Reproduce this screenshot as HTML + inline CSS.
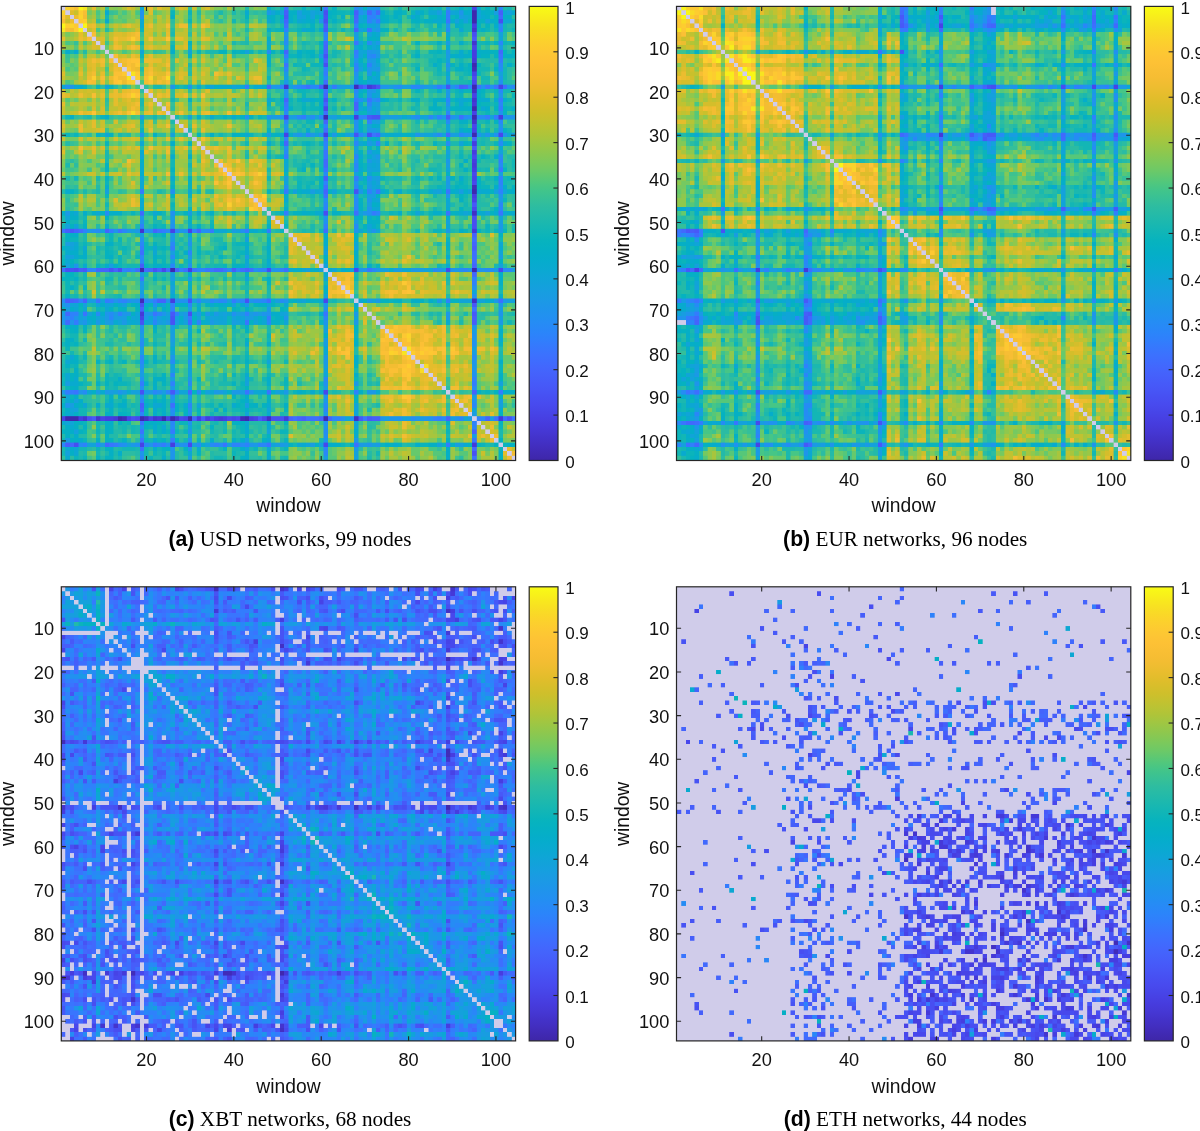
<!DOCTYPE html>
<html><head><meta charset="utf-8"><style>
html,body{margin:0;padding:0;background:#fff;}
body{width:1200px;height:1131px;overflow:hidden;}
svg{display:block;}
body{position:relative;}
.tk{font-family:"Liberation Sans",sans-serif;font-size:18.2px;fill:#111;}
.tkc{font-family:"Liberation Sans",sans-serif;font-size:17px;fill:#111;}
.lb{font-family:"Liberation Sans",sans-serif;font-size:19.3px;fill:#111;}
.cap{font-family:"Liberation Serif",serif;font-size:21.2px;fill:#000;}
.cb{font-family:"Liberation Sans",sans-serif;font-weight:bold;}
</style></head><body>
<svg width="1200" height="1131" viewBox="0 0 1200 1131" style="position:absolute;left:0;top:0;z-index:0" shape-rendering="crispEdges"><g transform="translate(61.30 6.40) scale(17.4731 17.4654)"><path d="M0 0h1.02v1.02h-1.02z" fill="#e4c55d"/><path d="M1 0h1.02v1.02h-1.02z" fill="#d1cb36"/><path d="M2 0h1.02v1.02h-1.02z" fill="#53c181"/><path d="M3 0h1.02v1.02h-1.02z" fill="#75c763"/><path d="M4 0h1.02v1.02h-1.02z" fill="#76bb70"/><path d="M5 0h1.02v1.02h-1.02z" fill="#a7c443"/><path d="M6 0h1.02v1.02h-1.02z" fill="#87c15b"/><path d="M7 0h1.02v1.02h-1.02z" fill="#5ac17a"/><path d="M8 0h1.02v1.02h-1.02z" fill="#7cc560"/><path d="M9 0h1.02v1.02h-1.02z" fill="#51c380"/><path d="M10 0h1.02v1.02h-1.02z" fill="#38bf96"/><path d="M11 0h1.02v1.02h-1.02z" fill="#43bd92"/><path d="M12 0h1.02v1.02h-1.02z" fill="#1d9dd0"/><path d="M13 0h1.02v1.02h-1.02z" fill="#10aec4"/><path d="M14 0h1.02v1.02h-1.02z" fill="#0eabca"/><path d="M15 0h1.02v1.02h-1.02z" fill="#1f9ec6"/><path d="M16 0h1.02v1.02h-1.02z" fill="#29a7bd"/><path d="M17 0h1.02v1.02h-1.02z" fill="#1d96e5"/><path d="M18 0h1.02v1.02h-1.02z" fill="#1da9c3"/><path d="M19 0h1.02v1.02h-1.02z" fill="#1fb9ac"/><path d="M20 0h1.02v1.02h-1.02z" fill="#12b3ba"/><path d="M21 0h1.02v1.02h-1.02z" fill="#0dafc4"/><path d="M22 0h1.02v1.02h-1.02z" fill="#17a0d7"/><path d="M23 0h1.02v1.02h-1.02z" fill="#198cc9"/><path d="M24 0h1.02v1.02h-1.02z" fill="#0cafc4"/><path d="M25 0h1.02v1.02h-1.02z" fill="#1e9dcf"/><path d="M0 1h1.02v1.02h-1.02z" fill="#d1cb36"/><path d="M1 1h1.02v1.02h-1.02z" fill="#e0c95b"/><path d="M2 1h1.02v1.02h-1.02z" fill="#94c450"/><path d="M3 1h1.02v1.02h-1.02z" fill="#cbc035"/><path d="M4 1h1.02v1.02h-1.02z" fill="#aabe4e"/><path d="M5 1h1.02v1.02h-1.02z" fill="#bbc238"/><path d="M6 1h1.02v1.02h-1.02z" fill="#adbf4c"/><path d="M7 1h1.02v1.02h-1.02z" fill="#8ec356"/><path d="M8 1h1.02v1.02h-1.02z" fill="#a4c447"/><path d="M9 1h1.02v1.02h-1.02z" fill="#85c657"/><path d="M10 1h1.02v1.02h-1.02z" fill="#6bc56b"/><path d="M11 1h1.02v1.02h-1.02z" fill="#73c267"/><path d="M12 1h1.02v1.02h-1.02z" fill="#40b2a3"/><path d="M13 1h1.02v1.02h-1.02z" fill="#3dbe92"/><path d="M14 1h1.02v1.02h-1.02z" fill="#28bba5"/><path d="M15 1h1.02v1.02h-1.02z" fill="#4cad9f"/><path d="M16 1h1.02v1.02h-1.02z" fill="#54b392"/><path d="M17 1h1.02v1.02h-1.02z" fill="#18aac6"/><path d="M18 1h1.02v1.02h-1.02z" fill="#39b99d"/><path d="M19 1h1.02v1.02h-1.02z" fill="#60c474"/><path d="M20 1h1.02v1.02h-1.02z" fill="#53c37e"/><path d="M21 1h1.02v1.02h-1.02z" fill="#41c08d"/><path d="M22 1h1.02v1.02h-1.02z" fill="#21b2b6"/><path d="M23 1h1.02v1.02h-1.02z" fill="#359faf"/><path d="M24 1h1.02v1.02h-1.02z" fill="#31bc9c"/><path d="M25 1h1.02v1.02h-1.02z" fill="#2cb3af"/><path d="M0 2h1.02v1.02h-1.02z" fill="#53c181"/><path d="M1 2h1.02v1.02h-1.02z" fill="#94c450"/><path d="M2 2h1.02v1.02h-1.02z" fill="#99c77d"/><path d="M3 2h1.02v1.02h-1.02z" fill="#b9c23f"/><path d="M4 2h1.02v1.02h-1.02z" fill="#90be5e"/><path d="M5 2h1.02v1.02h-1.02z" fill="#99c24f"/><path d="M6 2h1.02v1.02h-1.02z" fill="#7dc062"/><path d="M7 2h1.02v1.02h-1.02z" fill="#5cbe7d"/><path d="M8 2h1.02v1.02h-1.02z" fill="#74c366"/><path d="M9 2h1.02v1.02h-1.02z" fill="#55c17e"/><path d="M10 2h1.02v1.02h-1.02z" fill="#3cbf94"/><path d="M11 2h1.02v1.02h-1.02z" fill="#4cbd8b"/><path d="M12 2h1.02v1.02h-1.02z" fill="#3cb0a8"/><path d="M13 2h1.02v1.02h-1.02z" fill="#28baa4"/><path d="M14 2h1.02v1.02h-1.02z" fill="#1ab6b3"/><path d="M15 2h1.02v1.02h-1.02z" fill="#3aa7b0"/><path d="M16 2h1.02v1.02h-1.02z" fill="#40b2a4"/><path d="M17 2h1.02v1.02h-1.02z" fill="#13a2d8"/><path d="M18 2h1.02v1.02h-1.02z" fill="#35b8a3"/><path d="M19 2h1.02v1.02h-1.02z" fill="#44c28a"/><path d="M20 2h1.02v1.02h-1.02z" fill="#33bd9a"/><path d="M21 2h1.02v1.02h-1.02z" fill="#24baa7"/><path d="M22 2h1.02v1.02h-1.02z" fill="#1bb1bc"/><path d="M23 2h1.02v1.02h-1.02z" fill="#2498bd"/><path d="M24 2h1.02v1.02h-1.02z" fill="#1bb7af"/><path d="M25 2h1.02v1.02h-1.02z" fill="#19a8c7"/><path d="M0 3h1.02v1.02h-1.02z" fill="#75c763"/><path d="M1 3h1.02v1.02h-1.02z" fill="#cbc035"/><path d="M2 3h1.02v1.02h-1.02z" fill="#b9c23f"/><path d="M3 3h1.02v1.02h-1.02z" fill="#ecc360"/><path d="M4 3h1.02v1.02h-1.02z" fill="#bfc24b"/><path d="M5 3h1.02v1.02h-1.02z" fill="#d8bf2f"/><path d="M6 3h1.02v1.02h-1.02z" fill="#a3c24e"/><path d="M7 3h1.02v1.02h-1.02z" fill="#84c25c"/><path d="M8 3h1.02v1.02h-1.02z" fill="#a4c545"/><path d="M9 3h1.02v1.02h-1.02z" fill="#99c44c"/><path d="M10 3h1.02v1.02h-1.02z" fill="#78c661"/><path d="M11 3h1.02v1.02h-1.02z" fill="#89c05a"/><path d="M12 3h1.02v1.02h-1.02z" fill="#4bb798"/><path d="M13 3h1.02v1.02h-1.02z" fill="#2bbda1"/><path d="M14 3h1.02v1.02h-1.02z" fill="#24baa6"/><path d="M15 3h1.02v1.02h-1.02z" fill="#3dacaa"/><path d="M16 3h1.02v1.02h-1.02z" fill="#3eb4a3"/><path d="M17 3h1.02v1.02h-1.02z" fill="#16a6d1"/><path d="M18 3h1.02v1.02h-1.02z" fill="#34b9a1"/><path d="M19 3h1.02v1.02h-1.02z" fill="#4fc382"/><path d="M20 3h1.02v1.02h-1.02z" fill="#39c094"/><path d="M21 3h1.02v1.02h-1.02z" fill="#1db9ad"/><path d="M22 3h1.02v1.02h-1.02z" fill="#1cb2b9"/><path d="M23 3h1.02v1.02h-1.02z" fill="#2196b9"/><path d="M24 3h1.02v1.02h-1.02z" fill="#28bba4"/><path d="M25 3h1.02v1.02h-1.02z" fill="#21aebc"/><path d="M0 4h1.02v1.02h-1.02z" fill="#76bb70"/><path d="M1 4h1.02v1.02h-1.02z" fill="#aabe4e"/><path d="M2 4h1.02v1.02h-1.02z" fill="#90be5e"/><path d="M3 4h1.02v1.02h-1.02z" fill="#bfc24b"/><path d="M4 4h1.02v1.02h-1.02z" fill="#afc57d"/><path d="M5 4h1.02v1.02h-1.02z" fill="#b1c04c"/><path d="M6 4h1.02v1.02h-1.02z" fill="#8abf63"/><path d="M7 4h1.02v1.02h-1.02z" fill="#6cbe73"/><path d="M8 4h1.02v1.02h-1.02z" fill="#8abe5d"/><path d="M9 4h1.02v1.02h-1.02z" fill="#75be6b"/><path d="M10 4h1.02v1.02h-1.02z" fill="#78bb6f"/><path d="M11 4h1.02v1.02h-1.02z" fill="#73b678"/><path d="M12 4h1.02v1.02h-1.02z" fill="#3da9ad"/><path d="M13 4h1.02v1.02h-1.02z" fill="#31b2ad"/><path d="M14 4h1.02v1.02h-1.02z" fill="#2caab8"/><path d="M15 4h1.02v1.02h-1.02z" fill="#36a0b8"/><path d="M16 4h1.02v1.02h-1.02z" fill="#3baaab"/><path d="M17 4h1.02v1.02h-1.02z" fill="#1d93d4"/><path d="M18 4h1.02v1.02h-1.02z" fill="#36b0ac"/><path d="M19 4h1.02v1.02h-1.02z" fill="#46b898"/><path d="M20 4h1.02v1.02h-1.02z" fill="#38b4a8"/><path d="M21 4h1.02v1.02h-1.02z" fill="#2bb1b4"/><path d="M22 4h1.02v1.02h-1.02z" fill="#26a3c6"/><path d="M23 4h1.02v1.02h-1.02z" fill="#318dc2"/><path d="M24 4h1.02v1.02h-1.02z" fill="#25adbb"/><path d="M25 4h1.02v1.02h-1.02z" fill="#28a1c7"/><path d="M0 5h1.02v1.02h-1.02z" fill="#a7c443"/><path d="M1 5h1.02v1.02h-1.02z" fill="#bbc238"/><path d="M2 5h1.02v1.02h-1.02z" fill="#99c24f"/><path d="M3 5h1.02v1.02h-1.02z" fill="#d8bf2f"/><path d="M4 5h1.02v1.02h-1.02z" fill="#b1c04c"/><path d="M5 5h1.02v1.02h-1.02z" fill="#c2c564"/><path d="M6 5h1.02v1.02h-1.02z" fill="#94c058"/><path d="M7 5h1.02v1.02h-1.02z" fill="#77c366"/><path d="M8 5h1.02v1.02h-1.02z" fill="#99c54c"/><path d="M9 5h1.02v1.02h-1.02z" fill="#88c655"/><path d="M10 5h1.02v1.02h-1.02z" fill="#73c565"/><path d="M11 5h1.02v1.02h-1.02z" fill="#71c16a"/><path d="M12 5h1.02v1.02h-1.02z" fill="#2cabb8"/><path d="M13 5h1.02v1.02h-1.02z" fill="#1ab7b1"/><path d="M14 5h1.02v1.02h-1.02z" fill="#14b5b7"/><path d="M15 5h1.02v1.02h-1.02z" fill="#34a4b4"/><path d="M16 5h1.02v1.02h-1.02z" fill="#3eaea8"/><path d="M17 5h1.02v1.02h-1.02z" fill="#18a0d9"/><path d="M18 5h1.02v1.02h-1.02z" fill="#29b4b0"/><path d="M19 5h1.02v1.02h-1.02z" fill="#40c08e"/><path d="M20 5h1.02v1.02h-1.02z" fill="#2bbca2"/><path d="M21 5h1.02v1.02h-1.02z" fill="#19b6b2"/><path d="M22 5h1.02v1.02h-1.02z" fill="#14aac9"/><path d="M23 5h1.02v1.02h-1.02z" fill="#1e94bf"/><path d="M24 5h1.02v1.02h-1.02z" fill="#17b4b7"/><path d="M25 5h1.02v1.02h-1.02z" fill="#1baac5"/><path d="M0 6h1.02v1.02h-1.02z" fill="#87c15b"/><path d="M1 6h1.02v1.02h-1.02z" fill="#adbf4c"/><path d="M2 6h1.02v1.02h-1.02z" fill="#7dc062"/><path d="M3 6h1.02v1.02h-1.02z" fill="#a3c24e"/><path d="M4 6h1.02v1.02h-1.02z" fill="#8abf63"/><path d="M5 6h1.02v1.02h-1.02z" fill="#94c058"/><path d="M6 6h1.02v1.02h-1.02z" fill="#9cc381"/><path d="M7 6h1.02v1.02h-1.02z" fill="#78bf6a"/><path d="M8 6h1.02v1.02h-1.02z" fill="#91bf58"/><path d="M9 6h1.02v1.02h-1.02z" fill="#80c063"/><path d="M10 6h1.02v1.02h-1.02z" fill="#6abe74"/><path d="M11 6h1.02v1.02h-1.02z" fill="#6fbd70"/><path d="M12 6h1.02v1.02h-1.02z" fill="#4caba3"/><path d="M13 6h1.02v1.02h-1.02z" fill="#2bb2b2"/><path d="M14 6h1.02v1.02h-1.02z" fill="#26b1b5"/><path d="M15 6h1.02v1.02h-1.02z" fill="#36a3b4"/><path d="M16 6h1.02v1.02h-1.02z" fill="#41aea5"/><path d="M17 6h1.02v1.02h-1.02z" fill="#1f9ad5"/><path d="M18 6h1.02v1.02h-1.02z" fill="#38afac"/><path d="M19 6h1.02v1.02h-1.02z" fill="#45bd92"/><path d="M20 6h1.02v1.02h-1.02z" fill="#36b7a4"/><path d="M21 6h1.02v1.02h-1.02z" fill="#2db3b1"/><path d="M22 6h1.02v1.02h-1.02z" fill="#23a3c9"/><path d="M23 6h1.02v1.02h-1.02z" fill="#2890c4"/><path d="M24 6h1.02v1.02h-1.02z" fill="#23aebb"/><path d="M25 6h1.02v1.02h-1.02z" fill="#28a5c2"/><path d="M0 7h1.02v1.02h-1.02z" fill="#5ac17a"/><path d="M1 7h1.02v1.02h-1.02z" fill="#8ec356"/><path d="M2 7h1.02v1.02h-1.02z" fill="#5cbe7d"/><path d="M3 7h1.02v1.02h-1.02z" fill="#84c25c"/><path d="M4 7h1.02v1.02h-1.02z" fill="#6cbe73"/><path d="M5 7h1.02v1.02h-1.02z" fill="#77c366"/><path d="M6 7h1.02v1.02h-1.02z" fill="#78bf6a"/><path d="M7 7h1.02v1.02h-1.02z" fill="#7cc493"/><path d="M8 7h1.02v1.02h-1.02z" fill="#86c25d"/><path d="M9 7h1.02v1.02h-1.02z" fill="#72c268"/><path d="M10 7h1.02v1.02h-1.02z" fill="#58bf7d"/><path d="M11 7h1.02v1.02h-1.02z" fill="#5fbd7c"/><path d="M12 7h1.02v1.02h-1.02z" fill="#2fa8b5"/><path d="M13 7h1.02v1.02h-1.02z" fill="#27b6ae"/><path d="M14 7h1.02v1.02h-1.02z" fill="#22b1b8"/><path d="M15 7h1.02v1.02h-1.02z" fill="#37a6b3"/><path d="M16 7h1.02v1.02h-1.02z" fill="#3daeab"/><path d="M17 7h1.02v1.02h-1.02z" fill="#1b9ed5"/><path d="M18 7h1.02v1.02h-1.02z" fill="#32b1ae"/><path d="M19 7h1.02v1.02h-1.02z" fill="#40be91"/><path d="M20 7h1.02v1.02h-1.02z" fill="#36b9a0"/><path d="M21 7h1.02v1.02h-1.02z" fill="#2db6ab"/><path d="M22 7h1.02v1.02h-1.02z" fill="#22a9c4"/><path d="M23 7h1.02v1.02h-1.02z" fill="#2493c7"/><path d="M24 7h1.02v1.02h-1.02z" fill="#24b4b3"/><path d="M25 7h1.02v1.02h-1.02z" fill="#23a6c4"/><path d="M0 8h1.02v1.02h-1.02z" fill="#7cc560"/><path d="M1 8h1.02v1.02h-1.02z" fill="#a4c447"/><path d="M2 8h1.02v1.02h-1.02z" fill="#74c366"/><path d="M3 8h1.02v1.02h-1.02z" fill="#a4c545"/><path d="M4 8h1.02v1.02h-1.02z" fill="#8abe5d"/><path d="M5 8h1.02v1.02h-1.02z" fill="#99c54c"/><path d="M6 8h1.02v1.02h-1.02z" fill="#91bf58"/><path d="M7 8h1.02v1.02h-1.02z" fill="#86c25d"/><path d="M8 8h1.02v1.02h-1.02z" fill="#c7c463"/><path d="M9 8h1.02v1.02h-1.02z" fill="#b7c23e"/><path d="M10 8h1.02v1.02h-1.02z" fill="#98c350"/><path d="M11 8h1.02v1.02h-1.02z" fill="#8bc15a"/><path d="M12 8h1.02v1.02h-1.02z" fill="#4ab697"/><path d="M13 8h1.02v1.02h-1.02z" fill="#49c386"/><path d="M14 8h1.02v1.02h-1.02z" fill="#2bbca1"/><path d="M15 8h1.02v1.02h-1.02z" fill="#4cb19d"/><path d="M16 8h1.02v1.02h-1.02z" fill="#63b982"/><path d="M17 8h1.02v1.02h-1.02z" fill="#19afbf"/><path d="M18 8h1.02v1.02h-1.02z" fill="#4dbd8b"/><path d="M19 8h1.02v1.02h-1.02z" fill="#6dc56a"/><path d="M20 8h1.02v1.02h-1.02z" fill="#50c282"/><path d="M21 8h1.02v1.02h-1.02z" fill="#48c288"/><path d="M22 8h1.02v1.02h-1.02z" fill="#2bb8a8"/><path d="M23 8h1.02v1.02h-1.02z" fill="#39a0ad"/><path d="M24 8h1.02v1.02h-1.02z" fill="#37be97"/><path d="M25 8h1.02v1.02h-1.02z" fill="#31b5aa"/><path d="M0 9h1.02v1.02h-1.02z" fill="#51c380"/><path d="M1 9h1.02v1.02h-1.02z" fill="#85c657"/><path d="M2 9h1.02v1.02h-1.02z" fill="#55c17e"/><path d="M3 9h1.02v1.02h-1.02z" fill="#99c44c"/><path d="M4 9h1.02v1.02h-1.02z" fill="#75be6b"/><path d="M5 9h1.02v1.02h-1.02z" fill="#88c655"/><path d="M6 9h1.02v1.02h-1.02z" fill="#80c063"/><path d="M7 9h1.02v1.02h-1.02z" fill="#72c268"/><path d="M8 9h1.02v1.02h-1.02z" fill="#b7c23e"/><path d="M9 9h1.02v1.02h-1.02z" fill="#dfc361"/><path d="M10 9h1.02v1.02h-1.02z" fill="#c7c136"/><path d="M11 9h1.02v1.02h-1.02z" fill="#afbf4b"/><path d="M12 9h1.02v1.02h-1.02z" fill="#7abd6a"/><path d="M13 9h1.02v1.02h-1.02z" fill="#35be98"/><path d="M14 9h1.02v1.02h-1.02z" fill="#2fbc9d"/><path d="M15 9h1.02v1.02h-1.02z" fill="#45ada4"/><path d="M16 9h1.02v1.02h-1.02z" fill="#4ab699"/><path d="M17 9h1.02v1.02h-1.02z" fill="#12abca"/><path d="M18 9h1.02v1.02h-1.02z" fill="#3bbb99"/><path d="M19 9h1.02v1.02h-1.02z" fill="#54c27e"/><path d="M20 9h1.02v1.02h-1.02z" fill="#3fc090"/><path d="M21 9h1.02v1.02h-1.02z" fill="#2cbca0"/><path d="M22 9h1.02v1.02h-1.02z" fill="#28b5ad"/><path d="M23 9h1.02v1.02h-1.02z" fill="#319cb2"/><path d="M24 9h1.02v1.02h-1.02z" fill="#35be98"/><path d="M25 9h1.02v1.02h-1.02z" fill="#27aeb8"/><path d="M0 10h1.02v1.02h-1.02z" fill="#38bf96"/><path d="M1 10h1.02v1.02h-1.02z" fill="#6bc56b"/><path d="M2 10h1.02v1.02h-1.02z" fill="#3cbf94"/><path d="M3 10h1.02v1.02h-1.02z" fill="#78c661"/><path d="M4 10h1.02v1.02h-1.02z" fill="#78bb6f"/><path d="M5 10h1.02v1.02h-1.02z" fill="#73c565"/><path d="M6 10h1.02v1.02h-1.02z" fill="#6abe74"/><path d="M7 10h1.02v1.02h-1.02z" fill="#58bf7d"/><path d="M8 10h1.02v1.02h-1.02z" fill="#98c350"/><path d="M9 10h1.02v1.02h-1.02z" fill="#c7c136"/><path d="M10 10h1.02v1.02h-1.02z" fill="#b9c567"/><path d="M11 10h1.02v1.02h-1.02z" fill="#b0c14b"/><path d="M12 10h1.02v1.02h-1.02z" fill="#5fb983"/><path d="M13 10h1.02v1.02h-1.02z" fill="#27b9a7"/><path d="M14 10h1.02v1.02h-1.02z" fill="#17b3ba"/><path d="M15 10h1.02v1.02h-1.02z" fill="#36aab4"/><path d="M16 10h1.02v1.02h-1.02z" fill="#3db1a5"/><path d="M17 10h1.02v1.02h-1.02z" fill="#15a6d1"/><path d="M18 10h1.02v1.02h-1.02z" fill="#2eb5aa"/><path d="M19 10h1.02v1.02h-1.02z" fill="#48c089"/><path d="M20 10h1.02v1.02h-1.02z" fill="#36bd98"/><path d="M21 10h1.02v1.02h-1.02z" fill="#1eb6b1"/><path d="M22 10h1.02v1.02h-1.02z" fill="#17aac7"/><path d="M23 10h1.02v1.02h-1.02z" fill="#2094bf"/><path d="M24 10h1.02v1.02h-1.02z" fill="#19b5b5"/><path d="M25 10h1.02v1.02h-1.02z" fill="#1baac6"/><path d="M0 11h1.02v1.02h-1.02z" fill="#43bd92"/><path d="M1 11h1.02v1.02h-1.02z" fill="#73c267"/><path d="M2 11h1.02v1.02h-1.02z" fill="#4cbd8b"/><path d="M3 11h1.02v1.02h-1.02z" fill="#89c05a"/><path d="M4 11h1.02v1.02h-1.02z" fill="#73b678"/><path d="M5 11h1.02v1.02h-1.02z" fill="#71c16a"/><path d="M6 11h1.02v1.02h-1.02z" fill="#6fbd70"/><path d="M7 11h1.02v1.02h-1.02z" fill="#5fbd7c"/><path d="M8 11h1.02v1.02h-1.02z" fill="#8bc15a"/><path d="M9 11h1.02v1.02h-1.02z" fill="#afbf4b"/><path d="M10 11h1.02v1.02h-1.02z" fill="#b0c14b"/><path d="M11 11h1.02v1.02h-1.02z" fill="#b6c478"/><path d="M12 11h1.02v1.02h-1.02z" fill="#6bb878"/><path d="M13 11h1.02v1.02h-1.02z" fill="#35bf97"/><path d="M14 11h1.02v1.02h-1.02z" fill="#26baa7"/><path d="M15 11h1.02v1.02h-1.02z" fill="#47b09e"/><path d="M16 11h1.02v1.02h-1.02z" fill="#49b39c"/><path d="M17 11h1.02v1.02h-1.02z" fill="#17a5d1"/><path d="M18 11h1.02v1.02h-1.02z" fill="#41bb96"/><path d="M19 11h1.02v1.02h-1.02z" fill="#58c37b"/><path d="M20 11h1.02v1.02h-1.02z" fill="#3dbe93"/><path d="M21 11h1.02v1.02h-1.02z" fill="#2cbca1"/><path d="M22 11h1.02v1.02h-1.02z" fill="#1eb1b8"/><path d="M23 11h1.02v1.02h-1.02z" fill="#2699c0"/><path d="M24 11h1.02v1.02h-1.02z" fill="#24b8ab"/><path d="M25 11h1.02v1.02h-1.02z" fill="#2badb9"/><path d="M0 12h1.02v1.02h-1.02z" fill="#1d9dd0"/><path d="M1 12h1.02v1.02h-1.02z" fill="#40b2a3"/><path d="M2 12h1.02v1.02h-1.02z" fill="#3cb0a8"/><path d="M3 12h1.02v1.02h-1.02z" fill="#4bb798"/><path d="M4 12h1.02v1.02h-1.02z" fill="#3da9ad"/><path d="M5 12h1.02v1.02h-1.02z" fill="#2cabb8"/><path d="M6 12h1.02v1.02h-1.02z" fill="#4caba3"/><path d="M7 12h1.02v1.02h-1.02z" fill="#2fa8b5"/><path d="M8 12h1.02v1.02h-1.02z" fill="#4ab697"/><path d="M9 12h1.02v1.02h-1.02z" fill="#7abd6a"/><path d="M10 12h1.02v1.02h-1.02z" fill="#5fb983"/><path d="M11 12h1.02v1.02h-1.02z" fill="#6bb878"/><path d="M12 12h1.02v1.02h-1.02z" fill="#8fbf8c"/><path d="M13 12h1.02v1.02h-1.02z" fill="#60c474"/><path d="M14 12h1.02v1.02h-1.02z" fill="#3dc190"/><path d="M15 12h1.02v1.02h-1.02z" fill="#60b68a"/><path d="M16 12h1.02v1.02h-1.02z" fill="#64bc7e"/><path d="M17 12h1.02v1.02h-1.02z" fill="#14b0c0"/><path d="M18 12h1.02v1.02h-1.02z" fill="#54c081"/><path d="M19 12h1.02v1.02h-1.02z" fill="#77c661"/><path d="M20 12h1.02v1.02h-1.02z" fill="#67c66d"/><path d="M21 12h1.02v1.02h-1.02z" fill="#43c18b"/><path d="M22 12h1.02v1.02h-1.02z" fill="#30b8a5"/><path d="M23 12h1.02v1.02h-1.02z" fill="#40a2a7"/><path d="M24 12h1.02v1.02h-1.02z" fill="#39bf94"/><path d="M25 12h1.02v1.02h-1.02z" fill="#32b8a5"/><path d="M0 13h1.02v1.02h-1.02z" fill="#10aec4"/><path d="M1 13h1.02v1.02h-1.02z" fill="#3dbe92"/><path d="M2 13h1.02v1.02h-1.02z" fill="#28baa4"/><path d="M3 13h1.02v1.02h-1.02z" fill="#2bbda1"/><path d="M4 13h1.02v1.02h-1.02z" fill="#31b2ad"/><path d="M5 13h1.02v1.02h-1.02z" fill="#1ab7b1"/><path d="M6 13h1.02v1.02h-1.02z" fill="#2bb2b2"/><path d="M7 13h1.02v1.02h-1.02z" fill="#27b6ae"/><path d="M8 13h1.02v1.02h-1.02z" fill="#49c386"/><path d="M9 13h1.02v1.02h-1.02z" fill="#35be98"/><path d="M10 13h1.02v1.02h-1.02z" fill="#27b9a7"/><path d="M11 13h1.02v1.02h-1.02z" fill="#35bf97"/><path d="M12 13h1.02v1.02h-1.02z" fill="#60c474"/><path d="M13 13h1.02v1.02h-1.02z" fill="#d7c25d"/><path d="M14 13h1.02v1.02h-1.02z" fill="#bfc234"/><path d="M15 13h1.02v1.02h-1.02z" fill="#90bc5c"/><path d="M16 13h1.02v1.02h-1.02z" fill="#a1ba56"/><path d="M17 13h1.02v1.02h-1.02z" fill="#58c37b"/><path d="M18 13h1.02v1.02h-1.02z" fill="#8bc554"/><path d="M19 13h1.02v1.02h-1.02z" fill="#a9c53e"/><path d="M20 13h1.02v1.02h-1.02z" fill="#95c64b"/><path d="M21 13h1.02v1.02h-1.02z" fill="#77c661"/><path d="M22 13h1.02v1.02h-1.02z" fill="#5ec177"/><path d="M23 13h1.02v1.02h-1.02z" fill="#71af82"/><path d="M24 13h1.02v1.02h-1.02z" fill="#7ec75c"/><path d="M25 13h1.02v1.02h-1.02z" fill="#5fc277"/><path d="M0 14h1.02v1.02h-1.02z" fill="#0eabca"/><path d="M1 14h1.02v1.02h-1.02z" fill="#28bba5"/><path d="M2 14h1.02v1.02h-1.02z" fill="#1ab6b3"/><path d="M3 14h1.02v1.02h-1.02z" fill="#24baa6"/><path d="M4 14h1.02v1.02h-1.02z" fill="#2caab8"/><path d="M5 14h1.02v1.02h-1.02z" fill="#14b5b7"/><path d="M6 14h1.02v1.02h-1.02z" fill="#26b1b5"/><path d="M7 14h1.02v1.02h-1.02z" fill="#22b1b8"/><path d="M8 14h1.02v1.02h-1.02z" fill="#2bbca1"/><path d="M9 14h1.02v1.02h-1.02z" fill="#2fbc9d"/><path d="M10 14h1.02v1.02h-1.02z" fill="#17b3ba"/><path d="M11 14h1.02v1.02h-1.02z" fill="#26baa7"/><path d="M12 14h1.02v1.02h-1.02z" fill="#3dc190"/><path d="M13 14h1.02v1.02h-1.02z" fill="#bfc234"/><path d="M14 14h1.02v1.02h-1.02z" fill="#bdc465"/><path d="M15 14h1.02v1.02h-1.02z" fill="#87bc61"/><path d="M16 14h1.02v1.02h-1.02z" fill="#91bd59"/><path d="M17 14h1.02v1.02h-1.02z" fill="#4ac186"/><path d="M18 14h1.02v1.02h-1.02z" fill="#83c558"/><path d="M19 14h1.02v1.02h-1.02z" fill="#9ec549"/><path d="M20 14h1.02v1.02h-1.02z" fill="#88c654"/><path d="M21 14h1.02v1.02h-1.02z" fill="#68c56d"/><path d="M22 14h1.02v1.02h-1.02z" fill="#58c07e"/><path d="M23 14h1.02v1.02h-1.02z" fill="#5ab093"/><path d="M24 14h1.02v1.02h-1.02z" fill="#66c76d"/><path d="M25 14h1.02v1.02h-1.02z" fill="#47bd90"/><path d="M0 15h1.02v1.02h-1.02z" fill="#1f9ec6"/><path d="M1 15h1.02v1.02h-1.02z" fill="#4cad9f"/><path d="M2 15h1.02v1.02h-1.02z" fill="#3aa7b0"/><path d="M3 15h1.02v1.02h-1.02z" fill="#3dacaa"/><path d="M4 15h1.02v1.02h-1.02z" fill="#36a0b8"/><path d="M5 15h1.02v1.02h-1.02z" fill="#34a4b4"/><path d="M6 15h1.02v1.02h-1.02z" fill="#36a3b4"/><path d="M7 15h1.02v1.02h-1.02z" fill="#37a6b3"/><path d="M8 15h1.02v1.02h-1.02z" fill="#4cb19d"/><path d="M9 15h1.02v1.02h-1.02z" fill="#45ada4"/><path d="M10 15h1.02v1.02h-1.02z" fill="#36aab4"/><path d="M11 15h1.02v1.02h-1.02z" fill="#47b09e"/><path d="M12 15h1.02v1.02h-1.02z" fill="#60b68a"/><path d="M13 15h1.02v1.02h-1.02z" fill="#90bc5c"/><path d="M14 15h1.02v1.02h-1.02z" fill="#87bc61"/><path d="M15 15h1.02v1.02h-1.02z" fill="#8ebb97"/><path d="M16 15h1.02v1.02h-1.02z" fill="#92b271"/><path d="M17 15h1.02v1.02h-1.02z" fill="#6ab781"/><path d="M18 15h1.02v1.02h-1.02z" fill="#88ba67"/><path d="M19 15h1.02v1.02h-1.02z" fill="#a6b85b"/><path d="M20 15h1.02v1.02h-1.02z" fill="#95b85f"/><path d="M21 15h1.02v1.02h-1.02z" fill="#87b968"/><path d="M22 15h1.02v1.02h-1.02z" fill="#73b17e"/><path d="M23 15h1.02v1.02h-1.02z" fill="#66a393"/><path d="M24 15h1.02v1.02h-1.02z" fill="#82b86e"/><path d="M25 15h1.02v1.02h-1.02z" fill="#49b09c"/><path d="M0 16h1.02v1.02h-1.02z" fill="#29a7bd"/><path d="M1 16h1.02v1.02h-1.02z" fill="#54b392"/><path d="M2 16h1.02v1.02h-1.02z" fill="#40b2a4"/><path d="M3 16h1.02v1.02h-1.02z" fill="#3eb4a3"/><path d="M4 16h1.02v1.02h-1.02z" fill="#3baaab"/><path d="M5 16h1.02v1.02h-1.02z" fill="#3eaea8"/><path d="M6 16h1.02v1.02h-1.02z" fill="#41aea5"/><path d="M7 16h1.02v1.02h-1.02z" fill="#3daeab"/><path d="M8 16h1.02v1.02h-1.02z" fill="#63b982"/><path d="M9 16h1.02v1.02h-1.02z" fill="#4ab699"/><path d="M10 16h1.02v1.02h-1.02z" fill="#3db1a5"/><path d="M11 16h1.02v1.02h-1.02z" fill="#49b39c"/><path d="M12 16h1.02v1.02h-1.02z" fill="#64bc7e"/><path d="M13 16h1.02v1.02h-1.02z" fill="#a1ba56"/><path d="M14 16h1.02v1.02h-1.02z" fill="#91bd59"/><path d="M15 16h1.02v1.02h-1.02z" fill="#92b271"/><path d="M16 16h1.02v1.02h-1.02z" fill="#a1c488"/><path d="M17 16h1.02v1.02h-1.02z" fill="#70be71"/><path d="M18 16h1.02v1.02h-1.02z" fill="#95bc5f"/><path d="M19 16h1.02v1.02h-1.02z" fill="#afbc51"/><path d="M20 16h1.02v1.02h-1.02z" fill="#9abd55"/><path d="M21 16h1.02v1.02h-1.02z" fill="#97bc57"/><path d="M22 16h1.02v1.02h-1.02z" fill="#78ba70"/><path d="M23 16h1.02v1.02h-1.02z" fill="#6eac82"/><path d="M24 16h1.02v1.02h-1.02z" fill="#80bd66"/><path d="M25 16h1.02v1.02h-1.02z" fill="#63b684"/><path d="M0 17h1.02v1.02h-1.02z" fill="#1d96e5"/><path d="M1 17h1.02v1.02h-1.02z" fill="#18aac6"/><path d="M2 17h1.02v1.02h-1.02z" fill="#13a2d8"/><path d="M3 17h1.02v1.02h-1.02z" fill="#16a6d1"/><path d="M4 17h1.02v1.02h-1.02z" fill="#1d93d4"/><path d="M5 17h1.02v1.02h-1.02z" fill="#18a0d9"/><path d="M6 17h1.02v1.02h-1.02z" fill="#1f9ad5"/><path d="M7 17h1.02v1.02h-1.02z" fill="#1b9ed5"/><path d="M8 17h1.02v1.02h-1.02z" fill="#19afbf"/><path d="M9 17h1.02v1.02h-1.02z" fill="#12abca"/><path d="M10 17h1.02v1.02h-1.02z" fill="#15a6d1"/><path d="M11 17h1.02v1.02h-1.02z" fill="#17a5d1"/><path d="M12 17h1.02v1.02h-1.02z" fill="#14b0c0"/><path d="M13 17h1.02v1.02h-1.02z" fill="#58c37b"/><path d="M14 17h1.02v1.02h-1.02z" fill="#4ac186"/><path d="M15 17h1.02v1.02h-1.02z" fill="#6ab781"/><path d="M16 17h1.02v1.02h-1.02z" fill="#70be71"/><path d="M17 17h1.02v1.02h-1.02z" fill="#abc76e"/><path d="M18 17h1.02v1.02h-1.02z" fill="#84c758"/><path d="M19 17h1.02v1.02h-1.02z" fill="#88c556"/><path d="M20 17h1.02v1.02h-1.02z" fill="#62c472"/><path d="M21 17h1.02v1.02h-1.02z" fill="#45c28a"/><path d="M22 17h1.02v1.02h-1.02z" fill="#57be83"/><path d="M23 17h1.02v1.02h-1.02z" fill="#53ab9a"/><path d="M24 17h1.02v1.02h-1.02z" fill="#56c47c"/><path d="M25 17h1.02v1.02h-1.02z" fill="#3bb9a0"/><path d="M0 18h1.02v1.02h-1.02z" fill="#1da9c3"/><path d="M1 18h1.02v1.02h-1.02z" fill="#39b99d"/><path d="M2 18h1.02v1.02h-1.02z" fill="#35b8a3"/><path d="M3 18h1.02v1.02h-1.02z" fill="#34b9a1"/><path d="M4 18h1.02v1.02h-1.02z" fill="#36b0ac"/><path d="M5 18h1.02v1.02h-1.02z" fill="#29b4b0"/><path d="M6 18h1.02v1.02h-1.02z" fill="#38afac"/><path d="M7 18h1.02v1.02h-1.02z" fill="#32b1ae"/><path d="M8 18h1.02v1.02h-1.02z" fill="#4dbd8b"/><path d="M9 18h1.02v1.02h-1.02z" fill="#3bbb99"/><path d="M10 18h1.02v1.02h-1.02z" fill="#2eb5aa"/><path d="M11 18h1.02v1.02h-1.02z" fill="#41bb96"/><path d="M12 18h1.02v1.02h-1.02z" fill="#54c081"/><path d="M13 18h1.02v1.02h-1.02z" fill="#8bc554"/><path d="M14 18h1.02v1.02h-1.02z" fill="#83c558"/><path d="M15 18h1.02v1.02h-1.02z" fill="#88ba67"/><path d="M16 18h1.02v1.02h-1.02z" fill="#95bc5f"/><path d="M17 18h1.02v1.02h-1.02z" fill="#84c758"/><path d="M18 18h1.02v1.02h-1.02z" fill="#bec66f"/><path d="M19 18h1.02v1.02h-1.02z" fill="#ddc339"/><path d="M20 18h1.02v1.02h-1.02z" fill="#cdc03c"/><path d="M21 18h1.02v1.02h-1.02z" fill="#bbbf43"/><path d="M22 18h1.02v1.02h-1.02z" fill="#98c057"/><path d="M23 18h1.02v1.02h-1.02z" fill="#8ab46e"/><path d="M24 18h1.02v1.02h-1.02z" fill="#95c44e"/><path d="M25 18h1.02v1.02h-1.02z" fill="#5abe7f"/><path d="M0 19h1.02v1.02h-1.02z" fill="#1fb9ac"/><path d="M1 19h1.02v1.02h-1.02z" fill="#60c474"/><path d="M2 19h1.02v1.02h-1.02z" fill="#44c28a"/><path d="M3 19h1.02v1.02h-1.02z" fill="#4fc382"/><path d="M4 19h1.02v1.02h-1.02z" fill="#46b898"/><path d="M5 19h1.02v1.02h-1.02z" fill="#40c08e"/><path d="M6 19h1.02v1.02h-1.02z" fill="#45bd92"/><path d="M7 19h1.02v1.02h-1.02z" fill="#40be91"/><path d="M8 19h1.02v1.02h-1.02z" fill="#6dc56a"/><path d="M9 19h1.02v1.02h-1.02z" fill="#54c27e"/><path d="M10 19h1.02v1.02h-1.02z" fill="#48c089"/><path d="M11 19h1.02v1.02h-1.02z" fill="#58c37b"/><path d="M12 19h1.02v1.02h-1.02z" fill="#77c661"/><path d="M13 19h1.02v1.02h-1.02z" fill="#a9c53e"/><path d="M14 19h1.02v1.02h-1.02z" fill="#9ec549"/><path d="M15 19h1.02v1.02h-1.02z" fill="#a6b85b"/><path d="M16 19h1.02v1.02h-1.02z" fill="#afbc51"/><path d="M17 19h1.02v1.02h-1.02z" fill="#88c556"/><path d="M18 19h1.02v1.02h-1.02z" fill="#ddc339"/><path d="M19 19h1.02v1.02h-1.02z" fill="#eec95e"/><path d="M20 19h1.02v1.02h-1.02z" fill="#f2c131"/><path d="M21 19h1.02v1.02h-1.02z" fill="#e6c031"/><path d="M22 19h1.02v1.02h-1.02z" fill="#b9c342"/><path d="M23 19h1.02v1.02h-1.02z" fill="#a7b55e"/><path d="M24 19h1.02v1.02h-1.02z" fill="#b6c33c"/><path d="M25 19h1.02v1.02h-1.02z" fill="#7bc162"/><path d="M0 20h1.02v1.02h-1.02z" fill="#12b3ba"/><path d="M1 20h1.02v1.02h-1.02z" fill="#53c37e"/><path d="M2 20h1.02v1.02h-1.02z" fill="#33bd9a"/><path d="M3 20h1.02v1.02h-1.02z" fill="#39c094"/><path d="M4 20h1.02v1.02h-1.02z" fill="#38b4a8"/><path d="M5 20h1.02v1.02h-1.02z" fill="#2bbca2"/><path d="M6 20h1.02v1.02h-1.02z" fill="#36b7a4"/><path d="M7 20h1.02v1.02h-1.02z" fill="#36b9a0"/><path d="M8 20h1.02v1.02h-1.02z" fill="#50c282"/><path d="M9 20h1.02v1.02h-1.02z" fill="#3fc090"/><path d="M10 20h1.02v1.02h-1.02z" fill="#36bd98"/><path d="M11 20h1.02v1.02h-1.02z" fill="#3dbe93"/><path d="M12 20h1.02v1.02h-1.02z" fill="#67c66d"/><path d="M13 20h1.02v1.02h-1.02z" fill="#95c64b"/><path d="M14 20h1.02v1.02h-1.02z" fill="#88c654"/><path d="M15 20h1.02v1.02h-1.02z" fill="#95b85f"/><path d="M16 20h1.02v1.02h-1.02z" fill="#9abd55"/><path d="M17 20h1.02v1.02h-1.02z" fill="#62c472"/><path d="M18 20h1.02v1.02h-1.02z" fill="#cdc03c"/><path d="M19 20h1.02v1.02h-1.02z" fill="#f2c131"/><path d="M20 20h1.02v1.02h-1.02z" fill="#e4c65e"/><path d="M21 20h1.02v1.02h-1.02z" fill="#ddbe2f"/><path d="M22 20h1.02v1.02h-1.02z" fill="#adc146"/><path d="M23 20h1.02v1.02h-1.02z" fill="#90b766"/><path d="M24 20h1.02v1.02h-1.02z" fill="#aac43d"/><path d="M25 20h1.02v1.02h-1.02z" fill="#62c373"/><path d="M0 21h1.02v1.02h-1.02z" fill="#0dafc4"/><path d="M1 21h1.02v1.02h-1.02z" fill="#41c08d"/><path d="M2 21h1.02v1.02h-1.02z" fill="#24baa7"/><path d="M3 21h1.02v1.02h-1.02z" fill="#1db9ad"/><path d="M4 21h1.02v1.02h-1.02z" fill="#2bb1b4"/><path d="M5 21h1.02v1.02h-1.02z" fill="#19b6b2"/><path d="M6 21h1.02v1.02h-1.02z" fill="#2db3b1"/><path d="M7 21h1.02v1.02h-1.02z" fill="#2db6ab"/><path d="M8 21h1.02v1.02h-1.02z" fill="#48c288"/><path d="M9 21h1.02v1.02h-1.02z" fill="#2cbca0"/><path d="M10 21h1.02v1.02h-1.02z" fill="#1eb6b1"/><path d="M11 21h1.02v1.02h-1.02z" fill="#2cbca1"/><path d="M12 21h1.02v1.02h-1.02z" fill="#43c18b"/><path d="M13 21h1.02v1.02h-1.02z" fill="#77c661"/><path d="M14 21h1.02v1.02h-1.02z" fill="#68c56d"/><path d="M15 21h1.02v1.02h-1.02z" fill="#87b968"/><path d="M16 21h1.02v1.02h-1.02z" fill="#97bc57"/><path d="M17 21h1.02v1.02h-1.02z" fill="#45c28a"/><path d="M18 21h1.02v1.02h-1.02z" fill="#bbbf43"/><path d="M19 21h1.02v1.02h-1.02z" fill="#e6c031"/><path d="M20 21h1.02v1.02h-1.02z" fill="#ddbe2f"/><path d="M21 21h1.02v1.02h-1.02z" fill="#d4c25c"/><path d="M22 21h1.02v1.02h-1.02z" fill="#a4c14a"/><path d="M23 21h1.02v1.02h-1.02z" fill="#82b474"/><path d="M24 21h1.02v1.02h-1.02z" fill="#8ac752"/><path d="M25 21h1.02v1.02h-1.02z" fill="#49c089"/><path d="M0 22h1.02v1.02h-1.02z" fill="#17a0d7"/><path d="M1 22h1.02v1.02h-1.02z" fill="#21b2b6"/><path d="M2 22h1.02v1.02h-1.02z" fill="#1bb1bc"/><path d="M3 22h1.02v1.02h-1.02z" fill="#1cb2b9"/><path d="M4 22h1.02v1.02h-1.02z" fill="#26a3c6"/><path d="M5 22h1.02v1.02h-1.02z" fill="#14aac9"/><path d="M6 22h1.02v1.02h-1.02z" fill="#23a3c9"/><path d="M7 22h1.02v1.02h-1.02z" fill="#22a9c4"/><path d="M8 22h1.02v1.02h-1.02z" fill="#2bb8a8"/><path d="M9 22h1.02v1.02h-1.02z" fill="#28b5ad"/><path d="M10 22h1.02v1.02h-1.02z" fill="#17aac7"/><path d="M11 22h1.02v1.02h-1.02z" fill="#1eb1b8"/><path d="M12 22h1.02v1.02h-1.02z" fill="#30b8a5"/><path d="M13 22h1.02v1.02h-1.02z" fill="#5ec177"/><path d="M14 22h1.02v1.02h-1.02z" fill="#58c07e"/><path d="M15 22h1.02v1.02h-1.02z" fill="#73b17e"/><path d="M16 22h1.02v1.02h-1.02z" fill="#78ba70"/><path d="M17 22h1.02v1.02h-1.02z" fill="#57be83"/><path d="M18 22h1.02v1.02h-1.02z" fill="#98c057"/><path d="M19 22h1.02v1.02h-1.02z" fill="#b9c342"/><path d="M20 22h1.02v1.02h-1.02z" fill="#adc146"/><path d="M21 22h1.02v1.02h-1.02z" fill="#a4c14a"/><path d="M22 22h1.02v1.02h-1.02z" fill="#9ec282"/><path d="M23 22h1.02v1.02h-1.02z" fill="#82b17b"/><path d="M24 22h1.02v1.02h-1.02z" fill="#72c268"/><path d="M25 22h1.02v1.02h-1.02z" fill="#40b69c"/><path d="M0 23h1.02v1.02h-1.02z" fill="#198cc9"/><path d="M1 23h1.02v1.02h-1.02z" fill="#359faf"/><path d="M2 23h1.02v1.02h-1.02z" fill="#2498bd"/><path d="M3 23h1.02v1.02h-1.02z" fill="#2196b9"/><path d="M4 23h1.02v1.02h-1.02z" fill="#318dc2"/><path d="M5 23h1.02v1.02h-1.02z" fill="#1e94bf"/><path d="M6 23h1.02v1.02h-1.02z" fill="#2890c4"/><path d="M7 23h1.02v1.02h-1.02z" fill="#2493c7"/><path d="M8 23h1.02v1.02h-1.02z" fill="#39a0ad"/><path d="M9 23h1.02v1.02h-1.02z" fill="#319cb2"/><path d="M10 23h1.02v1.02h-1.02z" fill="#2094bf"/><path d="M11 23h1.02v1.02h-1.02z" fill="#2699c0"/><path d="M12 23h1.02v1.02h-1.02z" fill="#40a2a7"/><path d="M13 23h1.02v1.02h-1.02z" fill="#71af82"/><path d="M14 23h1.02v1.02h-1.02z" fill="#5ab093"/><path d="M15 23h1.02v1.02h-1.02z" fill="#66a393"/><path d="M16 23h1.02v1.02h-1.02z" fill="#6eac82"/><path d="M17 23h1.02v1.02h-1.02z" fill="#53ab9a"/><path d="M18 23h1.02v1.02h-1.02z" fill="#8ab46e"/><path d="M19 23h1.02v1.02h-1.02z" fill="#a7b55e"/><path d="M20 23h1.02v1.02h-1.02z" fill="#90b766"/><path d="M21 23h1.02v1.02h-1.02z" fill="#82b474"/><path d="M22 23h1.02v1.02h-1.02z" fill="#82b17b"/><path d="M23 23h1.02v1.02h-1.02z" fill="#81b5a9"/><path d="M24 23h1.02v1.02h-1.02z" fill="#92b269"/><path d="M25 23h1.02v1.02h-1.02z" fill="#54a897"/><path d="M0 24h1.02v1.02h-1.02z" fill="#0cafc4"/><path d="M1 24h1.02v1.02h-1.02z" fill="#31bc9c"/><path d="M2 24h1.02v1.02h-1.02z" fill="#1bb7af"/><path d="M3 24h1.02v1.02h-1.02z" fill="#28bba4"/><path d="M4 24h1.02v1.02h-1.02z" fill="#25adbb"/><path d="M5 24h1.02v1.02h-1.02z" fill="#17b4b7"/><path d="M6 24h1.02v1.02h-1.02z" fill="#23aebb"/><path d="M7 24h1.02v1.02h-1.02z" fill="#24b4b3"/><path d="M8 24h1.02v1.02h-1.02z" fill="#37be97"/><path d="M9 24h1.02v1.02h-1.02z" fill="#35be98"/><path d="M10 24h1.02v1.02h-1.02z" fill="#19b5b5"/><path d="M11 24h1.02v1.02h-1.02z" fill="#24b8ab"/><path d="M12 24h1.02v1.02h-1.02z" fill="#39bf94"/><path d="M13 24h1.02v1.02h-1.02z" fill="#7ec75c"/><path d="M14 24h1.02v1.02h-1.02z" fill="#66c76d"/><path d="M15 24h1.02v1.02h-1.02z" fill="#82b86e"/><path d="M16 24h1.02v1.02h-1.02z" fill="#80bd66"/><path d="M17 24h1.02v1.02h-1.02z" fill="#56c47c"/><path d="M18 24h1.02v1.02h-1.02z" fill="#95c44e"/><path d="M19 24h1.02v1.02h-1.02z" fill="#b6c33c"/><path d="M20 24h1.02v1.02h-1.02z" fill="#aac43d"/><path d="M21 24h1.02v1.02h-1.02z" fill="#8ac752"/><path d="M22 24h1.02v1.02h-1.02z" fill="#72c268"/><path d="M23 24h1.02v1.02h-1.02z" fill="#92b269"/><path d="M24 24h1.02v1.02h-1.02z" fill="#cac363"/><path d="M25 24h1.02v1.02h-1.02z" fill="#70c269"/><path d="M0 25h1.02v1.02h-1.02z" fill="#1e9dcf"/><path d="M1 25h1.02v1.02h-1.02z" fill="#2cb3af"/><path d="M2 25h1.02v1.02h-1.02z" fill="#19a8c7"/><path d="M3 25h1.02v1.02h-1.02z" fill="#21aebc"/><path d="M4 25h1.02v1.02h-1.02z" fill="#28a1c7"/><path d="M5 25h1.02v1.02h-1.02z" fill="#1baac5"/><path d="M6 25h1.02v1.02h-1.02z" fill="#28a5c2"/><path d="M7 25h1.02v1.02h-1.02z" fill="#23a6c4"/><path d="M8 25h1.02v1.02h-1.02z" fill="#31b5aa"/><path d="M9 25h1.02v1.02h-1.02z" fill="#27aeb8"/><path d="M10 25h1.02v1.02h-1.02z" fill="#1baac6"/><path d="M11 25h1.02v1.02h-1.02z" fill="#2badb9"/><path d="M12 25h1.02v1.02h-1.02z" fill="#32b8a5"/><path d="M13 25h1.02v1.02h-1.02z" fill="#5fc277"/><path d="M14 25h1.02v1.02h-1.02z" fill="#47bd90"/><path d="M15 25h1.02v1.02h-1.02z" fill="#49b09c"/><path d="M16 25h1.02v1.02h-1.02z" fill="#63b684"/><path d="M17 25h1.02v1.02h-1.02z" fill="#3bb9a0"/><path d="M18 25h1.02v1.02h-1.02z" fill="#5abe7f"/><path d="M19 25h1.02v1.02h-1.02z" fill="#7bc162"/><path d="M20 25h1.02v1.02h-1.02z" fill="#62c373"/><path d="M21 25h1.02v1.02h-1.02z" fill="#49c089"/><path d="M22 25h1.02v1.02h-1.02z" fill="#40b69c"/><path d="M23 25h1.02v1.02h-1.02z" fill="#54a897"/><path d="M24 25h1.02v1.02h-1.02z" fill="#70c269"/><path d="M25 25h1.02v1.02h-1.02z" fill="#8abd94"/></g><g transform="translate(676.50 6.40) scale(17.4731 17.4654)"><path d="M0 0h1.02v1.02h-1.02z" fill="#f0d956"/><path d="M1 0h1.02v1.02h-1.02z" fill="#eac62e"/><path d="M2 0h1.02v1.02h-1.02z" fill="#acbf4a"/><path d="M3 0h1.02v1.02h-1.02z" fill="#c5c135"/><path d="M4 0h1.02v1.02h-1.02z" fill="#a6bd4f"/><path d="M5 0h1.02v1.02h-1.02z" fill="#b8c337"/><path d="M6 0h1.02v1.02h-1.02z" fill="#adc43d"/><path d="M7 0h1.02v1.02h-1.02z" fill="#59c17b"/><path d="M8 0h1.02v1.02h-1.02z" fill="#81c25d"/><path d="M9 0h1.02v1.02h-1.02z" fill="#8dc651"/><path d="M10 0h1.02v1.02h-1.02z" fill="#6ec767"/><path d="M11 0h1.02v1.02h-1.02z" fill="#49be8b"/><path d="M12 0h1.02v1.02h-1.02z" fill="#29a4bf"/><path d="M13 0h1.02v1.02h-1.02z" fill="#19a7cb"/><path d="M14 0h1.02v1.02h-1.02z" fill="#0bacca"/><path d="M15 0h1.02v1.02h-1.02z" fill="#1ca4c8"/><path d="M16 0h1.02v1.02h-1.02z" fill="#1babc3"/><path d="M17 0h1.02v1.02h-1.02z" fill="#189be1"/><path d="M18 0h1.02v1.02h-1.02z" fill="#2bb1c8"/><path d="M19 0h1.02v1.02h-1.02z" fill="#19b6b4"/><path d="M20 0h1.02v1.02h-1.02z" fill="#0fb2bd"/><path d="M21 0h1.02v1.02h-1.02z" fill="#0fafc4"/><path d="M22 0h1.02v1.02h-1.02z" fill="#14a6cf"/><path d="M23 0h1.02v1.02h-1.02z" fill="#179fd5"/><path d="M24 0h1.02v1.02h-1.02z" fill="#0aafc4"/><path d="M25 0h1.02v1.02h-1.02z" fill="#17a9c7"/><path d="M0 1h1.02v1.02h-1.02z" fill="#eac62e"/><path d="M1 1h1.02v1.02h-1.02z" fill="#d3c363"/><path d="M2 1h1.02v1.02h-1.02z" fill="#b8c34b"/><path d="M3 1h1.02v1.02h-1.02z" fill="#d9c534"/><path d="M4 1h1.02v1.02h-1.02z" fill="#b5c24a"/><path d="M5 1h1.02v1.02h-1.02z" fill="#b6c23d"/><path d="M6 1h1.02v1.02h-1.02z" fill="#a6c444"/><path d="M7 1h1.02v1.02h-1.02z" fill="#58c17d"/><path d="M8 1h1.02v1.02h-1.02z" fill="#7ec263"/><path d="M9 1h1.02v1.02h-1.02z" fill="#8ac554"/><path d="M10 1h1.02v1.02h-1.02z" fill="#69c46e"/><path d="M11 1h1.02v1.02h-1.02z" fill="#54bc85"/><path d="M12 1h1.02v1.02h-1.02z" fill="#58b090"/><path d="M13 1h1.02v1.02h-1.02z" fill="#33afad"/><path d="M14 1h1.02v1.02h-1.02z" fill="#2ab6ab"/><path d="M15 1h1.02v1.02h-1.02z" fill="#41ada1"/><path d="M16 1h1.02v1.02h-1.02z" fill="#3ab4a3"/><path d="M17 1h1.02v1.02h-1.02z" fill="#1ea2cf"/><path d="M18 1h1.02v1.02h-1.02z" fill="#39afa9"/><path d="M19 1h1.02v1.02h-1.02z" fill="#47bb8f"/><path d="M20 1h1.02v1.02h-1.02z" fill="#35b9a0"/><path d="M21 1h1.02v1.02h-1.02z" fill="#37b7a2"/><path d="M22 1h1.02v1.02h-1.02z" fill="#2bb0b3"/><path d="M23 1h1.02v1.02h-1.02z" fill="#2da8c0"/><path d="M24 1h1.02v1.02h-1.02z" fill="#37b7a2"/><path d="M25 1h1.02v1.02h-1.02z" fill="#37b2a6"/><path d="M0 2h1.02v1.02h-1.02z" fill="#acbf4a"/><path d="M1 2h1.02v1.02h-1.02z" fill="#b8c34b"/><path d="M2 2h1.02v1.02h-1.02z" fill="#cecc64"/><path d="M3 2h1.02v1.02h-1.02z" fill="#ded033"/><path d="M4 2h1.02v1.02h-1.02z" fill="#b7c34f"/><path d="M5 2h1.02v1.02h-1.02z" fill="#b0be4d"/><path d="M6 2h1.02v1.02h-1.02z" fill="#aebd50"/><path d="M7 2h1.02v1.02h-1.02z" fill="#79bc6d"/><path d="M8 2h1.02v1.02h-1.02z" fill="#7ebf66"/><path d="M9 2h1.02v1.02h-1.02z" fill="#9cbd51"/><path d="M10 2h1.02v1.02h-1.02z" fill="#7ebf64"/><path d="M11 2h1.02v1.02h-1.02z" fill="#64b780"/><path d="M12 2h1.02v1.02h-1.02z" fill="#79b575"/><path d="M13 2h1.02v1.02h-1.02z" fill="#42bf8f"/><path d="M14 2h1.02v1.02h-1.02z" fill="#4bc087"/><path d="M15 2h1.02v1.02h-1.02z" fill="#56be85"/><path d="M16 2h1.02v1.02h-1.02z" fill="#5abf7d"/><path d="M17 2h1.02v1.02h-1.02z" fill="#12b3bb"/><path d="M18 2h1.02v1.02h-1.02z" fill="#4ebf86"/><path d="M19 2h1.02v1.02h-1.02z" fill="#72c466"/><path d="M20 2h1.02v1.02h-1.02z" fill="#53c37f"/><path d="M21 2h1.02v1.02h-1.02z" fill="#50c480"/><path d="M22 2h1.02v1.02h-1.02z" fill="#3dbe94"/><path d="M23 2h1.02v1.02h-1.02z" fill="#2cb7a9"/><path d="M24 2h1.02v1.02h-1.02z" fill="#4ec383"/><path d="M25 2h1.02v1.02h-1.02z" fill="#49bb90"/><path d="M0 3h1.02v1.02h-1.02z" fill="#c5c135"/><path d="M1 3h1.02v1.02h-1.02z" fill="#d9c534"/><path d="M2 3h1.02v1.02h-1.02z" fill="#ded033"/><path d="M3 3h1.02v1.02h-1.02z" fill="#f0d05b"/><path d="M4 3h1.02v1.02h-1.02z" fill="#dbd235"/><path d="M5 3h1.02v1.02h-1.02z" fill="#eec132"/><path d="M6 3h1.02v1.02h-1.02z" fill="#ddc130"/><path d="M7 3h1.02v1.02h-1.02z" fill="#9ec34b"/><path d="M8 3h1.02v1.02h-1.02z" fill="#99c150"/><path d="M9 3h1.02v1.02h-1.02z" fill="#c4c138"/><path d="M10 3h1.02v1.02h-1.02z" fill="#9ec448"/><path d="M11 3h1.02v1.02h-1.02z" fill="#75c267"/><path d="M12 3h1.02v1.02h-1.02z" fill="#94bc5a"/><path d="M13 3h1.02v1.02h-1.02z" fill="#28b9a6"/><path d="M14 3h1.02v1.02h-1.02z" fill="#2cbba0"/><path d="M15 3h1.02v1.02h-1.02z" fill="#41b89b"/><path d="M16 3h1.02v1.02h-1.02z" fill="#3dbd95"/><path d="M17 3h1.02v1.02h-1.02z" fill="#16aec2"/><path d="M18 3h1.02v1.02h-1.02z" fill="#40bb97"/><path d="M19 3h1.02v1.02h-1.02z" fill="#4cc383"/><path d="M20 3h1.02v1.02h-1.02z" fill="#49c088"/><path d="M21 3h1.02v1.02h-1.02z" fill="#32be9b"/><path d="M22 3h1.02v1.02h-1.02z" fill="#2fb9a3"/><path d="M23 3h1.02v1.02h-1.02z" fill="#27b2b2"/><path d="M24 3h1.02v1.02h-1.02z" fill="#3ec18f"/><path d="M25 3h1.02v1.02h-1.02z" fill="#35b8a2"/><path d="M0 4h1.02v1.02h-1.02z" fill="#a6bd4f"/><path d="M1 4h1.02v1.02h-1.02z" fill="#b5c24a"/><path d="M2 4h1.02v1.02h-1.02z" fill="#b7c34f"/><path d="M3 4h1.02v1.02h-1.02z" fill="#dbd235"/><path d="M4 4h1.02v1.02h-1.02z" fill="#ced061"/><path d="M5 4h1.02v1.02h-1.02z" fill="#d5c93e"/><path d="M6 4h1.02v1.02h-1.02z" fill="#cbc146"/><path d="M7 4h1.02v1.02h-1.02z" fill="#98bc5b"/><path d="M8 4h1.02v1.02h-1.02z" fill="#8ebe60"/><path d="M9 4h1.02v1.02h-1.02z" fill="#b0bd4c"/><path d="M10 4h1.02v1.02h-1.02z" fill="#96bc57"/><path d="M11 4h1.02v1.02h-1.02z" fill="#6ebc75"/><path d="M12 4h1.02v1.02h-1.02z" fill="#82b671"/><path d="M13 4h1.02v1.02h-1.02z" fill="#39b6a3"/><path d="M14 4h1.02v1.02h-1.02z" fill="#3fb5a1"/><path d="M15 4h1.02v1.02h-1.02z" fill="#4aada1"/><path d="M16 4h1.02v1.02h-1.02z" fill="#44b39e"/><path d="M17 4h1.02v1.02h-1.02z" fill="#21a2c7"/><path d="M18 4h1.02v1.02h-1.02z" fill="#41aea6"/><path d="M19 4h1.02v1.02h-1.02z" fill="#5cbd81"/><path d="M20 4h1.02v1.02h-1.02z" fill="#48b996"/><path d="M21 4h1.02v1.02h-1.02z" fill="#42b99a"/><path d="M22 4h1.02v1.02h-1.02z" fill="#3faea8"/><path d="M23 4h1.02v1.02h-1.02z" fill="#2daab9"/><path d="M24 4h1.02v1.02h-1.02z" fill="#41b69f"/><path d="M25 4h1.02v1.02h-1.02z" fill="#43b19f"/><path d="M0 5h1.02v1.02h-1.02z" fill="#b8c337"/><path d="M1 5h1.02v1.02h-1.02z" fill="#b6c23d"/><path d="M2 5h1.02v1.02h-1.02z" fill="#b0be4d"/><path d="M3 5h1.02v1.02h-1.02z" fill="#eec132"/><path d="M4 5h1.02v1.02h-1.02z" fill="#d5c93e"/><path d="M5 5h1.02v1.02h-1.02z" fill="#ebc160"/><path d="M6 5h1.02v1.02h-1.02z" fill="#e3c02f"/><path d="M7 5h1.02v1.02h-1.02z" fill="#a2c447"/><path d="M8 5h1.02v1.02h-1.02z" fill="#a2c347"/><path d="M9 5h1.02v1.02h-1.02z" fill="#cac030"/><path d="M10 5h1.02v1.02h-1.02z" fill="#a6c442"/><path d="M11 5h1.02v1.02h-1.02z" fill="#7bc164"/><path d="M12 5h1.02v1.02h-1.02z" fill="#8dbd5c"/><path d="M13 5h1.02v1.02h-1.02z" fill="#2fbb9f"/><path d="M14 5h1.02v1.02h-1.02z" fill="#3cc191"/><path d="M15 5h1.02v1.02h-1.02z" fill="#42b99a"/><path d="M16 5h1.02v1.02h-1.02z" fill="#3fbc98"/><path d="M17 5h1.02v1.02h-1.02z" fill="#10b0c1"/><path d="M18 5h1.02v1.02h-1.02z" fill="#35b9a1"/><path d="M19 5h1.02v1.02h-1.02z" fill="#56c47b"/><path d="M20 5h1.02v1.02h-1.02z" fill="#36bf97"/><path d="M21 5h1.02v1.02h-1.02z" fill="#40c18e"/><path d="M22 5h1.02v1.02h-1.02z" fill="#31b9a4"/><path d="M23 5h1.02v1.02h-1.02z" fill="#1fb1b9"/><path d="M24 5h1.02v1.02h-1.02z" fill="#3cc191"/><path d="M25 5h1.02v1.02h-1.02z" fill="#42bb98"/><path d="M0 6h1.02v1.02h-1.02z" fill="#adc43d"/><path d="M1 6h1.02v1.02h-1.02z" fill="#a6c444"/><path d="M2 6h1.02v1.02h-1.02z" fill="#aebd50"/><path d="M3 6h1.02v1.02h-1.02z" fill="#ddc130"/><path d="M4 6h1.02v1.02h-1.02z" fill="#cbc146"/><path d="M5 6h1.02v1.02h-1.02z" fill="#e3c02f"/><path d="M6 6h1.02v1.02h-1.02z" fill="#dfc15d"/><path d="M7 6h1.02v1.02h-1.02z" fill="#97c254"/><path d="M8 6h1.02v1.02h-1.02z" fill="#9ec24d"/><path d="M9 6h1.02v1.02h-1.02z" fill="#bcc237"/><path d="M10 6h1.02v1.02h-1.02z" fill="#98c64a"/><path d="M11 6h1.02v1.02h-1.02z" fill="#69c071"/><path d="M12 6h1.02v1.02h-1.02z" fill="#84bc62"/><path d="M13 6h1.02v1.02h-1.02z" fill="#23b8ab"/><path d="M14 6h1.02v1.02h-1.02z" fill="#2abba2"/><path d="M15 6h1.02v1.02h-1.02z" fill="#3bb3a7"/><path d="M16 6h1.02v1.02h-1.02z" fill="#3cbb99"/><path d="M17 6h1.02v1.02h-1.02z" fill="#11abca"/><path d="M18 6h1.02v1.02h-1.02z" fill="#32baa1"/><path d="M19 6h1.02v1.02h-1.02z" fill="#43c28b"/><path d="M20 6h1.02v1.02h-1.02z" fill="#32be9a"/><path d="M21 6h1.02v1.02h-1.02z" fill="#2cbca0"/><path d="M22 6h1.02v1.02h-1.02z" fill="#22b7ae"/><path d="M23 6h1.02v1.02h-1.02z" fill="#1cb0bb"/><path d="M24 6h1.02v1.02h-1.02z" fill="#32be9b"/><path d="M25 6h1.02v1.02h-1.02z" fill="#34b6a7"/><path d="M0 7h1.02v1.02h-1.02z" fill="#59c17b"/><path d="M1 7h1.02v1.02h-1.02z" fill="#58c17d"/><path d="M2 7h1.02v1.02h-1.02z" fill="#79bc6d"/><path d="M3 7h1.02v1.02h-1.02z" fill="#9ec34b"/><path d="M4 7h1.02v1.02h-1.02z" fill="#98bc5b"/><path d="M5 7h1.02v1.02h-1.02z" fill="#a2c447"/><path d="M6 7h1.02v1.02h-1.02z" fill="#97c254"/><path d="M7 7h1.02v1.02h-1.02z" fill="#78c496"/><path d="M8 7h1.02v1.02h-1.02z" fill="#7fc162"/><path d="M9 7h1.02v1.02h-1.02z" fill="#85c35a"/><path d="M10 7h1.02v1.02h-1.02z" fill="#67c46f"/><path d="M11 7h1.02v1.02h-1.02z" fill="#47bb91"/><path d="M12 7h1.02v1.02h-1.02z" fill="#58b789"/><path d="M13 7h1.02v1.02h-1.02z" fill="#1ea3d0"/><path d="M14 7h1.02v1.02h-1.02z" fill="#23a8c7"/><path d="M15 7h1.02v1.02h-1.02z" fill="#30a2bf"/><path d="M16 7h1.02v1.02h-1.02z" fill="#25a6c4"/><path d="M17 7h1.02v1.02h-1.02z" fill="#248ce4"/><path d="M18 7h1.02v1.02h-1.02z" fill="#27a4c5"/><path d="M19 7h1.02v1.02h-1.02z" fill="#21b2b8"/><path d="M20 7h1.02v1.02h-1.02z" fill="#21a9c6"/><path d="M21 7h1.02v1.02h-1.02z" fill="#24abc3"/><path d="M22 7h1.02v1.02h-1.02z" fill="#209fd3"/><path d="M23 7h1.02v1.02h-1.02z" fill="#209ad9"/><path d="M24 7h1.02v1.02h-1.02z" fill="#22aac5"/><path d="M25 7h1.02v1.02h-1.02z" fill="#27a3c8"/><path d="M0 8h1.02v1.02h-1.02z" fill="#81c25d"/><path d="M1 8h1.02v1.02h-1.02z" fill="#7ec263"/><path d="M2 8h1.02v1.02h-1.02z" fill="#7ebf66"/><path d="M3 8h1.02v1.02h-1.02z" fill="#99c150"/><path d="M4 8h1.02v1.02h-1.02z" fill="#8ebe60"/><path d="M5 8h1.02v1.02h-1.02z" fill="#a2c347"/><path d="M6 8h1.02v1.02h-1.02z" fill="#9ec24d"/><path d="M7 8h1.02v1.02h-1.02z" fill="#7fc162"/><path d="M8 8h1.02v1.02h-1.02z" fill="#b3c574"/><path d="M9 8h1.02v1.02h-1.02z" fill="#a3c34a"/><path d="M10 8h1.02v1.02h-1.02z" fill="#77c363"/><path d="M11 8h1.02v1.02h-1.02z" fill="#58bc82"/><path d="M12 8h1.02v1.02h-1.02z" fill="#6dbb77"/><path d="M13 8h1.02v1.02h-1.02z" fill="#38b89f"/><path d="M14 8h1.02v1.02h-1.02z" fill="#34bd99"/><path d="M15 8h1.02v1.02h-1.02z" fill="#53b98f"/><path d="M16 8h1.02v1.02h-1.02z" fill="#3fbd94"/><path d="M17 8h1.02v1.02h-1.02z" fill="#12afc2"/><path d="M18 8h1.02v1.02h-1.02z" fill="#35b8a1"/><path d="M19 8h1.02v1.02h-1.02z" fill="#63c572"/><path d="M20 8h1.02v1.02h-1.02z" fill="#46c189"/><path d="M21 8h1.02v1.02h-1.02z" fill="#3bc093"/><path d="M22 8h1.02v1.02h-1.02z" fill="#2ab8a8"/><path d="M23 8h1.02v1.02h-1.02z" fill="#28b2b3"/><path d="M24 8h1.02v1.02h-1.02z" fill="#36bf97"/><path d="M25 8h1.02v1.02h-1.02z" fill="#3bb99d"/><path d="M0 9h1.02v1.02h-1.02z" fill="#8dc651"/><path d="M1 9h1.02v1.02h-1.02z" fill="#8ac554"/><path d="M2 9h1.02v1.02h-1.02z" fill="#9cbd51"/><path d="M3 9h1.02v1.02h-1.02z" fill="#c4c138"/><path d="M4 9h1.02v1.02h-1.02z" fill="#b0bd4c"/><path d="M5 9h1.02v1.02h-1.02z" fill="#cac030"/><path d="M6 9h1.02v1.02h-1.02z" fill="#bcc237"/><path d="M7 9h1.02v1.02h-1.02z" fill="#85c35a"/><path d="M8 9h1.02v1.02h-1.02z" fill="#a3c34a"/><path d="M9 9h1.02v1.02h-1.02z" fill="#f1d05c"/><path d="M10 9h1.02v1.02h-1.02z" fill="#f0c12f"/><path d="M11 9h1.02v1.02h-1.02z" fill="#bec443"/><path d="M12 9h1.02v1.02h-1.02z" fill="#92bc5c"/><path d="M13 9h1.02v1.02h-1.02z" fill="#3dc091"/><path d="M14 9h1.02v1.02h-1.02z" fill="#45c08b"/><path d="M15 9h1.02v1.02h-1.02z" fill="#55be86"/><path d="M16 9h1.02v1.02h-1.02z" fill="#51c181"/><path d="M17 9h1.02v1.02h-1.02z" fill="#14b2bc"/><path d="M18 9h1.02v1.02h-1.02z" fill="#4bbe8b"/><path d="M19 9h1.02v1.02h-1.02z" fill="#78c660"/><path d="M20 9h1.02v1.02h-1.02z" fill="#55c57c"/><path d="M21 9h1.02v1.02h-1.02z" fill="#59c678"/><path d="M22 9h1.02v1.02h-1.02z" fill="#36bd9b"/><path d="M23 9h1.02v1.02h-1.02z" fill="#35b9a1"/><path d="M24 9h1.02v1.02h-1.02z" fill="#4dc383"/><path d="M25 9h1.02v1.02h-1.02z" fill="#43be90"/><path d="M0 10h1.02v1.02h-1.02z" fill="#6ec767"/><path d="M1 10h1.02v1.02h-1.02z" fill="#69c46e"/><path d="M2 10h1.02v1.02h-1.02z" fill="#7ebf64"/><path d="M3 10h1.02v1.02h-1.02z" fill="#9ec448"/><path d="M4 10h1.02v1.02h-1.02z" fill="#96bc57"/><path d="M5 10h1.02v1.02h-1.02z" fill="#a6c442"/><path d="M6 10h1.02v1.02h-1.02z" fill="#98c64a"/><path d="M7 10h1.02v1.02h-1.02z" fill="#67c46f"/><path d="M8 10h1.02v1.02h-1.02z" fill="#77c363"/><path d="M9 10h1.02v1.02h-1.02z" fill="#f0c12f"/><path d="M10 10h1.02v1.02h-1.02z" fill="#dec35d"/><path d="M11 10h1.02v1.02h-1.02z" fill="#b3c24a"/><path d="M12 10h1.02v1.02h-1.02z" fill="#7abd69"/><path d="M13 10h1.02v1.02h-1.02z" fill="#29baa5"/><path d="M14 10h1.02v1.02h-1.02z" fill="#2dbc9f"/><path d="M15 10h1.02v1.02h-1.02z" fill="#3bb4a5"/><path d="M16 10h1.02v1.02h-1.02z" fill="#2dbba3"/><path d="M17 10h1.02v1.02h-1.02z" fill="#0fabcb"/><path d="M18 10h1.02v1.02h-1.02z" fill="#2eb6a9"/><path d="M19 10h1.02v1.02h-1.02z" fill="#44c28a"/><path d="M20 10h1.02v1.02h-1.02z" fill="#3abf94"/><path d="M21 10h1.02v1.02h-1.02z" fill="#27bba6"/><path d="M22 10h1.02v1.02h-1.02z" fill="#22b6af"/><path d="M23 10h1.02v1.02h-1.02z" fill="#1cb1bb"/><path d="M24 10h1.02v1.02h-1.02z" fill="#2ebd9e"/><path d="M25 10h1.02v1.02h-1.02z" fill="#37b8a3"/><path d="M0 11h1.02v1.02h-1.02z" fill="#49be8b"/><path d="M1 11h1.02v1.02h-1.02z" fill="#54bc85"/><path d="M2 11h1.02v1.02h-1.02z" fill="#64b780"/><path d="M3 11h1.02v1.02h-1.02z" fill="#75c267"/><path d="M4 11h1.02v1.02h-1.02z" fill="#6ebc75"/><path d="M5 11h1.02v1.02h-1.02z" fill="#7bc164"/><path d="M6 11h1.02v1.02h-1.02z" fill="#69c071"/><path d="M7 11h1.02v1.02h-1.02z" fill="#47bb91"/><path d="M8 11h1.02v1.02h-1.02z" fill="#58bc82"/><path d="M9 11h1.02v1.02h-1.02z" fill="#bec443"/><path d="M10 11h1.02v1.02h-1.02z" fill="#b3c24a"/><path d="M11 11h1.02v1.02h-1.02z" fill="#a2c57b"/><path d="M12 11h1.02v1.02h-1.02z" fill="#70b979"/><path d="M13 11h1.02v1.02h-1.02z" fill="#23b1b8"/><path d="M14 11h1.02v1.02h-1.02z" fill="#29b6ac"/><path d="M15 11h1.02v1.02h-1.02z" fill="#37a8b4"/><path d="M16 11h1.02v1.02h-1.02z" fill="#2aafb6"/><path d="M17 11h1.02v1.02h-1.02z" fill="#1d9adb"/><path d="M18 11h1.02v1.02h-1.02z" fill="#2cabb9"/><path d="M19 11h1.02v1.02h-1.02z" fill="#2db9a5"/><path d="M20 11h1.02v1.02h-1.02z" fill="#25b7ae"/><path d="M21 11h1.02v1.02h-1.02z" fill="#25b4b1"/><path d="M22 11h1.02v1.02h-1.02z" fill="#1ea8c6"/><path d="M23 11h1.02v1.02h-1.02z" fill="#1ba4cb"/><path d="M24 11h1.02v1.02h-1.02z" fill="#2bb3b1"/><path d="M25 11h1.02v1.02h-1.02z" fill="#2cabb9"/><path d="M0 12h1.02v1.02h-1.02z" fill="#29a4bf"/><path d="M1 12h1.02v1.02h-1.02z" fill="#58b090"/><path d="M2 12h1.02v1.02h-1.02z" fill="#79b575"/><path d="M3 12h1.02v1.02h-1.02z" fill="#94bc5a"/><path d="M4 12h1.02v1.02h-1.02z" fill="#82b671"/><path d="M5 12h1.02v1.02h-1.02z" fill="#8dbd5c"/><path d="M6 12h1.02v1.02h-1.02z" fill="#84bc62"/><path d="M7 12h1.02v1.02h-1.02z" fill="#58b789"/><path d="M8 12h1.02v1.02h-1.02z" fill="#6dbb77"/><path d="M9 12h1.02v1.02h-1.02z" fill="#92bc5c"/><path d="M10 12h1.02v1.02h-1.02z" fill="#7abd69"/><path d="M11 12h1.02v1.02h-1.02z" fill="#70b979"/><path d="M12 12h1.02v1.02h-1.02z" fill="#afc77f"/><path d="M13 12h1.02v1.02h-1.02z" fill="#94c157"/><path d="M14 12h1.02v1.02h-1.02z" fill="#95c351"/><path d="M15 12h1.02v1.02h-1.02z" fill="#84ba6b"/><path d="M16 12h1.02v1.02h-1.02z" fill="#8abf61"/><path d="M17 12h1.02v1.02h-1.02z" fill="#48bc8e"/><path d="M18 12h1.02v1.02h-1.02z" fill="#7cbf66"/><path d="M19 12h1.02v1.02h-1.02z" fill="#b5c340"/><path d="M20 12h1.02v1.02h-1.02z" fill="#98c251"/><path d="M21 12h1.02v1.02h-1.02z" fill="#8bc257"/><path d="M22 12h1.02v1.02h-1.02z" fill="#6ebe70"/><path d="M23 12h1.02v1.02h-1.02z" fill="#62bf77"/><path d="M24 12h1.02v1.02h-1.02z" fill="#99c350"/><path d="M25 12h1.02v1.02h-1.02z" fill="#81be64"/><path d="M0 13h1.02v1.02h-1.02z" fill="#19a7cb"/><path d="M1 13h1.02v1.02h-1.02z" fill="#33afad"/><path d="M2 13h1.02v1.02h-1.02z" fill="#42bf8f"/><path d="M3 13h1.02v1.02h-1.02z" fill="#28b9a6"/><path d="M4 13h1.02v1.02h-1.02z" fill="#39b6a3"/><path d="M5 13h1.02v1.02h-1.02z" fill="#2fbb9f"/><path d="M6 13h1.02v1.02h-1.02z" fill="#23b8ab"/><path d="M7 13h1.02v1.02h-1.02z" fill="#1ea3d0"/><path d="M8 13h1.02v1.02h-1.02z" fill="#38b89f"/><path d="M9 13h1.02v1.02h-1.02z" fill="#3dc091"/><path d="M10 13h1.02v1.02h-1.02z" fill="#29baa5"/><path d="M11 13h1.02v1.02h-1.02z" fill="#23b1b8"/><path d="M12 13h1.02v1.02h-1.02z" fill="#94c157"/><path d="M13 13h1.02v1.02h-1.02z" fill="#a2c283"/><path d="M14 13h1.02v1.02h-1.02z" fill="#a7bf50"/><path d="M15 13h1.02v1.02h-1.02z" fill="#8dbc62"/><path d="M16 13h1.02v1.02h-1.02z" fill="#81bf63"/><path d="M17 13h1.02v1.02h-1.02z" fill="#59be7f"/><path d="M18 13h1.02v1.02h-1.02z" fill="#75bf6c"/><path d="M19 13h1.02v1.02h-1.02z" fill="#9dc24c"/><path d="M20 13h1.02v1.02h-1.02z" fill="#8ac358"/><path d="M21 13h1.02v1.02h-1.02z" fill="#7ac362"/><path d="M22 13h1.02v1.02h-1.02z" fill="#6dbe73"/><path d="M23 13h1.02v1.02h-1.02z" fill="#64bb7b"/><path d="M24 13h1.02v1.02h-1.02z" fill="#81c45d"/><path d="M25 13h1.02v1.02h-1.02z" fill="#5ebe7c"/><path d="M0 14h1.02v1.02h-1.02z" fill="#0bacca"/><path d="M1 14h1.02v1.02h-1.02z" fill="#2ab6ab"/><path d="M2 14h1.02v1.02h-1.02z" fill="#4bc087"/><path d="M3 14h1.02v1.02h-1.02z" fill="#2cbba0"/><path d="M4 14h1.02v1.02h-1.02z" fill="#3fb5a1"/><path d="M5 14h1.02v1.02h-1.02z" fill="#3cc191"/><path d="M6 14h1.02v1.02h-1.02z" fill="#2abba2"/><path d="M7 14h1.02v1.02h-1.02z" fill="#23a8c7"/><path d="M8 14h1.02v1.02h-1.02z" fill="#34bd99"/><path d="M9 14h1.02v1.02h-1.02z" fill="#45c08b"/><path d="M10 14h1.02v1.02h-1.02z" fill="#2dbc9f"/><path d="M11 14h1.02v1.02h-1.02z" fill="#29b6ac"/><path d="M12 14h1.02v1.02h-1.02z" fill="#95c351"/><path d="M13 14h1.02v1.02h-1.02z" fill="#a7bf50"/><path d="M14 14h1.02v1.02h-1.02z" fill="#d8c35d"/><path d="M15 14h1.02v1.02h-1.02z" fill="#9fbf51"/><path d="M16 14h1.02v1.02h-1.02z" fill="#9fc14d"/><path d="M17 14h1.02v1.02h-1.02z" fill="#68c171"/><path d="M18 14h1.02v1.02h-1.02z" fill="#81c35c"/><path d="M19 14h1.02v1.02h-1.02z" fill="#b6c33a"/><path d="M20 14h1.02v1.02h-1.02z" fill="#a2c345"/><path d="M21 14h1.02v1.02h-1.02z" fill="#94c54e"/><path d="M22 14h1.02v1.02h-1.02z" fill="#82c25d"/><path d="M23 14h1.02v1.02h-1.02z" fill="#76c166"/><path d="M24 14h1.02v1.02h-1.02z" fill="#85c459"/><path d="M25 14h1.02v1.02h-1.02z" fill="#6ec06e"/><path d="M0 15h1.02v1.02h-1.02z" fill="#1ca4c8"/><path d="M1 15h1.02v1.02h-1.02z" fill="#41ada1"/><path d="M2 15h1.02v1.02h-1.02z" fill="#56be85"/><path d="M3 15h1.02v1.02h-1.02z" fill="#41b89b"/><path d="M4 15h1.02v1.02h-1.02z" fill="#4aada1"/><path d="M5 15h1.02v1.02h-1.02z" fill="#42b99a"/><path d="M6 15h1.02v1.02h-1.02z" fill="#3bb3a7"/><path d="M7 15h1.02v1.02h-1.02z" fill="#30a2bf"/><path d="M8 15h1.02v1.02h-1.02z" fill="#53b98f"/><path d="M9 15h1.02v1.02h-1.02z" fill="#55be86"/><path d="M10 15h1.02v1.02h-1.02z" fill="#3bb4a5"/><path d="M11 15h1.02v1.02h-1.02z" fill="#37a8b4"/><path d="M12 15h1.02v1.02h-1.02z" fill="#84ba6b"/><path d="M13 15h1.02v1.02h-1.02z" fill="#8dbc62"/><path d="M14 15h1.02v1.02h-1.02z" fill="#9fbf51"/><path d="M15 15h1.02v1.02h-1.02z" fill="#9fc18b"/><path d="M16 15h1.02v1.02h-1.02z" fill="#97bb66"/><path d="M17 15h1.02v1.02h-1.02z" fill="#5ebc7f"/><path d="M18 15h1.02v1.02h-1.02z" fill="#6dbe72"/><path d="M19 15h1.02v1.02h-1.02z" fill="#89c058"/><path d="M20 15h1.02v1.02h-1.02z" fill="#67c172"/><path d="M21 15h1.02v1.02h-1.02z" fill="#6ac070"/><path d="M22 15h1.02v1.02h-1.02z" fill="#6abd74"/><path d="M23 15h1.02v1.02h-1.02z" fill="#59bb83"/><path d="M24 15h1.02v1.02h-1.02z" fill="#70c06b"/><path d="M25 15h1.02v1.02h-1.02z" fill="#64b97f"/><path d="M0 16h1.02v1.02h-1.02z" fill="#1babc3"/><path d="M1 16h1.02v1.02h-1.02z" fill="#3ab4a3"/><path d="M2 16h1.02v1.02h-1.02z" fill="#5abf7d"/><path d="M3 16h1.02v1.02h-1.02z" fill="#3dbd95"/><path d="M4 16h1.02v1.02h-1.02z" fill="#44b39e"/><path d="M5 16h1.02v1.02h-1.02z" fill="#3fbc98"/><path d="M6 16h1.02v1.02h-1.02z" fill="#3cbb99"/><path d="M7 16h1.02v1.02h-1.02z" fill="#25a6c4"/><path d="M8 16h1.02v1.02h-1.02z" fill="#3fbd94"/><path d="M9 16h1.02v1.02h-1.02z" fill="#51c181"/><path d="M10 16h1.02v1.02h-1.02z" fill="#2dbba3"/><path d="M11 16h1.02v1.02h-1.02z" fill="#2aafb6"/><path d="M12 16h1.02v1.02h-1.02z" fill="#8abf61"/><path d="M13 16h1.02v1.02h-1.02z" fill="#81bf63"/><path d="M14 16h1.02v1.02h-1.02z" fill="#9fc14d"/><path d="M15 16h1.02v1.02h-1.02z" fill="#97bb66"/><path d="M16 16h1.02v1.02h-1.02z" fill="#b5c576"/><path d="M17 16h1.02v1.02h-1.02z" fill="#69bf73"/><path d="M18 16h1.02v1.02h-1.02z" fill="#72c169"/><path d="M19 16h1.02v1.02h-1.02z" fill="#90bf55"/><path d="M20 16h1.02v1.02h-1.02z" fill="#7ac162"/><path d="M21 16h1.02v1.02h-1.02z" fill="#6ec26b"/><path d="M22 16h1.02v1.02h-1.02z" fill="#67bc77"/><path d="M23 16h1.02v1.02h-1.02z" fill="#5cbc7f"/><path d="M24 16h1.02v1.02h-1.02z" fill="#7fc160"/><path d="M25 16h1.02v1.02h-1.02z" fill="#65bd78"/><path d="M0 17h1.02v1.02h-1.02z" fill="#189be1"/><path d="M1 17h1.02v1.02h-1.02z" fill="#1ea2cf"/><path d="M2 17h1.02v1.02h-1.02z" fill="#12b3bb"/><path d="M3 17h1.02v1.02h-1.02z" fill="#16aec2"/><path d="M4 17h1.02v1.02h-1.02z" fill="#21a2c7"/><path d="M5 17h1.02v1.02h-1.02z" fill="#10b0c1"/><path d="M6 17h1.02v1.02h-1.02z" fill="#11abca"/><path d="M7 17h1.02v1.02h-1.02z" fill="#248ce4"/><path d="M8 17h1.02v1.02h-1.02z" fill="#12afc2"/><path d="M9 17h1.02v1.02h-1.02z" fill="#14b2bc"/><path d="M10 17h1.02v1.02h-1.02z" fill="#0fabcb"/><path d="M11 17h1.02v1.02h-1.02z" fill="#1d9adb"/><path d="M12 17h1.02v1.02h-1.02z" fill="#48bc8e"/><path d="M13 17h1.02v1.02h-1.02z" fill="#59be7f"/><path d="M14 17h1.02v1.02h-1.02z" fill="#68c171"/><path d="M15 17h1.02v1.02h-1.02z" fill="#5ebc7f"/><path d="M16 17h1.02v1.02h-1.02z" fill="#69bf73"/><path d="M17 17h1.02v1.02h-1.02z" fill="#72c39c"/><path d="M18 17h1.02v1.02h-1.02z" fill="#72bf72"/><path d="M19 17h1.02v1.02h-1.02z" fill="#9ac159"/><path d="M20 17h1.02v1.02h-1.02z" fill="#7cbe6a"/><path d="M21 17h1.02v1.02h-1.02z" fill="#7bbd6a"/><path d="M22 17h1.02v1.02h-1.02z" fill="#70bd73"/><path d="M23 17h1.02v1.02h-1.02z" fill="#58bb85"/><path d="M24 17h1.02v1.02h-1.02z" fill="#5bc27a"/><path d="M25 17h1.02v1.02h-1.02z" fill="#53bc86"/><path d="M0 18h1.02v1.02h-1.02z" fill="#2bb1c8"/><path d="M1 18h1.02v1.02h-1.02z" fill="#39afa9"/><path d="M2 18h1.02v1.02h-1.02z" fill="#4ebf86"/><path d="M3 18h1.02v1.02h-1.02z" fill="#40bb97"/><path d="M4 18h1.02v1.02h-1.02z" fill="#41aea6"/><path d="M5 18h1.02v1.02h-1.02z" fill="#35b9a1"/><path d="M6 18h1.02v1.02h-1.02z" fill="#32baa1"/><path d="M7 18h1.02v1.02h-1.02z" fill="#27a4c5"/><path d="M8 18h1.02v1.02h-1.02z" fill="#35b8a1"/><path d="M9 18h1.02v1.02h-1.02z" fill="#4bbe8b"/><path d="M10 18h1.02v1.02h-1.02z" fill="#2eb6a9"/><path d="M11 18h1.02v1.02h-1.02z" fill="#2cabb9"/><path d="M12 18h1.02v1.02h-1.02z" fill="#7cbf66"/><path d="M13 18h1.02v1.02h-1.02z" fill="#75bf6c"/><path d="M14 18h1.02v1.02h-1.02z" fill="#81c35c"/><path d="M15 18h1.02v1.02h-1.02z" fill="#6dbe72"/><path d="M16 18h1.02v1.02h-1.02z" fill="#72c169"/><path d="M17 18h1.02v1.02h-1.02z" fill="#72bf72"/><path d="M18 18h1.02v1.02h-1.02z" fill="#a5c381"/><path d="M19 18h1.02v1.02h-1.02z" fill="#c2c04a"/><path d="M20 18h1.02v1.02h-1.02z" fill="#a5bf4b"/><path d="M21 18h1.02v1.02h-1.02z" fill="#a0bd55"/><path d="M22 18h1.02v1.02h-1.02z" fill="#79bf67"/><path d="M23 18h1.02v1.02h-1.02z" fill="#69c073"/><path d="M24 18h1.02v1.02h-1.02z" fill="#79c461"/><path d="M25 18h1.02v1.02h-1.02z" fill="#68bd76"/><path d="M0 19h1.02v1.02h-1.02z" fill="#19b6b4"/><path d="M1 19h1.02v1.02h-1.02z" fill="#47bb8f"/><path d="M2 19h1.02v1.02h-1.02z" fill="#72c466"/><path d="M3 19h1.02v1.02h-1.02z" fill="#4cc383"/><path d="M4 19h1.02v1.02h-1.02z" fill="#5cbd81"/><path d="M5 19h1.02v1.02h-1.02z" fill="#56c47b"/><path d="M6 19h1.02v1.02h-1.02z" fill="#43c28b"/><path d="M7 19h1.02v1.02h-1.02z" fill="#21b2b8"/><path d="M8 19h1.02v1.02h-1.02z" fill="#63c572"/><path d="M9 19h1.02v1.02h-1.02z" fill="#78c660"/><path d="M10 19h1.02v1.02h-1.02z" fill="#44c28a"/><path d="M11 19h1.02v1.02h-1.02z" fill="#2db9a5"/><path d="M12 19h1.02v1.02h-1.02z" fill="#b5c340"/><path d="M13 19h1.02v1.02h-1.02z" fill="#9dc24c"/><path d="M14 19h1.02v1.02h-1.02z" fill="#b6c33a"/><path d="M15 19h1.02v1.02h-1.02z" fill="#89c058"/><path d="M16 19h1.02v1.02h-1.02z" fill="#90bf55"/><path d="M17 19h1.02v1.02h-1.02z" fill="#9ac159"/><path d="M18 19h1.02v1.02h-1.02z" fill="#c2c04a"/><path d="M19 19h1.02v1.02h-1.02z" fill="#eec460"/><path d="M20 19h1.02v1.02h-1.02z" fill="#e1bf32"/><path d="M21 19h1.02v1.02h-1.02z" fill="#dbbf30"/><path d="M22 19h1.02v1.02h-1.02z" fill="#b1c141"/><path d="M23 19h1.02v1.02h-1.02z" fill="#97c151"/><path d="M24 19h1.02v1.02h-1.02z" fill="#a1c543"/><path d="M25 19h1.02v1.02h-1.02z" fill="#8bbf5b"/><path d="M0 20h1.02v1.02h-1.02z" fill="#0fb2bd"/><path d="M1 20h1.02v1.02h-1.02z" fill="#35b9a0"/><path d="M2 20h1.02v1.02h-1.02z" fill="#53c37f"/><path d="M3 20h1.02v1.02h-1.02z" fill="#49c088"/><path d="M4 20h1.02v1.02h-1.02z" fill="#48b996"/><path d="M5 20h1.02v1.02h-1.02z" fill="#36bf97"/><path d="M6 20h1.02v1.02h-1.02z" fill="#32be9a"/><path d="M7 20h1.02v1.02h-1.02z" fill="#21a9c6"/><path d="M8 20h1.02v1.02h-1.02z" fill="#46c189"/><path d="M9 20h1.02v1.02h-1.02z" fill="#55c57c"/><path d="M10 20h1.02v1.02h-1.02z" fill="#3abf94"/><path d="M11 20h1.02v1.02h-1.02z" fill="#25b7ae"/><path d="M12 20h1.02v1.02h-1.02z" fill="#98c251"/><path d="M13 20h1.02v1.02h-1.02z" fill="#8ac358"/><path d="M14 20h1.02v1.02h-1.02z" fill="#a2c345"/><path d="M15 20h1.02v1.02h-1.02z" fill="#67c172"/><path d="M16 20h1.02v1.02h-1.02z" fill="#7ac162"/><path d="M17 20h1.02v1.02h-1.02z" fill="#7cbe6a"/><path d="M18 20h1.02v1.02h-1.02z" fill="#a5bf4b"/><path d="M19 20h1.02v1.02h-1.02z" fill="#e1bf32"/><path d="M20 20h1.02v1.02h-1.02z" fill="#d2c360"/><path d="M21 20h1.02v1.02h-1.02z" fill="#d2bf2f"/><path d="M22 20h1.02v1.02h-1.02z" fill="#95c44d"/><path d="M23 20h1.02v1.02h-1.02z" fill="#88c159"/><path d="M24 20h1.02v1.02h-1.02z" fill="#8ac752"/><path d="M25 20h1.02v1.02h-1.02z" fill="#7ac065"/><path d="M0 21h1.02v1.02h-1.02z" fill="#0fafc4"/><path d="M1 21h1.02v1.02h-1.02z" fill="#37b7a2"/><path d="M2 21h1.02v1.02h-1.02z" fill="#50c480"/><path d="M3 21h1.02v1.02h-1.02z" fill="#32be9b"/><path d="M4 21h1.02v1.02h-1.02z" fill="#42b99a"/><path d="M5 21h1.02v1.02h-1.02z" fill="#40c18e"/><path d="M6 21h1.02v1.02h-1.02z" fill="#2cbca0"/><path d="M7 21h1.02v1.02h-1.02z" fill="#24abc3"/><path d="M8 21h1.02v1.02h-1.02z" fill="#3bc093"/><path d="M9 21h1.02v1.02h-1.02z" fill="#59c678"/><path d="M10 21h1.02v1.02h-1.02z" fill="#27bba6"/><path d="M11 21h1.02v1.02h-1.02z" fill="#25b4b1"/><path d="M12 21h1.02v1.02h-1.02z" fill="#8bc257"/><path d="M13 21h1.02v1.02h-1.02z" fill="#7ac362"/><path d="M14 21h1.02v1.02h-1.02z" fill="#94c54e"/><path d="M15 21h1.02v1.02h-1.02z" fill="#6ac070"/><path d="M16 21h1.02v1.02h-1.02z" fill="#6ec26b"/><path d="M17 21h1.02v1.02h-1.02z" fill="#7bbd6a"/><path d="M18 21h1.02v1.02h-1.02z" fill="#a0bd55"/><path d="M19 21h1.02v1.02h-1.02z" fill="#dbbf30"/><path d="M20 21h1.02v1.02h-1.02z" fill="#d2bf2f"/><path d="M21 21h1.02v1.02h-1.02z" fill="#d6c25d"/><path d="M22 21h1.02v1.02h-1.02z" fill="#a1c349"/><path d="M23 21h1.02v1.02h-1.02z" fill="#8ac05a"/><path d="M24 21h1.02v1.02h-1.02z" fill="#84c856"/><path d="M25 21h1.02v1.02h-1.02z" fill="#6dc36b"/><path d="M0 22h1.02v1.02h-1.02z" fill="#14a6cf"/><path d="M1 22h1.02v1.02h-1.02z" fill="#2bb0b3"/><path d="M2 22h1.02v1.02h-1.02z" fill="#3dbe94"/><path d="M3 22h1.02v1.02h-1.02z" fill="#2fb9a3"/><path d="M4 22h1.02v1.02h-1.02z" fill="#3faea8"/><path d="M5 22h1.02v1.02h-1.02z" fill="#31b9a4"/><path d="M6 22h1.02v1.02h-1.02z" fill="#22b7ae"/><path d="M7 22h1.02v1.02h-1.02z" fill="#209fd3"/><path d="M8 22h1.02v1.02h-1.02z" fill="#2ab8a8"/><path d="M9 22h1.02v1.02h-1.02z" fill="#36bd9b"/><path d="M10 22h1.02v1.02h-1.02z" fill="#22b6af"/><path d="M11 22h1.02v1.02h-1.02z" fill="#1ea8c6"/><path d="M12 22h1.02v1.02h-1.02z" fill="#6ebe70"/><path d="M13 22h1.02v1.02h-1.02z" fill="#6dbe73"/><path d="M14 22h1.02v1.02h-1.02z" fill="#82c25d"/><path d="M15 22h1.02v1.02h-1.02z" fill="#6abd74"/><path d="M16 22h1.02v1.02h-1.02z" fill="#67bc77"/><path d="M17 22h1.02v1.02h-1.02z" fill="#70bd73"/><path d="M18 22h1.02v1.02h-1.02z" fill="#79bf67"/><path d="M19 22h1.02v1.02h-1.02z" fill="#b1c141"/><path d="M20 22h1.02v1.02h-1.02z" fill="#95c44d"/><path d="M21 22h1.02v1.02h-1.02z" fill="#a1c349"/><path d="M22 22h1.02v1.02h-1.02z" fill="#a2c282"/><path d="M23 22h1.02v1.02h-1.02z" fill="#96be5a"/><path d="M24 22h1.02v1.02h-1.02z" fill="#8fbe59"/><path d="M25 22h1.02v1.02h-1.02z" fill="#6fbd72"/><path d="M0 23h1.02v1.02h-1.02z" fill="#179fd5"/><path d="M1 23h1.02v1.02h-1.02z" fill="#2da8c0"/><path d="M2 23h1.02v1.02h-1.02z" fill="#2cb7a9"/><path d="M3 23h1.02v1.02h-1.02z" fill="#27b2b2"/><path d="M4 23h1.02v1.02h-1.02z" fill="#2daab9"/><path d="M5 23h1.02v1.02h-1.02z" fill="#1fb1b9"/><path d="M6 23h1.02v1.02h-1.02z" fill="#1cb0bb"/><path d="M7 23h1.02v1.02h-1.02z" fill="#209ad9"/><path d="M8 23h1.02v1.02h-1.02z" fill="#28b2b3"/><path d="M9 23h1.02v1.02h-1.02z" fill="#35b9a1"/><path d="M10 23h1.02v1.02h-1.02z" fill="#1cb1bb"/><path d="M11 23h1.02v1.02h-1.02z" fill="#1ba4cb"/><path d="M12 23h1.02v1.02h-1.02z" fill="#62bf77"/><path d="M13 23h1.02v1.02h-1.02z" fill="#64bb7b"/><path d="M14 23h1.02v1.02h-1.02z" fill="#76c166"/><path d="M15 23h1.02v1.02h-1.02z" fill="#59bb83"/><path d="M16 23h1.02v1.02h-1.02z" fill="#5cbc7f"/><path d="M17 23h1.02v1.02h-1.02z" fill="#58bb85"/><path d="M18 23h1.02v1.02h-1.02z" fill="#69c073"/><path d="M19 23h1.02v1.02h-1.02z" fill="#97c151"/><path d="M20 23h1.02v1.02h-1.02z" fill="#88c159"/><path d="M21 23h1.02v1.02h-1.02z" fill="#8ac05a"/><path d="M22 23h1.02v1.02h-1.02z" fill="#96be5a"/><path d="M23 23h1.02v1.02h-1.02z" fill="#a3c47b"/><path d="M24 23h1.02v1.02h-1.02z" fill="#89c258"/><path d="M25 23h1.02v1.02h-1.02z" fill="#67bd77"/><path d="M0 24h1.02v1.02h-1.02z" fill="#0aafc4"/><path d="M1 24h1.02v1.02h-1.02z" fill="#37b7a2"/><path d="M2 24h1.02v1.02h-1.02z" fill="#4ec383"/><path d="M3 24h1.02v1.02h-1.02z" fill="#3ec18f"/><path d="M4 24h1.02v1.02h-1.02z" fill="#41b69f"/><path d="M5 24h1.02v1.02h-1.02z" fill="#3cc191"/><path d="M6 24h1.02v1.02h-1.02z" fill="#32be9b"/><path d="M7 24h1.02v1.02h-1.02z" fill="#22aac5"/><path d="M8 24h1.02v1.02h-1.02z" fill="#36bf97"/><path d="M9 24h1.02v1.02h-1.02z" fill="#4dc383"/><path d="M10 24h1.02v1.02h-1.02z" fill="#2ebd9e"/><path d="M11 24h1.02v1.02h-1.02z" fill="#2bb3b1"/><path d="M12 24h1.02v1.02h-1.02z" fill="#99c350"/><path d="M13 24h1.02v1.02h-1.02z" fill="#81c45d"/><path d="M14 24h1.02v1.02h-1.02z" fill="#85c459"/><path d="M15 24h1.02v1.02h-1.02z" fill="#70c06b"/><path d="M16 24h1.02v1.02h-1.02z" fill="#7fc160"/><path d="M17 24h1.02v1.02h-1.02z" fill="#5bc27a"/><path d="M18 24h1.02v1.02h-1.02z" fill="#79c461"/><path d="M19 24h1.02v1.02h-1.02z" fill="#a1c543"/><path d="M20 24h1.02v1.02h-1.02z" fill="#8ac752"/><path d="M21 24h1.02v1.02h-1.02z" fill="#84c856"/><path d="M22 24h1.02v1.02h-1.02z" fill="#8fbe59"/><path d="M23 24h1.02v1.02h-1.02z" fill="#89c258"/><path d="M24 24h1.02v1.02h-1.02z" fill="#ccc361"/><path d="M25 24h1.02v1.02h-1.02z" fill="#a7c14a"/><path d="M0 25h1.02v1.02h-1.02z" fill="#17a9c7"/><path d="M1 25h1.02v1.02h-1.02z" fill="#37b2a6"/><path d="M2 25h1.02v1.02h-1.02z" fill="#49bb90"/><path d="M3 25h1.02v1.02h-1.02z" fill="#35b8a2"/><path d="M4 25h1.02v1.02h-1.02z" fill="#43b19f"/><path d="M5 25h1.02v1.02h-1.02z" fill="#42bb98"/><path d="M6 25h1.02v1.02h-1.02z" fill="#34b6a7"/><path d="M7 25h1.02v1.02h-1.02z" fill="#27a3c8"/><path d="M8 25h1.02v1.02h-1.02z" fill="#3bb99d"/><path d="M9 25h1.02v1.02h-1.02z" fill="#43be90"/><path d="M10 25h1.02v1.02h-1.02z" fill="#37b8a3"/><path d="M11 25h1.02v1.02h-1.02z" fill="#2cabb9"/><path d="M12 25h1.02v1.02h-1.02z" fill="#81be64"/><path d="M13 25h1.02v1.02h-1.02z" fill="#5ebe7c"/><path d="M14 25h1.02v1.02h-1.02z" fill="#6ec06e"/><path d="M15 25h1.02v1.02h-1.02z" fill="#64b97f"/><path d="M16 25h1.02v1.02h-1.02z" fill="#65bd78"/><path d="M17 25h1.02v1.02h-1.02z" fill="#53bc86"/><path d="M18 25h1.02v1.02h-1.02z" fill="#68bd76"/><path d="M19 25h1.02v1.02h-1.02z" fill="#8bbf5b"/><path d="M20 25h1.02v1.02h-1.02z" fill="#7ac065"/><path d="M21 25h1.02v1.02h-1.02z" fill="#6dc36b"/><path d="M22 25h1.02v1.02h-1.02z" fill="#6fbd72"/><path d="M23 25h1.02v1.02h-1.02z" fill="#67bd77"/><path d="M24 25h1.02v1.02h-1.02z" fill="#a7c14a"/><path d="M25 25h1.02v1.02h-1.02z" fill="#a2c987"/></g><g transform="translate(61.30 586.80) scale(17.4731 17.4654)"><path d="M0 0h1.02v1.02h-1.02z" fill="#4ca1ea"/><path d="M1 0h1.02v1.02h-1.02z" fill="#1f93e7"/><path d="M2 0h1.02v1.02h-1.02z" fill="#5499e7"/><path d="M3 0h1.02v1.02h-1.02z" fill="#4376f8"/><path d="M4 0h1.02v1.02h-1.02z" fill="#597df8"/><path d="M5 0h1.02v1.02h-1.02z" fill="#337af9"/><path d="M6 0h1.02v1.02h-1.02z" fill="#3376f6"/><path d="M7 0h1.02v1.02h-1.02z" fill="#3677fa"/><path d="M8 0h1.02v1.02h-1.02z" fill="#386bf2"/><path d="M9 0h1.02v1.02h-1.02z" fill="#3771f8"/><path d="M10 0h1.02v1.02h-1.02z" fill="#407bf9"/><path d="M11 0h1.02v1.02h-1.02z" fill="#327cf8"/><path d="M12 0h1.02v1.02h-1.02z" fill="#5779f0"/><path d="M13 0h1.02v1.02h-1.02z" fill="#4b7cf7"/><path d="M14 0h1.02v1.02h-1.02z" fill="#396bf5"/><path d="M15 0h1.02v1.02h-1.02z" fill="#6481f7"/><path d="M16 0h1.02v1.02h-1.02z" fill="#4377fa"/><path d="M17 0h1.02v1.02h-1.02z" fill="#4685f6"/><path d="M18 0h1.02v1.02h-1.02z" fill="#4981f8"/><path d="M19 0h1.02v1.02h-1.02z" fill="#4a7ff9"/><path d="M20 0h1.02v1.02h-1.02z" fill="#597af5"/><path d="M21 0h1.02v1.02h-1.02z" fill="#587bf4"/><path d="M22 0h1.02v1.02h-1.02z" fill="#5b73f0"/><path d="M23 0h1.02v1.02h-1.02z" fill="#486ef9"/><path d="M24 0h1.02v1.02h-1.02z" fill="#5681f7"/><path d="M25 0h1.02v1.02h-1.02z" fill="#8994ee"/><path d="M0 1h1.02v1.02h-1.02z" fill="#1f93e7"/><path d="M1 1h1.02v1.02h-1.02z" fill="#44aae1"/><path d="M2 1h1.02v1.02h-1.02z" fill="#49a5e3"/><path d="M3 1h1.02v1.02h-1.02z" fill="#2f80f9"/><path d="M4 1h1.02v1.02h-1.02z" fill="#508af6"/><path d="M5 1h1.02v1.02h-1.02z" fill="#3d80f7"/><path d="M6 1h1.02v1.02h-1.02z" fill="#317ef8"/><path d="M7 1h1.02v1.02h-1.02z" fill="#3080f8"/><path d="M8 1h1.02v1.02h-1.02z" fill="#3278f3"/><path d="M9 1h1.02v1.02h-1.02z" fill="#3676f9"/><path d="M10 1h1.02v1.02h-1.02z" fill="#3674f8"/><path d="M11 1h1.02v1.02h-1.02z" fill="#2a85f4"/><path d="M12 1h1.02v1.02h-1.02z" fill="#5187f6"/><path d="M13 1h1.02v1.02h-1.02z" fill="#438af6"/><path d="M14 1h1.02v1.02h-1.02z" fill="#4279f8"/><path d="M15 1h1.02v1.02h-1.02z" fill="#407bf8"/><path d="M16 1h1.02v1.02h-1.02z" fill="#3576f7"/><path d="M17 1h1.02v1.02h-1.02z" fill="#337bf8"/><path d="M18 1h1.02v1.02h-1.02z" fill="#3379f7"/><path d="M19 1h1.02v1.02h-1.02z" fill="#3d7ef6"/><path d="M20 1h1.02v1.02h-1.02z" fill="#3e6cfb"/><path d="M21 1h1.02v1.02h-1.02z" fill="#4e79f6"/><path d="M22 1h1.02v1.02h-1.02z" fill="#4665ee"/><path d="M23 1h1.02v1.02h-1.02z" fill="#4771fa"/><path d="M24 1h1.02v1.02h-1.02z" fill="#4a7ff5"/><path d="M25 1h1.02v1.02h-1.02z" fill="#6b88f3"/><path d="M0 2h1.02v1.02h-1.02z" fill="#5499e7"/><path d="M1 2h1.02v1.02h-1.02z" fill="#49a5e3"/><path d="M2 2h1.02v1.02h-1.02z" fill="#73b5e4"/><path d="M3 2h1.02v1.02h-1.02z" fill="#3c92f0"/><path d="M4 2h1.02v1.02h-1.02z" fill="#5d9df0"/><path d="M5 2h1.02v1.02h-1.02z" fill="#348af0"/><path d="M6 2h1.02v1.02h-1.02z" fill="#358aef"/><path d="M7 2h1.02v1.02h-1.02z" fill="#4894f0"/><path d="M8 2h1.02v1.02h-1.02z" fill="#3b7ff4"/><path d="M9 2h1.02v1.02h-1.02z" fill="#317cf4"/><path d="M10 2h1.02v1.02h-1.02z" fill="#3788f5"/><path d="M11 2h1.02v1.02h-1.02z" fill="#2f91ee"/><path d="M12 2h1.02v1.02h-1.02z" fill="#5186f3"/><path d="M13 2h1.02v1.02h-1.02z" fill="#4c91f4"/><path d="M14 2h1.02v1.02h-1.02z" fill="#588eee"/><path d="M15 2h1.02v1.02h-1.02z" fill="#5484f5"/><path d="M16 2h1.02v1.02h-1.02z" fill="#4586f6"/><path d="M17 2h1.02v1.02h-1.02z" fill="#4a93f2"/><path d="M18 2h1.02v1.02h-1.02z" fill="#529aee"/><path d="M19 2h1.02v1.02h-1.02z" fill="#5498f1"/><path d="M20 2h1.02v1.02h-1.02z" fill="#5287f6"/><path d="M21 2h1.02v1.02h-1.02z" fill="#4683f3"/><path d="M22 2h1.02v1.02h-1.02z" fill="#567ff2"/><path d="M23 2h1.02v1.02h-1.02z" fill="#597df6"/><path d="M24 2h1.02v1.02h-1.02z" fill="#4389f4"/><path d="M25 2h1.02v1.02h-1.02z" fill="#6f93ef"/><path d="M0 3h1.02v1.02h-1.02z" fill="#4376f8"/><path d="M1 3h1.02v1.02h-1.02z" fill="#2f80f9"/><path d="M2 3h1.02v1.02h-1.02z" fill="#3c92f0"/><path d="M3 3h1.02v1.02h-1.02z" fill="#5596f5"/><path d="M4 3h1.02v1.02h-1.02z" fill="#5990f5"/><path d="M5 3h1.02v1.02h-1.02z" fill="#3f7cf6"/><path d="M6 3h1.02v1.02h-1.02z" fill="#3d7ff8"/><path d="M7 3h1.02v1.02h-1.02z" fill="#3985f5"/><path d="M8 3h1.02v1.02h-1.02z" fill="#407cfa"/><path d="M9 3h1.02v1.02h-1.02z" fill="#5386f8"/><path d="M10 3h1.02v1.02h-1.02z" fill="#5681f7"/><path d="M11 3h1.02v1.02h-1.02z" fill="#4782f6"/><path d="M12 3h1.02v1.02h-1.02z" fill="#587af3"/><path d="M13 3h1.02v1.02h-1.02z" fill="#5f88f6"/><path d="M14 3h1.02v1.02h-1.02z" fill="#6a8af5"/><path d="M15 3h1.02v1.02h-1.02z" fill="#6185f5"/><path d="M16 3h1.02v1.02h-1.02z" fill="#6591f3"/><path d="M17 3h1.02v1.02h-1.02z" fill="#5387f7"/><path d="M18 3h1.02v1.02h-1.02z" fill="#5b8ef6"/><path d="M19 3h1.02v1.02h-1.02z" fill="#6791f6"/><path d="M20 3h1.02v1.02h-1.02z" fill="#5a7cf7"/><path d="M21 3h1.02v1.02h-1.02z" fill="#5b7bf8"/><path d="M22 3h1.02v1.02h-1.02z" fill="#707bef"/><path d="M23 3h1.02v1.02h-1.02z" fill="#5e76f8"/><path d="M24 3h1.02v1.02h-1.02z" fill="#5077f9"/><path d="M25 3h1.02v1.02h-1.02z" fill="#6e80ef"/><path d="M0 4h1.02v1.02h-1.02z" fill="#597df8"/><path d="M1 4h1.02v1.02h-1.02z" fill="#508af6"/><path d="M2 4h1.02v1.02h-1.02z" fill="#5d9df0"/><path d="M3 4h1.02v1.02h-1.02z" fill="#5990f5"/><path d="M4 4h1.02v1.02h-1.02z" fill="#a7baee"/><path d="M5 4h1.02v1.02h-1.02z" fill="#5497f0"/><path d="M6 4h1.02v1.02h-1.02z" fill="#5793f3"/><path d="M7 4h1.02v1.02h-1.02z" fill="#5596f1"/><path d="M8 4h1.02v1.02h-1.02z" fill="#5584f8"/><path d="M9 4h1.02v1.02h-1.02z" fill="#5b8cf5"/><path d="M10 4h1.02v1.02h-1.02z" fill="#5681f6"/><path d="M11 4h1.02v1.02h-1.02z" fill="#4d8ef3"/><path d="M12 4h1.02v1.02h-1.02z" fill="#7194f3"/><path d="M13 4h1.02v1.02h-1.02z" fill="#6494f5"/><path d="M14 4h1.02v1.02h-1.02z" fill="#5e87f2"/><path d="M15 4h1.02v1.02h-1.02z" fill="#6281f3"/><path d="M16 4h1.02v1.02h-1.02z" fill="#5f88f5"/><path d="M17 4h1.02v1.02h-1.02z" fill="#5486f6"/><path d="M18 4h1.02v1.02h-1.02z" fill="#5a8ff4"/><path d="M19 4h1.02v1.02h-1.02z" fill="#7096f3"/><path d="M20 4h1.02v1.02h-1.02z" fill="#7093f2"/><path d="M21 4h1.02v1.02h-1.02z" fill="#5c79f8"/><path d="M22 4h1.02v1.02h-1.02z" fill="#536af1"/><path d="M23 4h1.02v1.02h-1.02z" fill="#758af0"/><path d="M24 4h1.02v1.02h-1.02z" fill="#799cf3"/><path d="M25 4h1.02v1.02h-1.02z" fill="#7882ec"/><path d="M0 5h1.02v1.02h-1.02z" fill="#337af9"/><path d="M1 5h1.02v1.02h-1.02z" fill="#3d80f7"/><path d="M2 5h1.02v1.02h-1.02z" fill="#348af0"/><path d="M3 5h1.02v1.02h-1.02z" fill="#3f7cf6"/><path d="M4 5h1.02v1.02h-1.02z" fill="#5497f0"/><path d="M5 5h1.02v1.02h-1.02z" fill="#47a6e5"/><path d="M6 5h1.02v1.02h-1.02z" fill="#258ced"/><path d="M7 5h1.02v1.02h-1.02z" fill="#338df4"/><path d="M8 5h1.02v1.02h-1.02z" fill="#3885f3"/><path d="M9 5h1.02v1.02h-1.02z" fill="#2f81f5"/><path d="M10 5h1.02v1.02h-1.02z" fill="#3577f6"/><path d="M11 5h1.02v1.02h-1.02z" fill="#2889f0"/><path d="M12 5h1.02v1.02h-1.02z" fill="#5287f5"/><path d="M13 5h1.02v1.02h-1.02z" fill="#278af1"/><path d="M14 5h1.02v1.02h-1.02z" fill="#2b85f1"/><path d="M15 5h1.02v1.02h-1.02z" fill="#2e81f7"/><path d="M16 5h1.02v1.02h-1.02z" fill="#2d81f5"/><path d="M17 5h1.02v1.02h-1.02z" fill="#268bf1"/><path d="M18 5h1.02v1.02h-1.02z" fill="#2789ef"/><path d="M19 5h1.02v1.02h-1.02z" fill="#317cf6"/><path d="M20 5h1.02v1.02h-1.02z" fill="#4b7ff9"/><path d="M21 5h1.02v1.02h-1.02z" fill="#3577f8"/><path d="M22 5h1.02v1.02h-1.02z" fill="#5682f7"/><path d="M23 5h1.02v1.02h-1.02z" fill="#3673f7"/><path d="M24 5h1.02v1.02h-1.02z" fill="#2c83f6"/><path d="M25 5h1.02v1.02h-1.02z" fill="#4573f8"/><path d="M0 6h1.02v1.02h-1.02z" fill="#3376f6"/><path d="M1 6h1.02v1.02h-1.02z" fill="#317ef8"/><path d="M2 6h1.02v1.02h-1.02z" fill="#358aef"/><path d="M3 6h1.02v1.02h-1.02z" fill="#3d7ff8"/><path d="M4 6h1.02v1.02h-1.02z" fill="#5793f3"/><path d="M5 6h1.02v1.02h-1.02z" fill="#258ced"/><path d="M6 6h1.02v1.02h-1.02z" fill="#4aa3ea"/><path d="M7 6h1.02v1.02h-1.02z" fill="#258cef"/><path d="M8 6h1.02v1.02h-1.02z" fill="#3379f8"/><path d="M9 6h1.02v1.02h-1.02z" fill="#327cf7"/><path d="M10 6h1.02v1.02h-1.02z" fill="#2d81f5"/><path d="M11 6h1.02v1.02h-1.02z" fill="#238deb"/><path d="M12 6h1.02v1.02h-1.02z" fill="#3f7cf9"/><path d="M13 6h1.02v1.02h-1.02z" fill="#248eef"/><path d="M14 6h1.02v1.02h-1.02z" fill="#2c82f1"/><path d="M15 6h1.02v1.02h-1.02z" fill="#347afa"/><path d="M16 6h1.02v1.02h-1.02z" fill="#2b83f3"/><path d="M17 6h1.02v1.02h-1.02z" fill="#238eee"/><path d="M18 6h1.02v1.02h-1.02z" fill="#2191ec"/><path d="M19 6h1.02v1.02h-1.02z" fill="#278af2"/><path d="M20 6h1.02v1.02h-1.02z" fill="#3774f9"/><path d="M21 6h1.02v1.02h-1.02z" fill="#408cf3"/><path d="M22 6h1.02v1.02h-1.02z" fill="#5d86f2"/><path d="M23 6h1.02v1.02h-1.02z" fill="#3577f8"/><path d="M24 6h1.02v1.02h-1.02z" fill="#428af3"/><path d="M25 6h1.02v1.02h-1.02z" fill="#5d8af5"/><path d="M0 7h1.02v1.02h-1.02z" fill="#3677fa"/><path d="M1 7h1.02v1.02h-1.02z" fill="#3080f8"/><path d="M2 7h1.02v1.02h-1.02z" fill="#4894f0"/><path d="M3 7h1.02v1.02h-1.02z" fill="#3985f5"/><path d="M4 7h1.02v1.02h-1.02z" fill="#5596f1"/><path d="M5 7h1.02v1.02h-1.02z" fill="#338df4"/><path d="M6 7h1.02v1.02h-1.02z" fill="#258cef"/><path d="M7 7h1.02v1.02h-1.02z" fill="#44aae2"/><path d="M8 7h1.02v1.02h-1.02z" fill="#2c84f4"/><path d="M9 7h1.02v1.02h-1.02z" fill="#3589f2"/><path d="M10 7h1.02v1.02h-1.02z" fill="#2e81f6"/><path d="M11 7h1.02v1.02h-1.02z" fill="#248def"/><path d="M12 7h1.02v1.02h-1.02z" fill="#508bf5"/><path d="M13 7h1.02v1.02h-1.02z" fill="#2988f3"/><path d="M14 7h1.02v1.02h-1.02z" fill="#338cf2"/><path d="M15 7h1.02v1.02h-1.02z" fill="#3589f2"/><path d="M16 7h1.02v1.02h-1.02z" fill="#278af1"/><path d="M17 7h1.02v1.02h-1.02z" fill="#1f92ea"/><path d="M18 7h1.02v1.02h-1.02z" fill="#3689f4"/><path d="M19 7h1.02v1.02h-1.02z" fill="#2d82f7"/><path d="M20 7h1.02v1.02h-1.02z" fill="#3e90f2"/><path d="M21 7h1.02v1.02h-1.02z" fill="#3b82f8"/><path d="M22 7h1.02v1.02h-1.02z" fill="#4c7bf6"/><path d="M23 7h1.02v1.02h-1.02z" fill="#3e7df7"/><path d="M24 7h1.02v1.02h-1.02z" fill="#428af3"/><path d="M25 7h1.02v1.02h-1.02z" fill="#4d7bf9"/><path d="M0 8h1.02v1.02h-1.02z" fill="#386bf2"/><path d="M1 8h1.02v1.02h-1.02z" fill="#3278f3"/><path d="M2 8h1.02v1.02h-1.02z" fill="#3b7ff4"/><path d="M3 8h1.02v1.02h-1.02z" fill="#407cfa"/><path d="M4 8h1.02v1.02h-1.02z" fill="#5584f8"/><path d="M5 8h1.02v1.02h-1.02z" fill="#3885f3"/><path d="M6 8h1.02v1.02h-1.02z" fill="#3379f8"/><path d="M7 8h1.02v1.02h-1.02z" fill="#2c84f4"/><path d="M8 8h1.02v1.02h-1.02z" fill="#5498f1"/><path d="M9 8h1.02v1.02h-1.02z" fill="#3787f2"/><path d="M10 8h1.02v1.02h-1.02z" fill="#3379f8"/><path d="M11 8h1.02v1.02h-1.02z" fill="#2c83f3"/><path d="M12 8h1.02v1.02h-1.02z" fill="#4d79f6"/><path d="M13 8h1.02v1.02h-1.02z" fill="#3984f5"/><path d="M14 8h1.02v1.02h-1.02z" fill="#3477f6"/><path d="M15 8h1.02v1.02h-1.02z" fill="#3772f8"/><path d="M16 8h1.02v1.02h-1.02z" fill="#2c80f1"/><path d="M17 8h1.02v1.02h-1.02z" fill="#2c81f2"/><path d="M18 8h1.02v1.02h-1.02z" fill="#2d81f4"/><path d="M19 8h1.02v1.02h-1.02z" fill="#3b82f6"/><path d="M20 8h1.02v1.02h-1.02z" fill="#3871f8"/><path d="M21 8h1.02v1.02h-1.02z" fill="#4d7cf8"/><path d="M22 8h1.02v1.02h-1.02z" fill="#466ef6"/><path d="M23 8h1.02v1.02h-1.02z" fill="#5681f5"/><path d="M24 8h1.02v1.02h-1.02z" fill="#4487f5"/><path d="M25 8h1.02v1.02h-1.02z" fill="#476cf5"/><path d="M0 9h1.02v1.02h-1.02z" fill="#3771f8"/><path d="M1 9h1.02v1.02h-1.02z" fill="#3676f9"/><path d="M2 9h1.02v1.02h-1.02z" fill="#317cf4"/><path d="M3 9h1.02v1.02h-1.02z" fill="#5386f8"/><path d="M4 9h1.02v1.02h-1.02z" fill="#5b8cf5"/><path d="M5 9h1.02v1.02h-1.02z" fill="#2f81f5"/><path d="M6 9h1.02v1.02h-1.02z" fill="#327cf7"/><path d="M7 9h1.02v1.02h-1.02z" fill="#3589f2"/><path d="M8 9h1.02v1.02h-1.02z" fill="#3787f2"/><path d="M9 9h1.02v1.02h-1.02z" fill="#5890f1"/><path d="M10 9h1.02v1.02h-1.02z" fill="#327cf9"/><path d="M11 9h1.02v1.02h-1.02z" fill="#2987f3"/><path d="M12 9h1.02v1.02h-1.02z" fill="#587df6"/><path d="M13 9h1.02v1.02h-1.02z" fill="#2e81f6"/><path d="M14 9h1.02v1.02h-1.02z" fill="#3b80f4"/><path d="M15 9h1.02v1.02h-1.02z" fill="#3874fa"/><path d="M16 9h1.02v1.02h-1.02z" fill="#307df3"/><path d="M17 9h1.02v1.02h-1.02z" fill="#307df5"/><path d="M18 9h1.02v1.02h-1.02z" fill="#3787f6"/><path d="M19 9h1.02v1.02h-1.02z" fill="#317ef7"/><path d="M20 9h1.02v1.02h-1.02z" fill="#4882f7"/><path d="M21 9h1.02v1.02h-1.02z" fill="#4374f7"/><path d="M22 9h1.02v1.02h-1.02z" fill="#426deb"/><path d="M23 9h1.02v1.02h-1.02z" fill="#5d8af6"/><path d="M24 9h1.02v1.02h-1.02z" fill="#5990f4"/><path d="M25 9h1.02v1.02h-1.02z" fill="#5879f3"/><path d="M0 10h1.02v1.02h-1.02z" fill="#407bf9"/><path d="M1 10h1.02v1.02h-1.02z" fill="#3674f8"/><path d="M2 10h1.02v1.02h-1.02z" fill="#3788f5"/><path d="M3 10h1.02v1.02h-1.02z" fill="#5681f7"/><path d="M4 10h1.02v1.02h-1.02z" fill="#5681f6"/><path d="M5 10h1.02v1.02h-1.02z" fill="#3577f6"/><path d="M6 10h1.02v1.02h-1.02z" fill="#2d81f5"/><path d="M7 10h1.02v1.02h-1.02z" fill="#2e81f6"/><path d="M8 10h1.02v1.02h-1.02z" fill="#3379f8"/><path d="M9 10h1.02v1.02h-1.02z" fill="#327cf9"/><path d="M10 10h1.02v1.02h-1.02z" fill="#5299f1"/><path d="M11 10h1.02v1.02h-1.02z" fill="#238fed"/><path d="M12 10h1.02v1.02h-1.02z" fill="#5f85f3"/><path d="M13 10h1.02v1.02h-1.02z" fill="#2e81f9"/><path d="M14 10h1.02v1.02h-1.02z" fill="#407bf9"/><path d="M15 10h1.02v1.02h-1.02z" fill="#3b81f6"/><path d="M16 10h1.02v1.02h-1.02z" fill="#2e7ff6"/><path d="M17 10h1.02v1.02h-1.02z" fill="#2988f3"/><path d="M18 10h1.02v1.02h-1.02z" fill="#2f80f6"/><path d="M19 10h1.02v1.02h-1.02z" fill="#2f80f7"/><path d="M20 10h1.02v1.02h-1.02z" fill="#3676fa"/><path d="M21 10h1.02v1.02h-1.02z" fill="#4e7af8"/><path d="M22 10h1.02v1.02h-1.02z" fill="#486af5"/><path d="M23 10h1.02v1.02h-1.02z" fill="#3972f9"/><path d="M24 10h1.02v1.02h-1.02z" fill="#438af5"/><path d="M25 10h1.02v1.02h-1.02z" fill="#4882f6"/><path d="M0 11h1.02v1.02h-1.02z" fill="#327cf8"/><path d="M1 11h1.02v1.02h-1.02z" fill="#2a85f4"/><path d="M2 11h1.02v1.02h-1.02z" fill="#2f91ee"/><path d="M3 11h1.02v1.02h-1.02z" fill="#4782f6"/><path d="M4 11h1.02v1.02h-1.02z" fill="#4d8ef3"/><path d="M5 11h1.02v1.02h-1.02z" fill="#2889f0"/><path d="M6 11h1.02v1.02h-1.02z" fill="#238deb"/><path d="M7 11h1.02v1.02h-1.02z" fill="#248def"/><path d="M8 11h1.02v1.02h-1.02z" fill="#2c83f3"/><path d="M9 11h1.02v1.02h-1.02z" fill="#2987f3"/><path d="M10 11h1.02v1.02h-1.02z" fill="#238fed"/><path d="M11 11h1.02v1.02h-1.02z" fill="#44aae2"/><path d="M12 11h1.02v1.02h-1.02z" fill="#3d90ef"/><path d="M13 11h1.02v1.02h-1.02z" fill="#258df2"/><path d="M14 11h1.02v1.02h-1.02z" fill="#2f7ff6"/><path d="M15 11h1.02v1.02h-1.02z" fill="#3677f9"/><path d="M16 11h1.02v1.02h-1.02z" fill="#348af2"/><path d="M17 11h1.02v1.02h-1.02z" fill="#2987f1"/><path d="M18 11h1.02v1.02h-1.02z" fill="#2a86f4"/><path d="M19 11h1.02v1.02h-1.02z" fill="#2a87f4"/><path d="M20 11h1.02v1.02h-1.02z" fill="#3a84f8"/><path d="M21 11h1.02v1.02h-1.02z" fill="#3e7df9"/><path d="M22 11h1.02v1.02h-1.02z" fill="#4276f7"/><path d="M23 11h1.02v1.02h-1.02z" fill="#3578f9"/><path d="M24 11h1.02v1.02h-1.02z" fill="#4895f3"/><path d="M25 11h1.02v1.02h-1.02z" fill="#4472f7"/><path d="M0 12h1.02v1.02h-1.02z" fill="#5779f0"/><path d="M1 12h1.02v1.02h-1.02z" fill="#5187f6"/><path d="M2 12h1.02v1.02h-1.02z" fill="#5186f3"/><path d="M3 12h1.02v1.02h-1.02z" fill="#587af3"/><path d="M4 12h1.02v1.02h-1.02z" fill="#7194f3"/><path d="M5 12h1.02v1.02h-1.02z" fill="#5287f5"/><path d="M6 12h1.02v1.02h-1.02z" fill="#3f7cf9"/><path d="M7 12h1.02v1.02h-1.02z" fill="#508bf5"/><path d="M8 12h1.02v1.02h-1.02z" fill="#4d79f6"/><path d="M9 12h1.02v1.02h-1.02z" fill="#587df6"/><path d="M10 12h1.02v1.02h-1.02z" fill="#5f85f3"/><path d="M11 12h1.02v1.02h-1.02z" fill="#3d90ef"/><path d="M12 12h1.02v1.02h-1.02z" fill="#849ef1"/><path d="M13 12h1.02v1.02h-1.02z" fill="#3886f5"/><path d="M14 12h1.02v1.02h-1.02z" fill="#4b79f3"/><path d="M15 12h1.02v1.02h-1.02z" fill="#4371f3"/><path d="M16 12h1.02v1.02h-1.02z" fill="#5580f3"/><path d="M17 12h1.02v1.02h-1.02z" fill="#4b7cf5"/><path d="M18 12h1.02v1.02h-1.02z" fill="#4782f5"/><path d="M19 12h1.02v1.02h-1.02z" fill="#3c6cfa"/><path d="M20 12h1.02v1.02h-1.02z" fill="#5f82f2"/><path d="M21 12h1.02v1.02h-1.02z" fill="#597bf5"/><path d="M22 12h1.02v1.02h-1.02z" fill="#6573eb"/><path d="M23 12h1.02v1.02h-1.02z" fill="#5978f3"/><path d="M24 12h1.02v1.02h-1.02z" fill="#4177f7"/><path d="M25 12h1.02v1.02h-1.02z" fill="#536af0"/><path d="M0 13h1.02v1.02h-1.02z" fill="#4b7cf7"/><path d="M1 13h1.02v1.02h-1.02z" fill="#438af6"/><path d="M2 13h1.02v1.02h-1.02z" fill="#4c91f4"/><path d="M3 13h1.02v1.02h-1.02z" fill="#5f88f6"/><path d="M4 13h1.02v1.02h-1.02z" fill="#6494f5"/><path d="M5 13h1.02v1.02h-1.02z" fill="#278af1"/><path d="M6 13h1.02v1.02h-1.02z" fill="#248eef"/><path d="M7 13h1.02v1.02h-1.02z" fill="#2988f3"/><path d="M8 13h1.02v1.02h-1.02z" fill="#3984f5"/><path d="M9 13h1.02v1.02h-1.02z" fill="#2e81f6"/><path d="M10 13h1.02v1.02h-1.02z" fill="#2e81f9"/><path d="M11 13h1.02v1.02h-1.02z" fill="#258df2"/><path d="M12 13h1.02v1.02h-1.02z" fill="#3886f5"/><path d="M13 13h1.02v1.02h-1.02z" fill="#44a9e2"/><path d="M14 13h1.02v1.02h-1.02z" fill="#1f93e9"/><path d="M15 13h1.02v1.02h-1.02z" fill="#2191ec"/><path d="M16 13h1.02v1.02h-1.02z" fill="#2d93eb"/><path d="M17 13h1.02v1.02h-1.02z" fill="#1b98e6"/><path d="M18 13h1.02v1.02h-1.02z" fill="#2192eb"/><path d="M19 13h1.02v1.02h-1.02z" fill="#248ded"/><path d="M20 13h1.02v1.02h-1.02z" fill="#2191ec"/><path d="M21 13h1.02v1.02h-1.02z" fill="#2d93ef"/><path d="M22 13h1.02v1.02h-1.02z" fill="#2b83f3"/><path d="M23 13h1.02v1.02h-1.02z" fill="#2e92ef"/><path d="M24 13h1.02v1.02h-1.02z" fill="#1c97e7"/><path d="M25 13h1.02v1.02h-1.02z" fill="#2b85f3"/><path d="M0 14h1.02v1.02h-1.02z" fill="#396bf5"/><path d="M1 14h1.02v1.02h-1.02z" fill="#4279f8"/><path d="M2 14h1.02v1.02h-1.02z" fill="#588eee"/><path d="M3 14h1.02v1.02h-1.02z" fill="#6a8af5"/><path d="M4 14h1.02v1.02h-1.02z" fill="#5e87f2"/><path d="M5 14h1.02v1.02h-1.02z" fill="#2b85f1"/><path d="M6 14h1.02v1.02h-1.02z" fill="#2c82f1"/><path d="M7 14h1.02v1.02h-1.02z" fill="#338cf2"/><path d="M8 14h1.02v1.02h-1.02z" fill="#3477f6"/><path d="M9 14h1.02v1.02h-1.02z" fill="#3b80f4"/><path d="M10 14h1.02v1.02h-1.02z" fill="#407bf9"/><path d="M11 14h1.02v1.02h-1.02z" fill="#2f7ff6"/><path d="M12 14h1.02v1.02h-1.02z" fill="#4b79f3"/><path d="M13 14h1.02v1.02h-1.02z" fill="#1f93e9"/><path d="M14 14h1.02v1.02h-1.02z" fill="#4f9fe7"/><path d="M15 14h1.02v1.02h-1.02z" fill="#238fec"/><path d="M16 14h1.02v1.02h-1.02z" fill="#2689ec"/><path d="M17 14h1.02v1.02h-1.02z" fill="#3090ee"/><path d="M18 14h1.02v1.02h-1.02z" fill="#2b84f1"/><path d="M19 14h1.02v1.02h-1.02z" fill="#278af1"/><path d="M20 14h1.02v1.02h-1.02z" fill="#2789f0"/><path d="M21 14h1.02v1.02h-1.02z" fill="#328df0"/><path d="M22 14h1.02v1.02h-1.02z" fill="#317cf3"/><path d="M23 14h1.02v1.02h-1.02z" fill="#2d82f4"/><path d="M24 14h1.02v1.02h-1.02z" fill="#1f92e6"/><path d="M25 14h1.02v1.02h-1.02z" fill="#3d7df5"/><path d="M0 15h1.02v1.02h-1.02z" fill="#6481f7"/><path d="M1 15h1.02v1.02h-1.02z" fill="#407bf8"/><path d="M2 15h1.02v1.02h-1.02z" fill="#5484f5"/><path d="M3 15h1.02v1.02h-1.02z" fill="#6185f5"/><path d="M4 15h1.02v1.02h-1.02z" fill="#6281f3"/><path d="M5 15h1.02v1.02h-1.02z" fill="#2e81f7"/><path d="M6 15h1.02v1.02h-1.02z" fill="#347afa"/><path d="M7 15h1.02v1.02h-1.02z" fill="#3589f2"/><path d="M8 15h1.02v1.02h-1.02z" fill="#3772f8"/><path d="M9 15h1.02v1.02h-1.02z" fill="#3874fa"/><path d="M10 15h1.02v1.02h-1.02z" fill="#3b81f6"/><path d="M11 15h1.02v1.02h-1.02z" fill="#3677f9"/><path d="M12 15h1.02v1.02h-1.02z" fill="#4371f3"/><path d="M13 15h1.02v1.02h-1.02z" fill="#2191ec"/><path d="M14 15h1.02v1.02h-1.02z" fill="#238fec"/><path d="M15 15h1.02v1.02h-1.02z" fill="#519bee"/><path d="M16 15h1.02v1.02h-1.02z" fill="#2290ec"/><path d="M17 15h1.02v1.02h-1.02z" fill="#2c84f4"/><path d="M18 15h1.02v1.02h-1.02z" fill="#2e81f6"/><path d="M19 15h1.02v1.02h-1.02z" fill="#2987f1"/><path d="M20 15h1.02v1.02h-1.02z" fill="#2888ef"/><path d="M21 15h1.02v1.02h-1.02z" fill="#2e80f3"/><path d="M22 15h1.02v1.02h-1.02z" fill="#3971fa"/><path d="M23 15h1.02v1.02h-1.02z" fill="#2c84f5"/><path d="M24 15h1.02v1.02h-1.02z" fill="#248eef"/><path d="M25 15h1.02v1.02h-1.02z" fill="#418bf2"/><path d="M0 16h1.02v1.02h-1.02z" fill="#4377fa"/><path d="M1 16h1.02v1.02h-1.02z" fill="#3576f7"/><path d="M2 16h1.02v1.02h-1.02z" fill="#4586f6"/><path d="M3 16h1.02v1.02h-1.02z" fill="#6591f3"/><path d="M4 16h1.02v1.02h-1.02z" fill="#5f88f5"/><path d="M5 16h1.02v1.02h-1.02z" fill="#2d81f5"/><path d="M6 16h1.02v1.02h-1.02z" fill="#2b83f3"/><path d="M7 16h1.02v1.02h-1.02z" fill="#278af1"/><path d="M8 16h1.02v1.02h-1.02z" fill="#2c80f1"/><path d="M9 16h1.02v1.02h-1.02z" fill="#307df3"/><path d="M10 16h1.02v1.02h-1.02z" fill="#2e7ff6"/><path d="M11 16h1.02v1.02h-1.02z" fill="#348af2"/><path d="M12 16h1.02v1.02h-1.02z" fill="#5580f3"/><path d="M13 16h1.02v1.02h-1.02z" fill="#2d93eb"/><path d="M14 16h1.02v1.02h-1.02z" fill="#2689ec"/><path d="M15 16h1.02v1.02h-1.02z" fill="#2290ec"/><path d="M16 16h1.02v1.02h-1.02z" fill="#43abe0"/><path d="M17 16h1.02v1.02h-1.02z" fill="#1d97e2"/><path d="M18 16h1.02v1.02h-1.02z" fill="#2191ec"/><path d="M19 16h1.02v1.02h-1.02z" fill="#258cee"/><path d="M20 16h1.02v1.02h-1.02z" fill="#238eec"/><path d="M21 16h1.02v1.02h-1.02z" fill="#318eee"/><path d="M22 16h1.02v1.02h-1.02z" fill="#2e7fef"/><path d="M23 16h1.02v1.02h-1.02z" fill="#2888f1"/><path d="M24 16h1.02v1.02h-1.02z" fill="#2290eb"/><path d="M25 16h1.02v1.02h-1.02z" fill="#2a86f3"/><path d="M0 17h1.02v1.02h-1.02z" fill="#4685f6"/><path d="M1 17h1.02v1.02h-1.02z" fill="#337bf8"/><path d="M2 17h1.02v1.02h-1.02z" fill="#4a93f2"/><path d="M3 17h1.02v1.02h-1.02z" fill="#5387f7"/><path d="M4 17h1.02v1.02h-1.02z" fill="#5486f6"/><path d="M5 17h1.02v1.02h-1.02z" fill="#268bf1"/><path d="M6 17h1.02v1.02h-1.02z" fill="#238eee"/><path d="M7 17h1.02v1.02h-1.02z" fill="#1f92ea"/><path d="M8 17h1.02v1.02h-1.02z" fill="#2c81f2"/><path d="M9 17h1.02v1.02h-1.02z" fill="#307df5"/><path d="M10 17h1.02v1.02h-1.02z" fill="#2988f3"/><path d="M11 17h1.02v1.02h-1.02z" fill="#2987f1"/><path d="M12 17h1.02v1.02h-1.02z" fill="#4b7cf5"/><path d="M13 17h1.02v1.02h-1.02z" fill="#1b98e6"/><path d="M14 17h1.02v1.02h-1.02z" fill="#3090ee"/><path d="M15 17h1.02v1.02h-1.02z" fill="#2c84f4"/><path d="M16 17h1.02v1.02h-1.02z" fill="#1d97e2"/><path d="M17 17h1.02v1.02h-1.02z" fill="#44abdf"/><path d="M18 17h1.02v1.02h-1.02z" fill="#1a9ae4"/><path d="M19 17h1.02v1.02h-1.02z" fill="#1d95e6"/><path d="M20 17h1.02v1.02h-1.02z" fill="#2092eb"/><path d="M21 17h1.02v1.02h-1.02z" fill="#1f93ea"/><path d="M22 17h1.02v1.02h-1.02z" fill="#2e7ff4"/><path d="M23 17h1.02v1.02h-1.02z" fill="#1f93ea"/><path d="M24 17h1.02v1.02h-1.02z" fill="#1c97e7"/><path d="M25 17h1.02v1.02h-1.02z" fill="#2f91ed"/><path d="M0 18h1.02v1.02h-1.02z" fill="#4981f8"/><path d="M1 18h1.02v1.02h-1.02z" fill="#3379f7"/><path d="M2 18h1.02v1.02h-1.02z" fill="#529aee"/><path d="M3 18h1.02v1.02h-1.02z" fill="#5b8ef6"/><path d="M4 18h1.02v1.02h-1.02z" fill="#5a8ff4"/><path d="M5 18h1.02v1.02h-1.02z" fill="#2789ef"/><path d="M6 18h1.02v1.02h-1.02z" fill="#2191ec"/><path d="M7 18h1.02v1.02h-1.02z" fill="#3689f4"/><path d="M8 18h1.02v1.02h-1.02z" fill="#2d81f4"/><path d="M9 18h1.02v1.02h-1.02z" fill="#3787f6"/><path d="M10 18h1.02v1.02h-1.02z" fill="#2f80f6"/><path d="M11 18h1.02v1.02h-1.02z" fill="#2a86f4"/><path d="M12 18h1.02v1.02h-1.02z" fill="#4782f5"/><path d="M13 18h1.02v1.02h-1.02z" fill="#2192eb"/><path d="M14 18h1.02v1.02h-1.02z" fill="#2b84f1"/><path d="M15 18h1.02v1.02h-1.02z" fill="#2e81f6"/><path d="M16 18h1.02v1.02h-1.02z" fill="#2191ec"/><path d="M17 18h1.02v1.02h-1.02z" fill="#1a9ae4"/><path d="M18 18h1.02v1.02h-1.02z" fill="#3fb0d8"/><path d="M19 18h1.02v1.02h-1.02z" fill="#1c98e4"/><path d="M20 18h1.02v1.02h-1.02z" fill="#228eeb"/><path d="M21 18h1.02v1.02h-1.02z" fill="#1e94e9"/><path d="M22 18h1.02v1.02h-1.02z" fill="#2a87f4"/><path d="M23 18h1.02v1.02h-1.02z" fill="#278af0"/><path d="M24 18h1.02v1.02h-1.02z" fill="#1f94eb"/><path d="M25 18h1.02v1.02h-1.02z" fill="#2c84f0"/><path d="M0 19h1.02v1.02h-1.02z" fill="#4a7ff9"/><path d="M1 19h1.02v1.02h-1.02z" fill="#3d7ef6"/><path d="M2 19h1.02v1.02h-1.02z" fill="#5498f1"/><path d="M3 19h1.02v1.02h-1.02z" fill="#6791f6"/><path d="M4 19h1.02v1.02h-1.02z" fill="#7096f3"/><path d="M5 19h1.02v1.02h-1.02z" fill="#317cf6"/><path d="M6 19h1.02v1.02h-1.02z" fill="#278af2"/><path d="M7 19h1.02v1.02h-1.02z" fill="#2d82f7"/><path d="M8 19h1.02v1.02h-1.02z" fill="#3b82f6"/><path d="M9 19h1.02v1.02h-1.02z" fill="#317ef7"/><path d="M10 19h1.02v1.02h-1.02z" fill="#2f80f7"/><path d="M11 19h1.02v1.02h-1.02z" fill="#2a87f4"/><path d="M12 19h1.02v1.02h-1.02z" fill="#3c6cfa"/><path d="M13 19h1.02v1.02h-1.02z" fill="#248ded"/><path d="M14 19h1.02v1.02h-1.02z" fill="#278af1"/><path d="M15 19h1.02v1.02h-1.02z" fill="#2987f1"/><path d="M16 19h1.02v1.02h-1.02z" fill="#258cee"/><path d="M17 19h1.02v1.02h-1.02z" fill="#1d95e6"/><path d="M18 19h1.02v1.02h-1.02z" fill="#1c98e4"/><path d="M19 19h1.02v1.02h-1.02z" fill="#47aae1"/><path d="M20 19h1.02v1.02h-1.02z" fill="#1c96e5"/><path d="M21 19h1.02v1.02h-1.02z" fill="#2092eb"/><path d="M22 19h1.02v1.02h-1.02z" fill="#2986f0"/><path d="M23 19h1.02v1.02h-1.02z" fill="#2988f2"/><path d="M24 19h1.02v1.02h-1.02z" fill="#1f93e8"/><path d="M25 19h1.02v1.02h-1.02z" fill="#2b83ef"/><path d="M0 20h1.02v1.02h-1.02z" fill="#597af5"/><path d="M1 20h1.02v1.02h-1.02z" fill="#3e6cfb"/><path d="M2 20h1.02v1.02h-1.02z" fill="#5287f6"/><path d="M3 20h1.02v1.02h-1.02z" fill="#5a7cf7"/><path d="M4 20h1.02v1.02h-1.02z" fill="#7093f2"/><path d="M5 20h1.02v1.02h-1.02z" fill="#4b7ff9"/><path d="M6 20h1.02v1.02h-1.02z" fill="#3774f9"/><path d="M7 20h1.02v1.02h-1.02z" fill="#3e90f2"/><path d="M8 20h1.02v1.02h-1.02z" fill="#3871f8"/><path d="M9 20h1.02v1.02h-1.02z" fill="#4882f7"/><path d="M10 20h1.02v1.02h-1.02z" fill="#3676fa"/><path d="M11 20h1.02v1.02h-1.02z" fill="#3a84f8"/><path d="M12 20h1.02v1.02h-1.02z" fill="#5f82f2"/><path d="M13 20h1.02v1.02h-1.02z" fill="#2191ec"/><path d="M14 20h1.02v1.02h-1.02z" fill="#2789f0"/><path d="M15 20h1.02v1.02h-1.02z" fill="#2888ef"/><path d="M16 20h1.02v1.02h-1.02z" fill="#238eec"/><path d="M17 20h1.02v1.02h-1.02z" fill="#2092eb"/><path d="M18 20h1.02v1.02h-1.02z" fill="#228eeb"/><path d="M19 20h1.02v1.02h-1.02z" fill="#1c96e5"/><path d="M20 20h1.02v1.02h-1.02z" fill="#41acde"/><path d="M21 20h1.02v1.02h-1.02z" fill="#1f93e9"/><path d="M22 20h1.02v1.02h-1.02z" fill="#2987f2"/><path d="M23 20h1.02v1.02h-1.02z" fill="#248dee"/><path d="M24 20h1.02v1.02h-1.02z" fill="#1b98e5"/><path d="M25 20h1.02v1.02h-1.02z" fill="#3588f0"/><path d="M0 21h1.02v1.02h-1.02z" fill="#587bf4"/><path d="M1 21h1.02v1.02h-1.02z" fill="#4e79f6"/><path d="M2 21h1.02v1.02h-1.02z" fill="#4683f3"/><path d="M3 21h1.02v1.02h-1.02z" fill="#5b7bf8"/><path d="M4 21h1.02v1.02h-1.02z" fill="#5c79f8"/><path d="M5 21h1.02v1.02h-1.02z" fill="#3577f8"/><path d="M6 21h1.02v1.02h-1.02z" fill="#408cf3"/><path d="M7 21h1.02v1.02h-1.02z" fill="#3b82f8"/><path d="M8 21h1.02v1.02h-1.02z" fill="#4d7cf8"/><path d="M9 21h1.02v1.02h-1.02z" fill="#4374f7"/><path d="M10 21h1.02v1.02h-1.02z" fill="#4e7af8"/><path d="M11 21h1.02v1.02h-1.02z" fill="#3e7df9"/><path d="M12 21h1.02v1.02h-1.02z" fill="#597bf5"/><path d="M13 21h1.02v1.02h-1.02z" fill="#2d93ef"/><path d="M14 21h1.02v1.02h-1.02z" fill="#328df0"/><path d="M15 21h1.02v1.02h-1.02z" fill="#2e80f3"/><path d="M16 21h1.02v1.02h-1.02z" fill="#318eee"/><path d="M17 21h1.02v1.02h-1.02z" fill="#1f93ea"/><path d="M18 21h1.02v1.02h-1.02z" fill="#1e94e9"/><path d="M19 21h1.02v1.02h-1.02z" fill="#2092eb"/><path d="M20 21h1.02v1.02h-1.02z" fill="#1f93e9"/><path d="M21 21h1.02v1.02h-1.02z" fill="#49a5e7"/><path d="M22 21h1.02v1.02h-1.02z" fill="#228fea"/><path d="M23 21h1.02v1.02h-1.02z" fill="#238deb"/><path d="M24 21h1.02v1.02h-1.02z" fill="#1b98e7"/><path d="M25 21h1.02v1.02h-1.02z" fill="#2a87f3"/><path d="M0 22h1.02v1.02h-1.02z" fill="#5b73f0"/><path d="M1 22h1.02v1.02h-1.02z" fill="#4665ee"/><path d="M2 22h1.02v1.02h-1.02z" fill="#567ff2"/><path d="M3 22h1.02v1.02h-1.02z" fill="#707bef"/><path d="M4 22h1.02v1.02h-1.02z" fill="#536af1"/><path d="M5 22h1.02v1.02h-1.02z" fill="#5682f7"/><path d="M6 22h1.02v1.02h-1.02z" fill="#5d86f2"/><path d="M7 22h1.02v1.02h-1.02z" fill="#4c7bf6"/><path d="M8 22h1.02v1.02h-1.02z" fill="#466ef6"/><path d="M9 22h1.02v1.02h-1.02z" fill="#426deb"/><path d="M10 22h1.02v1.02h-1.02z" fill="#486af5"/><path d="M11 22h1.02v1.02h-1.02z" fill="#4276f7"/><path d="M12 22h1.02v1.02h-1.02z" fill="#6573eb"/><path d="M13 22h1.02v1.02h-1.02z" fill="#2b83f3"/><path d="M14 22h1.02v1.02h-1.02z" fill="#317cf3"/><path d="M15 22h1.02v1.02h-1.02z" fill="#3971fa"/><path d="M16 22h1.02v1.02h-1.02z" fill="#2e7fef"/><path d="M17 22h1.02v1.02h-1.02z" fill="#2e7ff4"/><path d="M18 22h1.02v1.02h-1.02z" fill="#2a87f4"/><path d="M19 22h1.02v1.02h-1.02z" fill="#2986f0"/><path d="M20 22h1.02v1.02h-1.02z" fill="#2987f2"/><path d="M21 22h1.02v1.02h-1.02z" fill="#228fea"/><path d="M22 22h1.02v1.02h-1.02z" fill="#519bef"/><path d="M23 22h1.02v1.02h-1.02z" fill="#2888ed"/><path d="M24 22h1.02v1.02h-1.02z" fill="#228feb"/><path d="M25 22h1.02v1.02h-1.02z" fill="#3476f5"/><path d="M0 23h1.02v1.02h-1.02z" fill="#486ef9"/><path d="M1 23h1.02v1.02h-1.02z" fill="#4771fa"/><path d="M2 23h1.02v1.02h-1.02z" fill="#597df6"/><path d="M3 23h1.02v1.02h-1.02z" fill="#5e76f8"/><path d="M4 23h1.02v1.02h-1.02z" fill="#758af0"/><path d="M5 23h1.02v1.02h-1.02z" fill="#3673f7"/><path d="M6 23h1.02v1.02h-1.02z" fill="#3577f8"/><path d="M7 23h1.02v1.02h-1.02z" fill="#3e7df7"/><path d="M8 23h1.02v1.02h-1.02z" fill="#5681f5"/><path d="M9 23h1.02v1.02h-1.02z" fill="#5d8af6"/><path d="M10 23h1.02v1.02h-1.02z" fill="#3972f9"/><path d="M11 23h1.02v1.02h-1.02z" fill="#3578f9"/><path d="M12 23h1.02v1.02h-1.02z" fill="#5978f3"/><path d="M13 23h1.02v1.02h-1.02z" fill="#2e92ef"/><path d="M14 23h1.02v1.02h-1.02z" fill="#2d82f4"/><path d="M15 23h1.02v1.02h-1.02z" fill="#2c84f5"/><path d="M16 23h1.02v1.02h-1.02z" fill="#2888f1"/><path d="M17 23h1.02v1.02h-1.02z" fill="#1f93ea"/><path d="M18 23h1.02v1.02h-1.02z" fill="#278af0"/><path d="M19 23h1.02v1.02h-1.02z" fill="#2988f2"/><path d="M20 23h1.02v1.02h-1.02z" fill="#248dee"/><path d="M21 23h1.02v1.02h-1.02z" fill="#238deb"/><path d="M22 23h1.02v1.02h-1.02z" fill="#2888ed"/><path d="M23 23h1.02v1.02h-1.02z" fill="#48a6e6"/><path d="M24 23h1.02v1.02h-1.02z" fill="#1d96e8"/><path d="M25 23h1.02v1.02h-1.02z" fill="#2c84f4"/><path d="M0 24h1.02v1.02h-1.02z" fill="#5681f7"/><path d="M1 24h1.02v1.02h-1.02z" fill="#4a7ff5"/><path d="M2 24h1.02v1.02h-1.02z" fill="#4389f4"/><path d="M3 24h1.02v1.02h-1.02z" fill="#5077f9"/><path d="M4 24h1.02v1.02h-1.02z" fill="#799cf3"/><path d="M5 24h1.02v1.02h-1.02z" fill="#2c83f6"/><path d="M6 24h1.02v1.02h-1.02z" fill="#428af3"/><path d="M7 24h1.02v1.02h-1.02z" fill="#428af3"/><path d="M8 24h1.02v1.02h-1.02z" fill="#4487f5"/><path d="M9 24h1.02v1.02h-1.02z" fill="#5990f4"/><path d="M10 24h1.02v1.02h-1.02z" fill="#438af5"/><path d="M11 24h1.02v1.02h-1.02z" fill="#4895f3"/><path d="M12 24h1.02v1.02h-1.02z" fill="#4177f7"/><path d="M13 24h1.02v1.02h-1.02z" fill="#1c97e7"/><path d="M14 24h1.02v1.02h-1.02z" fill="#1f92e6"/><path d="M15 24h1.02v1.02h-1.02z" fill="#248eef"/><path d="M16 24h1.02v1.02h-1.02z" fill="#2290eb"/><path d="M17 24h1.02v1.02h-1.02z" fill="#1c97e7"/><path d="M18 24h1.02v1.02h-1.02z" fill="#1f94eb"/><path d="M19 24h1.02v1.02h-1.02z" fill="#1f93e8"/><path d="M20 24h1.02v1.02h-1.02z" fill="#1b98e5"/><path d="M21 24h1.02v1.02h-1.02z" fill="#1b98e7"/><path d="M22 24h1.02v1.02h-1.02z" fill="#228feb"/><path d="M23 24h1.02v1.02h-1.02z" fill="#1d96e8"/><path d="M24 24h1.02v1.02h-1.02z" fill="#3eb0d8"/><path d="M25 24h1.02v1.02h-1.02z" fill="#329ee7"/><path d="M0 25h1.02v1.02h-1.02z" fill="#8994ee"/><path d="M1 25h1.02v1.02h-1.02z" fill="#6b88f3"/><path d="M2 25h1.02v1.02h-1.02z" fill="#6f93ef"/><path d="M3 25h1.02v1.02h-1.02z" fill="#6e80ef"/><path d="M4 25h1.02v1.02h-1.02z" fill="#7882ec"/><path d="M5 25h1.02v1.02h-1.02z" fill="#4573f8"/><path d="M6 25h1.02v1.02h-1.02z" fill="#5d8af5"/><path d="M7 25h1.02v1.02h-1.02z" fill="#4d7bf9"/><path d="M8 25h1.02v1.02h-1.02z" fill="#476cf5"/><path d="M9 25h1.02v1.02h-1.02z" fill="#5879f3"/><path d="M10 25h1.02v1.02h-1.02z" fill="#4882f6"/><path d="M11 25h1.02v1.02h-1.02z" fill="#4472f7"/><path d="M12 25h1.02v1.02h-1.02z" fill="#536af0"/><path d="M13 25h1.02v1.02h-1.02z" fill="#2b85f3"/><path d="M14 25h1.02v1.02h-1.02z" fill="#3d7df5"/><path d="M15 25h1.02v1.02h-1.02z" fill="#418bf2"/><path d="M16 25h1.02v1.02h-1.02z" fill="#2a86f3"/><path d="M17 25h1.02v1.02h-1.02z" fill="#2f91ed"/><path d="M18 25h1.02v1.02h-1.02z" fill="#2c84f0"/><path d="M19 25h1.02v1.02h-1.02z" fill="#2b83ef"/><path d="M20 25h1.02v1.02h-1.02z" fill="#3588f0"/><path d="M21 25h1.02v1.02h-1.02z" fill="#2a87f3"/><path d="M22 25h1.02v1.02h-1.02z" fill="#3476f5"/><path d="M23 25h1.02v1.02h-1.02z" fill="#2c84f4"/><path d="M24 25h1.02v1.02h-1.02z" fill="#329ee7"/><path d="M25 25h1.02v1.02h-1.02z" fill="#519bf0"/></g><g transform="translate(676.50 586.80) scale(17.4731 17.4654)"><path d="M0 0h1.02v1.02h-1.02z" fill="#d0ccea"/><path d="M1 0h1.02v1.02h-1.02z" fill="#d0ccea"/><path d="M2 0h1.02v1.02h-1.02z" fill="#d0ccea"/><path d="M3 0h1.02v1.02h-1.02z" fill="#c7c4ea"/><path d="M4 0h1.02v1.02h-1.02z" fill="#d0ccea"/><path d="M5 0h1.02v1.02h-1.02z" fill="#c4c9e9"/><path d="M6 0h1.02v1.02h-1.02z" fill="#d0ccea"/><path d="M7 0h1.02v1.02h-1.02z" fill="#d0ccea"/><path d="M8 0h1.02v1.02h-1.02z" fill="#bebeec"/><path d="M9 0h1.02v1.02h-1.02z" fill="#d0ccea"/><path d="M10 0h1.02v1.02h-1.02z" fill="#d0ccea"/><path d="M11 0h1.02v1.02h-1.02z" fill="#c7c5eb"/><path d="M12 0h1.02v1.02h-1.02z" fill="#b6b8ed"/><path d="M13 0h1.02v1.02h-1.02z" fill="#d0ccea"/><path d="M14 0h1.02v1.02h-1.02z" fill="#d0ccea"/><path d="M15 0h1.02v1.02h-1.02z" fill="#d0ccea"/><path d="M16 0h1.02v1.02h-1.02z" fill="#c6c8eb"/><path d="M17 0h1.02v1.02h-1.02z" fill="#d0ccea"/><path d="M18 0h1.02v1.02h-1.02z" fill="#c7c5eb"/><path d="M19 0h1.02v1.02h-1.02z" fill="#bfbeec"/><path d="M20 0h1.02v1.02h-1.02z" fill="#c7c5eb"/><path d="M21 0h1.02v1.02h-1.02z" fill="#c7c5eb"/><path d="M22 0h1.02v1.02h-1.02z" fill="#d0ccea"/><path d="M23 0h1.02v1.02h-1.02z" fill="#c7c5eb"/><path d="M24 0h1.02v1.02h-1.02z" fill="#d0ccea"/><path d="M25 0h1.02v1.02h-1.02z" fill="#d0ccea"/><path d="M0 1h1.02v1.02h-1.02z" fill="#d0ccea"/><path d="M1 1h1.02v1.02h-1.02z" fill="#bebeeb"/><path d="M2 1h1.02v1.02h-1.02z" fill="#d0ccea"/><path d="M3 1h1.02v1.02h-1.02z" fill="#d0ccea"/><path d="M4 1h1.02v1.02h-1.02z" fill="#d0ccea"/><path d="M5 1h1.02v1.02h-1.02z" fill="#b6b9ee"/><path d="M6 1h1.02v1.02h-1.02z" fill="#c7c5eb"/><path d="M7 1h1.02v1.02h-1.02z" fill="#d0ccea"/><path d="M8 1h1.02v1.02h-1.02z" fill="#c7c5eb"/><path d="M9 1h1.02v1.02h-1.02z" fill="#d0ccea"/><path d="M10 1h1.02v1.02h-1.02z" fill="#c7c5eb"/><path d="M11 1h1.02v1.02h-1.02z" fill="#c7c4ea"/><path d="M12 1h1.02v1.02h-1.02z" fill="#d0ccea"/><path d="M13 1h1.02v1.02h-1.02z" fill="#d0ccea"/><path d="M14 1h1.02v1.02h-1.02z" fill="#c6c7eb"/><path d="M15 1h1.02v1.02h-1.02z" fill="#c7c6eb"/><path d="M16 1h1.02v1.02h-1.02z" fill="#d0ccea"/><path d="M17 1h1.02v1.02h-1.02z" fill="#c7c5eb"/><path d="M18 1h1.02v1.02h-1.02z" fill="#c7c5eb"/><path d="M19 1h1.02v1.02h-1.02z" fill="#d0ccea"/><path d="M20 1h1.02v1.02h-1.02z" fill="#d0ccea"/><path d="M21 1h1.02v1.02h-1.02z" fill="#bec0ec"/><path d="M22 1h1.02v1.02h-1.02z" fill="#d0ccea"/><path d="M23 1h1.02v1.02h-1.02z" fill="#c6c7eb"/><path d="M24 1h1.02v1.02h-1.02z" fill="#bfbdeb"/><path d="M25 1h1.02v1.02h-1.02z" fill="#d0ccea"/><path d="M0 2h1.02v1.02h-1.02z" fill="#d0ccea"/><path d="M1 2h1.02v1.02h-1.02z" fill="#d0ccea"/><path d="M2 2h1.02v1.02h-1.02z" fill="#d0ccea"/><path d="M3 2h1.02v1.02h-1.02z" fill="#d0ccea"/><path d="M4 2h1.02v1.02h-1.02z" fill="#bebfec"/><path d="M5 2h1.02v1.02h-1.02z" fill="#c7c5eb"/><path d="M6 2h1.02v1.02h-1.02z" fill="#c7c5eb"/><path d="M7 2h1.02v1.02h-1.02z" fill="#c7c6eb"/><path d="M8 2h1.02v1.02h-1.02z" fill="#d0ccea"/><path d="M9 2h1.02v1.02h-1.02z" fill="#b4bbee"/><path d="M10 2h1.02v1.02h-1.02z" fill="#c7c5eb"/><path d="M11 2h1.02v1.02h-1.02z" fill="#bfbeec"/><path d="M12 2h1.02v1.02h-1.02z" fill="#bec0ec"/><path d="M13 2h1.02v1.02h-1.02z" fill="#d0ccea"/><path d="M14 2h1.02v1.02h-1.02z" fill="#d0ccea"/><path d="M15 2h1.02v1.02h-1.02z" fill="#d0ccea"/><path d="M16 2h1.02v1.02h-1.02z" fill="#d0ccea"/><path d="M17 2h1.02v1.02h-1.02z" fill="#c7c5eb"/><path d="M18 2h1.02v1.02h-1.02z" fill="#c6c7eb"/><path d="M19 2h1.02v1.02h-1.02z" fill="#c7c5eb"/><path d="M20 2h1.02v1.02h-1.02z" fill="#d0ccea"/><path d="M21 2h1.02v1.02h-1.02z" fill="#c6c7eb"/><path d="M22 2h1.02v1.02h-1.02z" fill="#c4cae9"/><path d="M23 2h1.02v1.02h-1.02z" fill="#d0ccea"/><path d="M24 2h1.02v1.02h-1.02z" fill="#d0ccea"/><path d="M25 2h1.02v1.02h-1.02z" fill="#d0ccea"/><path d="M0 3h1.02v1.02h-1.02z" fill="#c7c4eb"/><path d="M1 3h1.02v1.02h-1.02z" fill="#d0ccea"/><path d="M2 3h1.02v1.02h-1.02z" fill="#d0ccea"/><path d="M3 3h1.02v1.02h-1.02z" fill="#d0ccea"/><path d="M4 3h1.02v1.02h-1.02z" fill="#bebfec"/><path d="M5 3h1.02v1.02h-1.02z" fill="#d0ccea"/><path d="M6 3h1.02v1.02h-1.02z" fill="#b4baed"/><path d="M7 3h1.02v1.02h-1.02z" fill="#b6b6ec"/><path d="M8 3h1.02v1.02h-1.02z" fill="#bdc2ec"/><path d="M9 3h1.02v1.02h-1.02z" fill="#bfbfec"/><path d="M10 3h1.02v1.02h-1.02z" fill="#c6c8eb"/><path d="M11 3h1.02v1.02h-1.02z" fill="#c7c4eb"/><path d="M12 3h1.02v1.02h-1.02z" fill="#bfbfec"/><path d="M13 3h1.02v1.02h-1.02z" fill="#d0ccea"/><path d="M14 3h1.02v1.02h-1.02z" fill="#c7c5eb"/><path d="M15 3h1.02v1.02h-1.02z" fill="#c7c5eb"/><path d="M16 3h1.02v1.02h-1.02z" fill="#c7c6eb"/><path d="M17 3h1.02v1.02h-1.02z" fill="#c3cae7"/><path d="M18 3h1.02v1.02h-1.02z" fill="#d0ccea"/><path d="M19 3h1.02v1.02h-1.02z" fill="#c7c5eb"/><path d="M20 3h1.02v1.02h-1.02z" fill="#d0ccea"/><path d="M21 3h1.02v1.02h-1.02z" fill="#c6c7eb"/><path d="M22 3h1.02v1.02h-1.02z" fill="#b2bdeb"/><path d="M23 3h1.02v1.02h-1.02z" fill="#c7c4eb"/><path d="M24 3h1.02v1.02h-1.02z" fill="#c7c5eb"/><path d="M25 3h1.02v1.02h-1.02z" fill="#bfbfec"/><path d="M0 4h1.02v1.02h-1.02z" fill="#d0ccea"/><path d="M1 4h1.02v1.02h-1.02z" fill="#d0ccea"/><path d="M2 4h1.02v1.02h-1.02z" fill="#bbc3e9"/><path d="M3 4h1.02v1.02h-1.02z" fill="#bebfec"/><path d="M4 4h1.02v1.02h-1.02z" fill="#bfbeec"/><path d="M5 4h1.02v1.02h-1.02z" fill="#c6c7eb"/><path d="M6 4h1.02v1.02h-1.02z" fill="#bebfec"/><path d="M7 4h1.02v1.02h-1.02z" fill="#91a0f1"/><path d="M8 4h1.02v1.02h-1.02z" fill="#98aaf1"/><path d="M9 4h1.02v1.02h-1.02z" fill="#d0ccea"/><path d="M10 4h1.02v1.02h-1.02z" fill="#d0ccea"/><path d="M11 4h1.02v1.02h-1.02z" fill="#d0ccea"/><path d="M12 4h1.02v1.02h-1.02z" fill="#bfbdeb"/><path d="M13 4h1.02v1.02h-1.02z" fill="#d0ccea"/><path d="M14 4h1.02v1.02h-1.02z" fill="#c3cae8"/><path d="M15 4h1.02v1.02h-1.02z" fill="#bfbeec"/><path d="M16 4h1.02v1.02h-1.02z" fill="#c6c8eb"/><path d="M17 4h1.02v1.02h-1.02z" fill="#c7c5eb"/><path d="M18 4h1.02v1.02h-1.02z" fill="#c7c5eb"/><path d="M19 4h1.02v1.02h-1.02z" fill="#c6c7eb"/><path d="M20 4h1.02v1.02h-1.02z" fill="#bebfec"/><path d="M21 4h1.02v1.02h-1.02z" fill="#c7c6eb"/><path d="M22 4h1.02v1.02h-1.02z" fill="#d0ccea"/><path d="M23 4h1.02v1.02h-1.02z" fill="#d0ccea"/><path d="M24 4h1.02v1.02h-1.02z" fill="#c7c5eb"/><path d="M25 4h1.02v1.02h-1.02z" fill="#d0ccea"/><path d="M0 5h1.02v1.02h-1.02z" fill="#c3cae8"/><path d="M1 5h1.02v1.02h-1.02z" fill="#b6b8ed"/><path d="M2 5h1.02v1.02h-1.02z" fill="#c7c5eb"/><path d="M3 5h1.02v1.02h-1.02z" fill="#d0ccea"/><path d="M4 5h1.02v1.02h-1.02z" fill="#c7c5eb"/><path d="M5 5h1.02v1.02h-1.02z" fill="#d0ccea"/><path d="M6 5h1.02v1.02h-1.02z" fill="#a8b7ec"/><path d="M7 5h1.02v1.02h-1.02z" fill="#bfbeec"/><path d="M8 5h1.02v1.02h-1.02z" fill="#abb4ed"/><path d="M9 5h1.02v1.02h-1.02z" fill="#d0ccea"/><path d="M10 5h1.02v1.02h-1.02z" fill="#bfbeec"/><path d="M11 5h1.02v1.02h-1.02z" fill="#d0ccea"/><path d="M12 5h1.02v1.02h-1.02z" fill="#d0ccea"/><path d="M13 5h1.02v1.02h-1.02z" fill="#c7c5eb"/><path d="M14 5h1.02v1.02h-1.02z" fill="#d0ccea"/><path d="M15 5h1.02v1.02h-1.02z" fill="#c7c5eb"/><path d="M16 5h1.02v1.02h-1.02z" fill="#c3cae8"/><path d="M17 5h1.02v1.02h-1.02z" fill="#d0ccea"/><path d="M18 5h1.02v1.02h-1.02z" fill="#d0ccea"/><path d="M19 5h1.02v1.02h-1.02z" fill="#acb2ee"/><path d="M20 5h1.02v1.02h-1.02z" fill="#d0ccea"/><path d="M21 5h1.02v1.02h-1.02z" fill="#c7c5eb"/><path d="M22 5h1.02v1.02h-1.02z" fill="#d0ccea"/><path d="M23 5h1.02v1.02h-1.02z" fill="#d0ccea"/><path d="M24 5h1.02v1.02h-1.02z" fill="#d0ccea"/><path d="M25 5h1.02v1.02h-1.02z" fill="#d0ccea"/><path d="M0 6h1.02v1.02h-1.02z" fill="#d0ccea"/><path d="M1 6h1.02v1.02h-1.02z" fill="#c7c5eb"/><path d="M2 6h1.02v1.02h-1.02z" fill="#c7c5eb"/><path d="M3 6h1.02v1.02h-1.02z" fill="#afc2e5"/><path d="M4 6h1.02v1.02h-1.02z" fill="#bfbeec"/><path d="M5 6h1.02v1.02h-1.02z" fill="#a4bdea"/><path d="M6 6h1.02v1.02h-1.02z" fill="#d0ccea"/><path d="M7 6h1.02v1.02h-1.02z" fill="#9aa5f0"/><path d="M8 6h1.02v1.02h-1.02z" fill="#b6b8ed"/><path d="M9 6h1.02v1.02h-1.02z" fill="#b6b6ec"/><path d="M10 6h1.02v1.02h-1.02z" fill="#a3aef0"/><path d="M11 6h1.02v1.02h-1.02z" fill="#b6b7ed"/><path d="M12 6h1.02v1.02h-1.02z" fill="#adb1ed"/><path d="M13 6h1.02v1.02h-1.02z" fill="#a4abf0"/><path d="M14 6h1.02v1.02h-1.02z" fill="#b5baee"/><path d="M15 6h1.02v1.02h-1.02z" fill="#adb2ef"/><path d="M16 6h1.02v1.02h-1.02z" fill="#acb2ee"/><path d="M17 6h1.02v1.02h-1.02z" fill="#a1aeec"/><path d="M18 6h1.02v1.02h-1.02z" fill="#b4b9ed"/><path d="M19 6h1.02v1.02h-1.02z" fill="#b5b9ed"/><path d="M20 6h1.02v1.02h-1.02z" fill="#bcc2ec"/><path d="M21 6h1.02v1.02h-1.02z" fill="#c7c5eb"/><path d="M22 6h1.02v1.02h-1.02z" fill="#bac4e9"/><path d="M23 6h1.02v1.02h-1.02z" fill="#aeafed"/><path d="M24 6h1.02v1.02h-1.02z" fill="#b6b8ed"/><path d="M25 6h1.02v1.02h-1.02z" fill="#b6b7ed"/><path d="M0 7h1.02v1.02h-1.02z" fill="#d0ccea"/><path d="M1 7h1.02v1.02h-1.02z" fill="#d0ccea"/><path d="M2 7h1.02v1.02h-1.02z" fill="#c7c5eb"/><path d="M3 7h1.02v1.02h-1.02z" fill="#b2bdea"/><path d="M4 7h1.02v1.02h-1.02z" fill="#939cf1"/><path d="M5 7h1.02v1.02h-1.02z" fill="#bec0ec"/><path d="M6 7h1.02v1.02h-1.02z" fill="#9ca1ef"/><path d="M7 7h1.02v1.02h-1.02z" fill="#778af2"/><path d="M8 7h1.02v1.02h-1.02z" fill="#8ca7ef"/><path d="M9 7h1.02v1.02h-1.02z" fill="#9ca1ef"/><path d="M10 7h1.02v1.02h-1.02z" fill="#bfbeec"/><path d="M11 7h1.02v1.02h-1.02z" fill="#9aa5f0"/><path d="M12 7h1.02v1.02h-1.02z" fill="#9ca2ef"/><path d="M13 7h1.02v1.02h-1.02z" fill="#b4baed"/><path d="M14 7h1.02v1.02h-1.02z" fill="#b6b8ed"/><path d="M15 7h1.02v1.02h-1.02z" fill="#8ea2ef"/><path d="M16 7h1.02v1.02h-1.02z" fill="#acb3ef"/><path d="M17 7h1.02v1.02h-1.02z" fill="#aeb0ee"/><path d="M18 7h1.02v1.02h-1.02z" fill="#b6b8ed"/><path d="M19 7h1.02v1.02h-1.02z" fill="#7e94f4"/><path d="M20 7h1.02v1.02h-1.02z" fill="#8fa3ef"/><path d="M21 7h1.02v1.02h-1.02z" fill="#939df1"/><path d="M22 7h1.02v1.02h-1.02z" fill="#a1afef"/><path d="M23 7h1.02v1.02h-1.02z" fill="#8191f4"/><path d="M24 7h1.02v1.02h-1.02z" fill="#9cb6eb"/><path d="M25 7h1.02v1.02h-1.02z" fill="#97a9ed"/><path d="M0 8h1.02v1.02h-1.02z" fill="#bfbdeb"/><path d="M1 8h1.02v1.02h-1.02z" fill="#c7c5eb"/><path d="M2 8h1.02v1.02h-1.02z" fill="#d0ccea"/><path d="M3 8h1.02v1.02h-1.02z" fill="#bbc3ea"/><path d="M4 8h1.02v1.02h-1.02z" fill="#9d9fee"/><path d="M5 8h1.02v1.02h-1.02z" fill="#adb2ee"/><path d="M6 8h1.02v1.02h-1.02z" fill="#b5b8ed"/><path d="M7 8h1.02v1.02h-1.02z" fill="#8fa2ef"/><path d="M8 8h1.02v1.02h-1.02z" fill="#aab6ef"/><path d="M9 8h1.02v1.02h-1.02z" fill="#a0b0ec"/><path d="M10 8h1.02v1.02h-1.02z" fill="#bcc3ec"/><path d="M11 8h1.02v1.02h-1.02z" fill="#b6b8ed"/><path d="M12 8h1.02v1.02h-1.02z" fill="#b3bcec"/><path d="M13 8h1.02v1.02h-1.02z" fill="#9aa6ea"/><path d="M14 8h1.02v1.02h-1.02z" fill="#a3adf0"/><path d="M15 8h1.02v1.02h-1.02z" fill="#818ef2"/><path d="M16 8h1.02v1.02h-1.02z" fill="#bbc3e9"/><path d="M17 8h1.02v1.02h-1.02z" fill="#8b94f1"/><path d="M18 8h1.02v1.02h-1.02z" fill="#bfbfec"/><path d="M19 8h1.02v1.02h-1.02z" fill="#aeafed"/><path d="M20 8h1.02v1.02h-1.02z" fill="#98a9f0"/><path d="M21 8h1.02v1.02h-1.02z" fill="#9ca1ef"/><path d="M22 8h1.02v1.02h-1.02z" fill="#adb1ee"/><path d="M23 8h1.02v1.02h-1.02z" fill="#a2adef"/><path d="M24 8h1.02v1.02h-1.02z" fill="#a5a7ed"/><path d="M25 8h1.02v1.02h-1.02z" fill="#949bf0"/><path d="M0 9h1.02v1.02h-1.02z" fill="#d0ccea"/><path d="M1 9h1.02v1.02h-1.02z" fill="#d0ccea"/><path d="M2 9h1.02v1.02h-1.02z" fill="#b6b6ec"/><path d="M3 9h1.02v1.02h-1.02z" fill="#bdc1eb"/><path d="M4 9h1.02v1.02h-1.02z" fill="#d0ccea"/><path d="M5 9h1.02v1.02h-1.02z" fill="#d0ccea"/><path d="M6 9h1.02v1.02h-1.02z" fill="#b5b9ed"/><path d="M7 9h1.02v1.02h-1.02z" fill="#9ba4f0"/><path d="M8 9h1.02v1.02h-1.02z" fill="#a3adf0"/><path d="M9 9h1.02v1.02h-1.02z" fill="#d0ccea"/><path d="M10 9h1.02v1.02h-1.02z" fill="#b4bbed"/><path d="M11 9h1.02v1.02h-1.02z" fill="#99a6ed"/><path d="M12 9h1.02v1.02h-1.02z" fill="#adb0ed"/><path d="M13 9h1.02v1.02h-1.02z" fill="#d0ccea"/><path d="M14 9h1.02v1.02h-1.02z" fill="#bebfec"/><path d="M15 9h1.02v1.02h-1.02z" fill="#bdc2ec"/><path d="M16 9h1.02v1.02h-1.02z" fill="#d0ccea"/><path d="M17 9h1.02v1.02h-1.02z" fill="#c7c5eb"/><path d="M18 9h1.02v1.02h-1.02z" fill="#bfbeec"/><path d="M19 9h1.02v1.02h-1.02z" fill="#d0ccea"/><path d="M20 9h1.02v1.02h-1.02z" fill="#b5b9ed"/><path d="M21 9h1.02v1.02h-1.02z" fill="#bfbdeb"/><path d="M22 9h1.02v1.02h-1.02z" fill="#c3cae8"/><path d="M23 9h1.02v1.02h-1.02z" fill="#b6b7ed"/><path d="M24 9h1.02v1.02h-1.02z" fill="#c7c5eb"/><path d="M25 9h1.02v1.02h-1.02z" fill="#bcc3ea"/><path d="M0 10h1.02v1.02h-1.02z" fill="#d0ccea"/><path d="M1 10h1.02v1.02h-1.02z" fill="#c7c5eb"/><path d="M2 10h1.02v1.02h-1.02z" fill="#c7c5eb"/><path d="M3 10h1.02v1.02h-1.02z" fill="#c7c5eb"/><path d="M4 10h1.02v1.02h-1.02z" fill="#d0ccea"/><path d="M5 10h1.02v1.02h-1.02z" fill="#bfbfec"/><path d="M6 10h1.02v1.02h-1.02z" fill="#a3adef"/><path d="M7 10h1.02v1.02h-1.02z" fill="#bebfec"/><path d="M8 10h1.02v1.02h-1.02z" fill="#bfbdeb"/><path d="M9 10h1.02v1.02h-1.02z" fill="#b2bce9"/><path d="M10 10h1.02v1.02h-1.02z" fill="#aab3ea"/><path d="M11 10h1.02v1.02h-1.02z" fill="#a1b0ef"/><path d="M12 10h1.02v1.02h-1.02z" fill="#91a1f2"/><path d="M13 10h1.02v1.02h-1.02z" fill="#b6b8ed"/><path d="M14 10h1.02v1.02h-1.02z" fill="#c7c6eb"/><path d="M15 10h1.02v1.02h-1.02z" fill="#c7c5eb"/><path d="M16 10h1.02v1.02h-1.02z" fill="#b6b6ec"/><path d="M17 10h1.02v1.02h-1.02z" fill="#bfbfec"/><path d="M18 10h1.02v1.02h-1.02z" fill="#bec0ec"/><path d="M19 10h1.02v1.02h-1.02z" fill="#bfbeec"/><path d="M20 10h1.02v1.02h-1.02z" fill="#b6b8ed"/><path d="M21 10h1.02v1.02h-1.02z" fill="#d0ccea"/><path d="M22 10h1.02v1.02h-1.02z" fill="#b6b9ee"/><path d="M23 10h1.02v1.02h-1.02z" fill="#bebfec"/><path d="M24 10h1.02v1.02h-1.02z" fill="#b6b8ed"/><path d="M25 10h1.02v1.02h-1.02z" fill="#bfbdeb"/><path d="M0 11h1.02v1.02h-1.02z" fill="#c3cae8"/><path d="M1 11h1.02v1.02h-1.02z" fill="#c7c4eb"/><path d="M2 11h1.02v1.02h-1.02z" fill="#bebfec"/><path d="M3 11h1.02v1.02h-1.02z" fill="#c7c5eb"/><path d="M4 11h1.02v1.02h-1.02z" fill="#d0ccea"/><path d="M5 11h1.02v1.02h-1.02z" fill="#d0ccea"/><path d="M6 11h1.02v1.02h-1.02z" fill="#b4bbee"/><path d="M7 11h1.02v1.02h-1.02z" fill="#9aa5f0"/><path d="M8 11h1.02v1.02h-1.02z" fill="#b6b8ed"/><path d="M9 11h1.02v1.02h-1.02z" fill="#9ca2f0"/><path d="M10 11h1.02v1.02h-1.02z" fill="#9eb1ec"/><path d="M11 11h1.02v1.02h-1.02z" fill="#d0ccea"/><path d="M12 11h1.02v1.02h-1.02z" fill="#a3aef0"/><path d="M13 11h1.02v1.02h-1.02z" fill="#d0ccea"/><path d="M14 11h1.02v1.02h-1.02z" fill="#bfbeec"/><path d="M15 11h1.02v1.02h-1.02z" fill="#b6b7ed"/><path d="M16 11h1.02v1.02h-1.02z" fill="#b3bcec"/><path d="M17 11h1.02v1.02h-1.02z" fill="#b6b7ed"/><path d="M18 11h1.02v1.02h-1.02z" fill="#b5b8ec"/><path d="M19 11h1.02v1.02h-1.02z" fill="#bcc3ec"/><path d="M20 11h1.02v1.02h-1.02z" fill="#b6b7ed"/><path d="M21 11h1.02v1.02h-1.02z" fill="#acb3ee"/><path d="M22 11h1.02v1.02h-1.02z" fill="#b6b8ed"/><path d="M23 11h1.02v1.02h-1.02z" fill="#bfbdec"/><path d="M24 11h1.02v1.02h-1.02z" fill="#b3bceb"/><path d="M25 11h1.02v1.02h-1.02z" fill="#b2bdec"/><path d="M0 12h1.02v1.02h-1.02z" fill="#b6b7ed"/><path d="M1 12h1.02v1.02h-1.02z" fill="#d0ccea"/><path d="M2 12h1.02v1.02h-1.02z" fill="#bfbeec"/><path d="M3 12h1.02v1.02h-1.02z" fill="#bfbeec"/><path d="M4 12h1.02v1.02h-1.02z" fill="#bbc4eb"/><path d="M5 12h1.02v1.02h-1.02z" fill="#d0ccea"/><path d="M6 12h1.02v1.02h-1.02z" fill="#a9b6eb"/><path d="M7 12h1.02v1.02h-1.02z" fill="#98a8ee"/><path d="M8 12h1.02v1.02h-1.02z" fill="#b6b7ed"/><path d="M9 12h1.02v1.02h-1.02z" fill="#abb5ee"/><path d="M10 12h1.02v1.02h-1.02z" fill="#91a0f2"/><path d="M11 12h1.02v1.02h-1.02z" fill="#a5a9ef"/><path d="M12 12h1.02v1.02h-1.02z" fill="#abb2ed"/><path d="M13 12h1.02v1.02h-1.02z" fill="#b6b7ed"/><path d="M14 12h1.02v1.02h-1.02z" fill="#a7baeb"/><path d="M15 12h1.02v1.02h-1.02z" fill="#a4abef"/><path d="M16 12h1.02v1.02h-1.02z" fill="#aeafed"/><path d="M17 12h1.02v1.02h-1.02z" fill="#bebfec"/><path d="M18 12h1.02v1.02h-1.02z" fill="#bfbdec"/><path d="M19 12h1.02v1.02h-1.02z" fill="#b4baed"/><path d="M20 12h1.02v1.02h-1.02z" fill="#adb1ee"/><path d="M21 12h1.02v1.02h-1.02z" fill="#9ba4ef"/><path d="M22 12h1.02v1.02h-1.02z" fill="#b2beec"/><path d="M23 12h1.02v1.02h-1.02z" fill="#bfbeec"/><path d="M24 12h1.02v1.02h-1.02z" fill="#b3bbec"/><path d="M25 12h1.02v1.02h-1.02z" fill="#c7c5eb"/><path d="M0 13h1.02v1.02h-1.02z" fill="#d0ccea"/><path d="M1 13h1.02v1.02h-1.02z" fill="#d0ccea"/><path d="M2 13h1.02v1.02h-1.02z" fill="#d0ccea"/><path d="M3 13h1.02v1.02h-1.02z" fill="#d0ccea"/><path d="M4 13h1.02v1.02h-1.02z" fill="#d0ccea"/><path d="M5 13h1.02v1.02h-1.02z" fill="#c7c5eb"/><path d="M6 13h1.02v1.02h-1.02z" fill="#a5a9ef"/><path d="M7 13h1.02v1.02h-1.02z" fill="#b6b5eb"/><path d="M8 13h1.02v1.02h-1.02z" fill="#95abea"/><path d="M9 13h1.02v1.02h-1.02z" fill="#d0ccea"/><path d="M10 13h1.02v1.02h-1.02z" fill="#b4baed"/><path d="M11 13h1.02v1.02h-1.02z" fill="#d0ccea"/><path d="M12 13h1.02v1.02h-1.02z" fill="#b5b8ed"/><path d="M13 13h1.02v1.02h-1.02z" fill="#8a90ee"/><path d="M14 13h1.02v1.02h-1.02z" fill="#8288ee"/><path d="M15 13h1.02v1.02h-1.02z" fill="#8383ea"/><path d="M16 13h1.02v1.02h-1.02z" fill="#7a7dee"/><path d="M17 13h1.02v1.02h-1.02z" fill="#a5a4eb"/><path d="M18 13h1.02v1.02h-1.02z" fill="#6d7eed"/><path d="M19 13h1.02v1.02h-1.02z" fill="#7a7dec"/><path d="M20 13h1.02v1.02h-1.02z" fill="#8287ec"/><path d="M21 13h1.02v1.02h-1.02z" fill="#696ff0"/><path d="M22 13h1.02v1.02h-1.02z" fill="#7686ed"/><path d="M23 13h1.02v1.02h-1.02z" fill="#7276ee"/><path d="M24 13h1.02v1.02h-1.02z" fill="#7276ee"/><path d="M25 13h1.02v1.02h-1.02z" fill="#8794eb"/><path d="M0 14h1.02v1.02h-1.02z" fill="#d0ccea"/><path d="M1 14h1.02v1.02h-1.02z" fill="#c7c6eb"/><path d="M2 14h1.02v1.02h-1.02z" fill="#d0ccea"/><path d="M3 14h1.02v1.02h-1.02z" fill="#c7c5eb"/><path d="M4 14h1.02v1.02h-1.02z" fill="#c4c9e9"/><path d="M5 14h1.02v1.02h-1.02z" fill="#d0ccea"/><path d="M6 14h1.02v1.02h-1.02z" fill="#b4b9eb"/><path d="M7 14h1.02v1.02h-1.02z" fill="#b2bcea"/><path d="M8 14h1.02v1.02h-1.02z" fill="#a3acef"/><path d="M9 14h1.02v1.02h-1.02z" fill="#bfbeec"/><path d="M10 14h1.02v1.02h-1.02z" fill="#c6c8eb"/><path d="M11 14h1.02v1.02h-1.02z" fill="#bfbeec"/><path d="M12 14h1.02v1.02h-1.02z" fill="#aeb0ee"/><path d="M13 14h1.02v1.02h-1.02z" fill="#8282e8"/><path d="M14 14h1.02v1.02h-1.02z" fill="#777fe9"/><path d="M15 14h1.02v1.02h-1.02z" fill="#7271e9"/><path d="M16 14h1.02v1.02h-1.02z" fill="#7176ed"/><path d="M17 14h1.02v1.02h-1.02z" fill="#8b8eed"/><path d="M18 14h1.02v1.02h-1.02z" fill="#9496ed"/><path d="M19 14h1.02v1.02h-1.02z" fill="#8383ec"/><path d="M20 14h1.02v1.02h-1.02z" fill="#7275ed"/><path d="M21 14h1.02v1.02h-1.02z" fill="#a5a1e8"/><path d="M22 14h1.02v1.02h-1.02z" fill="#7a7eef"/><path d="M23 14h1.02v1.02h-1.02z" fill="#585eee"/><path d="M24 14h1.02v1.02h-1.02z" fill="#8b8deb"/><path d="M25 14h1.02v1.02h-1.02z" fill="#8385ed"/><path d="M0 15h1.02v1.02h-1.02z" fill="#d0ccea"/><path d="M1 15h1.02v1.02h-1.02z" fill="#c7c5eb"/><path d="M2 15h1.02v1.02h-1.02z" fill="#d0ccea"/><path d="M3 15h1.02v1.02h-1.02z" fill="#c7c5eb"/><path d="M4 15h1.02v1.02h-1.02z" fill="#bfbdeb"/><path d="M5 15h1.02v1.02h-1.02z" fill="#c7c4ea"/><path d="M6 15h1.02v1.02h-1.02z" fill="#aab4eb"/><path d="M7 15h1.02v1.02h-1.02z" fill="#91a1f2"/><path d="M8 15h1.02v1.02h-1.02z" fill="#7b97f1"/><path d="M9 15h1.02v1.02h-1.02z" fill="#bfbdeb"/><path d="M10 15h1.02v1.02h-1.02z" fill="#c7c5eb"/><path d="M11 15h1.02v1.02h-1.02z" fill="#b6b5ec"/><path d="M12 15h1.02v1.02h-1.02z" fill="#a3adef"/><path d="M13 15h1.02v1.02h-1.02z" fill="#7b8be4"/><path d="M14 15h1.02v1.02h-1.02z" fill="#707aef"/><path d="M15 15h1.02v1.02h-1.02z" fill="#8c8cec"/><path d="M16 15h1.02v1.02h-1.02z" fill="#8188ed"/><path d="M17 15h1.02v1.02h-1.02z" fill="#948fe7"/><path d="M18 15h1.02v1.02h-1.02z" fill="#7585eb"/><path d="M19 15h1.02v1.02h-1.02z" fill="#8389f0"/><path d="M20 15h1.02v1.02h-1.02z" fill="#7273eb"/><path d="M21 15h1.02v1.02h-1.02z" fill="#a5a3eb"/><path d="M22 15h1.02v1.02h-1.02z" fill="#7a7fee"/><path d="M23 15h1.02v1.02h-1.02z" fill="#5858e9"/><path d="M24 15h1.02v1.02h-1.02z" fill="#7a7deb"/><path d="M25 15h1.02v1.02h-1.02z" fill="#7682ea"/><path d="M0 16h1.02v1.02h-1.02z" fill="#c7c4ea"/><path d="M1 16h1.02v1.02h-1.02z" fill="#d0ccea"/><path d="M2 16h1.02v1.02h-1.02z" fill="#d0ccea"/><path d="M3 16h1.02v1.02h-1.02z" fill="#c7c5eb"/><path d="M4 16h1.02v1.02h-1.02z" fill="#c7c5eb"/><path d="M5 16h1.02v1.02h-1.02z" fill="#c7c7eb"/><path d="M6 16h1.02v1.02h-1.02z" fill="#adb2ee"/><path d="M7 16h1.02v1.02h-1.02z" fill="#acb4ef"/><path d="M8 16h1.02v1.02h-1.02z" fill="#bcc3ea"/><path d="M9 16h1.02v1.02h-1.02z" fill="#d0ccea"/><path d="M10 16h1.02v1.02h-1.02z" fill="#b6b8ed"/><path d="M11 16h1.02v1.02h-1.02z" fill="#b4baec"/><path d="M12 16h1.02v1.02h-1.02z" fill="#a9b5eb"/><path d="M13 16h1.02v1.02h-1.02z" fill="#7b7ff0"/><path d="M14 16h1.02v1.02h-1.02z" fill="#7276ee"/><path d="M15 16h1.02v1.02h-1.02z" fill="#8187ec"/><path d="M16 16h1.02v1.02h-1.02z" fill="#aeabea"/><path d="M17 16h1.02v1.02h-1.02z" fill="#8388ef"/><path d="M18 16h1.02v1.02h-1.02z" fill="#8b8beb"/><path d="M19 16h1.02v1.02h-1.02z" fill="#8284eb"/><path d="M20 16h1.02v1.02h-1.02z" fill="#8387ee"/><path d="M21 16h1.02v1.02h-1.02z" fill="#9399ef"/><path d="M22 16h1.02v1.02h-1.02z" fill="#6873f1"/><path d="M23 16h1.02v1.02h-1.02z" fill="#9497ed"/><path d="M24 16h1.02v1.02h-1.02z" fill="#7981ee"/><path d="M25 16h1.02v1.02h-1.02z" fill="#5f65ec"/><path d="M0 17h1.02v1.02h-1.02z" fill="#d0ccea"/><path d="M1 17h1.02v1.02h-1.02z" fill="#c7c5eb"/><path d="M2 17h1.02v1.02h-1.02z" fill="#c6c7eb"/><path d="M3 17h1.02v1.02h-1.02z" fill="#c4cae9"/><path d="M4 17h1.02v1.02h-1.02z" fill="#c3cae8"/><path d="M5 17h1.02v1.02h-1.02z" fill="#d0ccea"/><path d="M6 17h1.02v1.02h-1.02z" fill="#a4abf0"/><path d="M7 17h1.02v1.02h-1.02z" fill="#aab6ee"/><path d="M8 17h1.02v1.02h-1.02z" fill="#869cee"/><path d="M9 17h1.02v1.02h-1.02z" fill="#c7c5eb"/><path d="M10 17h1.02v1.02h-1.02z" fill="#bfbdeb"/><path d="M11 17h1.02v1.02h-1.02z" fill="#b6b5ec"/><path d="M12 17h1.02v1.02h-1.02z" fill="#bfbeec"/><path d="M13 17h1.02v1.02h-1.02z" fill="#a4a7ec"/><path d="M14 17h1.02v1.02h-1.02z" fill="#8b90ee"/><path d="M15 17h1.02v1.02h-1.02z" fill="#9395eb"/><path d="M16 17h1.02v1.02h-1.02z" fill="#818aee"/><path d="M17 17h1.02v1.02h-1.02z" fill="#aeabea"/><path d="M18 17h1.02v1.02h-1.02z" fill="#a5a3ea"/><path d="M19 17h1.02v1.02h-1.02z" fill="#9c9ae9"/><path d="M20 17h1.02v1.02h-1.02z" fill="#8382ea"/><path d="M21 17h1.02v1.02h-1.02z" fill="#8a8fec"/><path d="M22 17h1.02v1.02h-1.02z" fill="#7d8dea"/><path d="M23 17h1.02v1.02h-1.02z" fill="#6e80f0"/><path d="M24 17h1.02v1.02h-1.02z" fill="#9493eb"/><path d="M25 17h1.02v1.02h-1.02z" fill="#8895e9"/><path d="M0 18h1.02v1.02h-1.02z" fill="#c5c8eb"/><path d="M1 18h1.02v1.02h-1.02z" fill="#c7c5eb"/><path d="M2 18h1.02v1.02h-1.02z" fill="#c7c4eb"/><path d="M3 18h1.02v1.02h-1.02z" fill="#d0ccea"/><path d="M4 18h1.02v1.02h-1.02z" fill="#c7c5eb"/><path d="M5 18h1.02v1.02h-1.02z" fill="#d0ccea"/><path d="M6 18h1.02v1.02h-1.02z" fill="#b5b9ed"/><path d="M7 18h1.02v1.02h-1.02z" fill="#b6b6ec"/><path d="M8 18h1.02v1.02h-1.02z" fill="#bebfec"/><path d="M9 18h1.02v1.02h-1.02z" fill="#bbc3ea"/><path d="M10 18h1.02v1.02h-1.02z" fill="#bfbfec"/><path d="M11 18h1.02v1.02h-1.02z" fill="#b4bbed"/><path d="M12 18h1.02v1.02h-1.02z" fill="#bdc1ec"/><path d="M13 18h1.02v1.02h-1.02z" fill="#7276ee"/><path d="M14 18h1.02v1.02h-1.02z" fill="#9495ec"/><path d="M15 18h1.02v1.02h-1.02z" fill="#7681e9"/><path d="M16 18h1.02v1.02h-1.02z" fill="#8a8fec"/><path d="M17 18h1.02v1.02h-1.02z" fill="#a5a3eb"/><path d="M18 18h1.02v1.02h-1.02z" fill="#9ca1ee"/><path d="M19 18h1.02v1.02h-1.02z" fill="#7a7aeb"/><path d="M20 18h1.02v1.02h-1.02z" fill="#7e8eec"/><path d="M21 18h1.02v1.02h-1.02z" fill="#696beb"/><path d="M22 18h1.02v1.02h-1.02z" fill="#5760ef"/><path d="M23 18h1.02v1.02h-1.02z" fill="#a4a8ec"/><path d="M24 18h1.02v1.02h-1.02z" fill="#6574eb"/><path d="M25 18h1.02v1.02h-1.02z" fill="#8b92f0"/><path d="M0 19h1.02v1.02h-1.02z" fill="#bfbdeb"/><path d="M1 19h1.02v1.02h-1.02z" fill="#d0ccea"/><path d="M2 19h1.02v1.02h-1.02z" fill="#c7c5eb"/><path d="M3 19h1.02v1.02h-1.02z" fill="#c7c5eb"/><path d="M4 19h1.02v1.02h-1.02z" fill="#c7c4ea"/><path d="M5 19h1.02v1.02h-1.02z" fill="#adb0ee"/><path d="M6 19h1.02v1.02h-1.02z" fill="#b5b9ed"/><path d="M7 19h1.02v1.02h-1.02z" fill="#808ff2"/><path d="M8 19h1.02v1.02h-1.02z" fill="#aab5ee"/><path d="M9 19h1.02v1.02h-1.02z" fill="#d0ccea"/><path d="M10 19h1.02v1.02h-1.02z" fill="#bebfec"/><path d="M11 19h1.02v1.02h-1.02z" fill="#bfbeec"/><path d="M12 19h1.02v1.02h-1.02z" fill="#b5baee"/><path d="M13 19h1.02v1.02h-1.02z" fill="#7a7ded"/><path d="M14 19h1.02v1.02h-1.02z" fill="#8287ee"/><path d="M15 19h1.02v1.02h-1.02z" fill="#8285ed"/><path d="M16 19h1.02v1.02h-1.02z" fill="#7e8bea"/><path d="M17 19h1.02v1.02h-1.02z" fill="#9d9dec"/><path d="M18 19h1.02v1.02h-1.02z" fill="#7a7aea"/><path d="M19 19h1.02v1.02h-1.02z" fill="#adafed"/><path d="M20 19h1.02v1.02h-1.02z" fill="#6d79e9"/><path d="M21 19h1.02v1.02h-1.02z" fill="#8b8dec"/><path d="M22 19h1.02v1.02h-1.02z" fill="#7276ef"/><path d="M23 19h1.02v1.02h-1.02z" fill="#9393e8"/><path d="M24 19h1.02v1.02h-1.02z" fill="#9396ec"/><path d="M25 19h1.02v1.02h-1.02z" fill="#9399ee"/><path d="M0 20h1.02v1.02h-1.02z" fill="#c7c5eb"/><path d="M1 20h1.02v1.02h-1.02z" fill="#d0ccea"/><path d="M2 20h1.02v1.02h-1.02z" fill="#d0ccea"/><path d="M3 20h1.02v1.02h-1.02z" fill="#d0ccea"/><path d="M4 20h1.02v1.02h-1.02z" fill="#bbc3ec"/><path d="M5 20h1.02v1.02h-1.02z" fill="#d0ccea"/><path d="M6 20h1.02v1.02h-1.02z" fill="#bec0ec"/><path d="M7 20h1.02v1.02h-1.02z" fill="#919ff0"/><path d="M8 20h1.02v1.02h-1.02z" fill="#99a8f1"/><path d="M9 20h1.02v1.02h-1.02z" fill="#b4baec"/><path d="M10 20h1.02v1.02h-1.02z" fill="#b5b9ed"/><path d="M11 20h1.02v1.02h-1.02z" fill="#b2bdeb"/><path d="M12 20h1.02v1.02h-1.02z" fill="#acb3ee"/><path d="M13 20h1.02v1.02h-1.02z" fill="#8388ef"/><path d="M14 20h1.02v1.02h-1.02z" fill="#7177ee"/><path d="M15 20h1.02v1.02h-1.02z" fill="#7177ee"/><path d="M16 20h1.02v1.02h-1.02z" fill="#7f88e6"/><path d="M17 20h1.02v1.02h-1.02z" fill="#8383eb"/><path d="M18 20h1.02v1.02h-1.02z" fill="#8281e7"/><path d="M19 20h1.02v1.02h-1.02z" fill="#7178ee"/><path d="M20 20h1.02v1.02h-1.02z" fill="#9b9fec"/><path d="M21 20h1.02v1.02h-1.02z" fill="#828af0"/><path d="M22 20h1.02v1.02h-1.02z" fill="#797fed"/><path d="M23 20h1.02v1.02h-1.02z" fill="#8b90ef"/><path d="M24 20h1.02v1.02h-1.02z" fill="#8384ec"/><path d="M25 20h1.02v1.02h-1.02z" fill="#5260e4"/><path d="M0 21h1.02v1.02h-1.02z" fill="#c7c7eb"/><path d="M1 21h1.02v1.02h-1.02z" fill="#bfbfec"/><path d="M2 21h1.02v1.02h-1.02z" fill="#c7c5eb"/><path d="M3 21h1.02v1.02h-1.02z" fill="#c7c5eb"/><path d="M4 21h1.02v1.02h-1.02z" fill="#c7c7eb"/><path d="M5 21h1.02v1.02h-1.02z" fill="#c6c8eb"/><path d="M6 21h1.02v1.02h-1.02z" fill="#c7c6eb"/><path d="M7 21h1.02v1.02h-1.02z" fill="#90a0f0"/><path d="M8 21h1.02v1.02h-1.02z" fill="#9ca3f0"/><path d="M9 21h1.02v1.02h-1.02z" fill="#bfbeec"/><path d="M10 21h1.02v1.02h-1.02z" fill="#d0ccea"/><path d="M11 21h1.02v1.02h-1.02z" fill="#acb2ee"/><path d="M12 21h1.02v1.02h-1.02z" fill="#9aa7f1"/><path d="M13 21h1.02v1.02h-1.02z" fill="#6774f1"/><path d="M14 21h1.02v1.02h-1.02z" fill="#a4a5eb"/><path d="M15 21h1.02v1.02h-1.02z" fill="#a5a4eb"/><path d="M16 21h1.02v1.02h-1.02z" fill="#9494ec"/><path d="M17 21h1.02v1.02h-1.02z" fill="#8b87e7"/><path d="M18 21h1.02v1.02h-1.02z" fill="#6969ea"/><path d="M19 21h1.02v1.02h-1.02z" fill="#8b8eed"/><path d="M20 21h1.02v1.02h-1.02z" fill="#8383eb"/><path d="M21 21h1.02v1.02h-1.02z" fill="#7882ee"/><path d="M22 21h1.02v1.02h-1.02z" fill="#8c8beb"/><path d="M23 21h1.02v1.02h-1.02z" fill="#7a7cec"/><path d="M24 21h1.02v1.02h-1.02z" fill="#7589ea"/><path d="M25 21h1.02v1.02h-1.02z" fill="#7173ea"/><path d="M0 22h1.02v1.02h-1.02z" fill="#d0ccea"/><path d="M1 22h1.02v1.02h-1.02z" fill="#d0ccea"/><path d="M2 22h1.02v1.02h-1.02z" fill="#c7c5eb"/><path d="M3 22h1.02v1.02h-1.02z" fill="#b4bbed"/><path d="M4 22h1.02v1.02h-1.02z" fill="#d0ccea"/><path d="M5 22h1.02v1.02h-1.02z" fill="#d0ccea"/><path d="M6 22h1.02v1.02h-1.02z" fill="#bebfec"/><path d="M7 22h1.02v1.02h-1.02z" fill="#a3acef"/><path d="M8 22h1.02v1.02h-1.02z" fill="#adb1ee"/><path d="M9 22h1.02v1.02h-1.02z" fill="#c7c4ea"/><path d="M10 22h1.02v1.02h-1.02z" fill="#b4bbed"/><path d="M11 22h1.02v1.02h-1.02z" fill="#b6b7ed"/><path d="M12 22h1.02v1.02h-1.02z" fill="#b5baee"/><path d="M13 22h1.02v1.02h-1.02z" fill="#7a7eed"/><path d="M14 22h1.02v1.02h-1.02z" fill="#7785eb"/><path d="M15 22h1.02v1.02h-1.02z" fill="#7a81f0"/><path d="M16 22h1.02v1.02h-1.02z" fill="#6969eb"/><path d="M17 22h1.02v1.02h-1.02z" fill="#8383eb"/><path d="M18 22h1.02v1.02h-1.02z" fill="#585eee"/><path d="M19 22h1.02v1.02h-1.02z" fill="#707bf0"/><path d="M20 22h1.02v1.02h-1.02z" fill="#797dec"/><path d="M21 22h1.02v1.02h-1.02z" fill="#8c8fef"/><path d="M22 22h1.02v1.02h-1.02z" fill="#7782eb"/><path d="M23 22h1.02v1.02h-1.02z" fill="#7a7ded"/><path d="M24 22h1.02v1.02h-1.02z" fill="#6770ed"/><path d="M25 22h1.02v1.02h-1.02z" fill="#6a6bec"/><path d="M0 23h1.02v1.02h-1.02z" fill="#c7c6eb"/><path d="M1 23h1.02v1.02h-1.02z" fill="#c7c4eb"/><path d="M2 23h1.02v1.02h-1.02z" fill="#d0ccea"/><path d="M3 23h1.02v1.02h-1.02z" fill="#c7c4eb"/><path d="M4 23h1.02v1.02h-1.02z" fill="#d0ccea"/><path d="M5 23h1.02v1.02h-1.02z" fill="#d0ccea"/><path d="M6 23h1.02v1.02h-1.02z" fill="#acb3ee"/><path d="M7 23h1.02v1.02h-1.02z" fill="#7c97f0"/><path d="M8 23h1.02v1.02h-1.02z" fill="#a2aeef"/><path d="M9 23h1.02v1.02h-1.02z" fill="#b6b8ed"/><path d="M10 23h1.02v1.02h-1.02z" fill="#bebfec"/><path d="M11 23h1.02v1.02h-1.02z" fill="#bebfec"/><path d="M12 23h1.02v1.02h-1.02z" fill="#bebfec"/><path d="M13 23h1.02v1.02h-1.02z" fill="#7275ed"/><path d="M14 23h1.02v1.02h-1.02z" fill="#5661ee"/><path d="M15 23h1.02v1.02h-1.02z" fill="#5860f0"/><path d="M16 23h1.02v1.02h-1.02z" fill="#9492ea"/><path d="M17 23h1.02v1.02h-1.02z" fill="#6e7ded"/><path d="M18 23h1.02v1.02h-1.02z" fill="#a5a2ea"/><path d="M19 23h1.02v1.02h-1.02z" fill="#9496ed"/><path d="M20 23h1.02v1.02h-1.02z" fill="#8790e7"/><path d="M21 23h1.02v1.02h-1.02z" fill="#7681e9"/><path d="M22 23h1.02v1.02h-1.02z" fill="#7387e7"/><path d="M23 23h1.02v1.02h-1.02z" fill="#8a93f0"/><path d="M24 23h1.02v1.02h-1.02z" fill="#8598ec"/><path d="M25 23h1.02v1.02h-1.02z" fill="#7c8ee8"/><path d="M0 24h1.02v1.02h-1.02z" fill="#d0ccea"/><path d="M1 24h1.02v1.02h-1.02z" fill="#bfbdeb"/><path d="M2 24h1.02v1.02h-1.02z" fill="#d0ccea"/><path d="M3 24h1.02v1.02h-1.02z" fill="#c7c6eb"/><path d="M4 24h1.02v1.02h-1.02z" fill="#c7c6eb"/><path d="M5 24h1.02v1.02h-1.02z" fill="#d0ccea"/><path d="M6 24h1.02v1.02h-1.02z" fill="#b2bcea"/><path d="M7 24h1.02v1.02h-1.02z" fill="#a3adef"/><path d="M8 24h1.02v1.02h-1.02z" fill="#a1aeea"/><path d="M9 24h1.02v1.02h-1.02z" fill="#c7c5eb"/><path d="M10 24h1.02v1.02h-1.02z" fill="#b6b8ed"/><path d="M11 24h1.02v1.02h-1.02z" fill="#b6b8ed"/><path d="M12 24h1.02v1.02h-1.02z" fill="#b6b5ec"/><path d="M13 24h1.02v1.02h-1.02z" fill="#6f78ed"/><path d="M14 24h1.02v1.02h-1.02z" fill="#8b8cec"/><path d="M15 24h1.02v1.02h-1.02z" fill="#7a7fef"/><path d="M16 24h1.02v1.02h-1.02z" fill="#7783ef"/><path d="M17 24h1.02v1.02h-1.02z" fill="#9299ec"/><path d="M18 24h1.02v1.02h-1.02z" fill="#696ded"/><path d="M19 24h1.02v1.02h-1.02z" fill="#9495ec"/><path d="M20 24h1.02v1.02h-1.02z" fill="#7f8ae9"/><path d="M21 24h1.02v1.02h-1.02z" fill="#797dec"/><path d="M22 24h1.02v1.02h-1.02z" fill="#696eed"/><path d="M23 24h1.02v1.02h-1.02z" fill="#8990ec"/><path d="M24 24h1.02v1.02h-1.02z" fill="#8a8fec"/><path d="M25 24h1.02v1.02h-1.02z" fill="#7b8de5"/><path d="M0 25h1.02v1.02h-1.02z" fill="#d0ccea"/><path d="M1 25h1.02v1.02h-1.02z" fill="#d0ccea"/><path d="M2 25h1.02v1.02h-1.02z" fill="#d0ccea"/><path d="M3 25h1.02v1.02h-1.02z" fill="#bebfec"/><path d="M4 25h1.02v1.02h-1.02z" fill="#d0ccea"/><path d="M5 25h1.02v1.02h-1.02z" fill="#d0ccea"/><path d="M6 25h1.02v1.02h-1.02z" fill="#b5b9ed"/><path d="M7 25h1.02v1.02h-1.02z" fill="#99a9f1"/><path d="M8 25h1.02v1.02h-1.02z" fill="#929ff1"/><path d="M9 25h1.02v1.02h-1.02z" fill="#bebfec"/><path d="M10 25h1.02v1.02h-1.02z" fill="#bfbfec"/><path d="M11 25h1.02v1.02h-1.02z" fill="#b4bbed"/><path d="M12 25h1.02v1.02h-1.02z" fill="#c7c4eb"/><path d="M13 25h1.02v1.02h-1.02z" fill="#8c89e9"/><path d="M14 25h1.02v1.02h-1.02z" fill="#8189ee"/><path d="M15 25h1.02v1.02h-1.02z" fill="#7a7ced"/><path d="M16 25h1.02v1.02h-1.02z" fill="#5c6ded"/><path d="M17 25h1.02v1.02h-1.02z" fill="#8b8eed"/><path d="M18 25h1.02v1.02h-1.02z" fill="#8a8fed"/><path d="M19 25h1.02v1.02h-1.02z" fill="#9496ed"/><path d="M20 25h1.02v1.02h-1.02z" fill="#575dee"/><path d="M21 25h1.02v1.02h-1.02z" fill="#6e7de9"/><path d="M22 25h1.02v1.02h-1.02z" fill="#6575ec"/><path d="M23 25h1.02v1.02h-1.02z" fill="#7d8be8"/><path d="M24 25h1.02v1.02h-1.02z" fill="#8188ed"/><path d="M25 25h1.02v1.02h-1.02z" fill="#7b7ced"/></g></svg>
<canvas id="h0" width="1040" height="1040" style="position:absolute;left:61.30px;top:6.40px;width:454.30px;height:454.10px;z-index:1"></canvas>
<canvas id="h1" width="1040" height="1040" style="position:absolute;left:676.50px;top:6.40px;width:454.30px;height:454.10px;z-index:1"></canvas>
<canvas id="h2" width="1040" height="1040" style="position:absolute;left:61.30px;top:586.80px;width:454.30px;height:454.10px;z-index:1"></canvas>
<canvas id="h3" width="1040" height="1040" style="position:absolute;left:676.50px;top:586.80px;width:454.30px;height:454.10px;z-index:1"></canvas>
<svg width="1200" height="1131" viewBox="0 0 1200 1131" style="position:absolute;left:0;top:0;z-index:2">
<defs><linearGradient id="cb" x1="0" y1="1" x2="0" y2="0"><stop offset="0.0000" stop-color="#3e26a8"/><stop offset="0.0156" stop-color="#402ab3"/><stop offset="0.0312" stop-color="#422ebf"/><stop offset="0.0469" stop-color="#4332c9"/><stop offset="0.0625" stop-color="#4537d3"/><stop offset="0.0781" stop-color="#463bdc"/><stop offset="0.0938" stop-color="#4740e3"/><stop offset="0.1094" stop-color="#4746e9"/><stop offset="0.1250" stop-color="#484bef"/><stop offset="0.1406" stop-color="#4750f2"/><stop offset="0.1562" stop-color="#4756f6"/><stop offset="0.1719" stop-color="#465bf9"/><stop offset="0.1875" stop-color="#4561fb"/><stop offset="0.2031" stop-color="#4366fd"/><stop offset="0.2188" stop-color="#3f6cfe"/><stop offset="0.2344" stop-color="#3b72fe"/><stop offset="0.2500" stop-color="#3678fd"/><stop offset="0.2656" stop-color="#307ffc"/><stop offset="0.2812" stop-color="#2b85fa"/><stop offset="0.2969" stop-color="#278af6"/><stop offset="0.3125" stop-color="#238ff2"/><stop offset="0.3281" stop-color="#2093ed"/><stop offset="0.3438" stop-color="#1d97e8"/><stop offset="0.3594" stop-color="#1a9be3"/><stop offset="0.3750" stop-color="#169fdf"/><stop offset="0.3906" stop-color="#12a2da"/><stop offset="0.4062" stop-color="#0ea6d6"/><stop offset="0.4219" stop-color="#0aa9d1"/><stop offset="0.4375" stop-color="#06accd"/><stop offset="0.4531" stop-color="#05aec8"/><stop offset="0.4688" stop-color="#05b1c3"/><stop offset="0.4844" stop-color="#07b3be"/><stop offset="0.5000" stop-color="#0fb5b8"/><stop offset="0.5156" stop-color="#17b7b2"/><stop offset="0.5312" stop-color="#1fb9ac"/><stop offset="0.5469" stop-color="#27bba6"/><stop offset="0.5625" stop-color="#2fbd9f"/><stop offset="0.5781" stop-color="#38c195"/><stop offset="0.5938" stop-color="#41c48b"/><stop offset="0.6094" stop-color="#4ec77f"/><stop offset="0.6250" stop-color="#5ec872"/><stop offset="0.6406" stop-color="#6ec966"/><stop offset="0.6562" stop-color="#7bc95c"/><stop offset="0.6719" stop-color="#88c852"/><stop offset="0.6875" stop-color="#95c749"/><stop offset="0.7031" stop-color="#a2c641"/><stop offset="0.7188" stop-color="#afc439"/><stop offset="0.7344" stop-color="#bac334"/><stop offset="0.7500" stop-color="#c5c12f"/><stop offset="0.7656" stop-color="#cfbf2b"/><stop offset="0.7812" stop-color="#d8be2b"/><stop offset="0.7969" stop-color="#e1bd2b"/><stop offset="0.8125" stop-color="#e9bd2e"/><stop offset="0.8281" stop-color="#f0bd31"/><stop offset="0.8438" stop-color="#f6bd33"/><stop offset="0.8594" stop-color="#f9bf34"/><stop offset="0.8750" stop-color="#fdc135"/><stop offset="0.8906" stop-color="#fdc534"/><stop offset="0.9062" stop-color="#fdca31"/><stop offset="0.9219" stop-color="#fcd02d"/><stop offset="0.9375" stop-color="#fad728"/><stop offset="0.9531" stop-color="#f8df23"/><stop offset="0.9688" stop-color="#f8e81e"/><stop offset="0.9844" stop-color="#f8f219"/><stop offset="1.0000" stop-color="#f9fb15"/></linearGradient></defs>

<rect x="61.30" y="6.40" width="454.30" height="454.10" fill="none" stroke="#262626" stroke-width="1.2"/>
<path d="M61.30 47.88h4.6M515.60 47.88h-4.6" stroke="#262626" stroke-width="1.1"/>
<text x="54.10" y="54.88" text-anchor="end" class="tk">10</text>
<path d="M61.30 91.54h4.6M515.60 91.54h-4.6" stroke="#262626" stroke-width="1.1"/>
<text x="54.10" y="98.54" text-anchor="end" class="tk">20</text>
<path d="M61.30 135.21h4.6M515.60 135.21h-4.6" stroke="#262626" stroke-width="1.1"/>
<text x="54.10" y="142.21" text-anchor="end" class="tk">30</text>
<path d="M61.30 178.87h4.6M515.60 178.87h-4.6" stroke="#262626" stroke-width="1.1"/>
<text x="54.10" y="185.87" text-anchor="end" class="tk">40</text>
<path d="M61.30 222.53h4.6M515.60 222.53h-4.6" stroke="#262626" stroke-width="1.1"/>
<text x="54.10" y="229.53" text-anchor="end" class="tk">50</text>
<path d="M61.30 266.20h4.6M515.60 266.20h-4.6" stroke="#262626" stroke-width="1.1"/>
<text x="54.10" y="273.20" text-anchor="end" class="tk">60</text>
<path d="M61.30 309.86h4.6M515.60 309.86h-4.6" stroke="#262626" stroke-width="1.1"/>
<text x="54.10" y="316.86" text-anchor="end" class="tk">70</text>
<path d="M61.30 353.52h4.6M515.60 353.52h-4.6" stroke="#262626" stroke-width="1.1"/>
<text x="54.10" y="360.52" text-anchor="end" class="tk">80</text>
<path d="M61.30 397.19h4.6M515.60 397.19h-4.6" stroke="#262626" stroke-width="1.1"/>
<text x="54.10" y="404.19" text-anchor="end" class="tk">90</text>
<path d="M61.30 440.85h4.6M515.60 440.85h-4.6" stroke="#262626" stroke-width="1.1"/>
<text x="54.10" y="447.85" text-anchor="end" class="tk">100</text>
<path d="M146.48 460.50v-4.6M146.48 6.40v4.6" stroke="#262626" stroke-width="1.1"/>
<text x="146.48" y="485.60" text-anchor="middle" class="tk">20</text>
<path d="M233.85 460.50v-4.6M233.85 6.40v4.6" stroke="#262626" stroke-width="1.1"/>
<text x="233.85" y="485.60" text-anchor="middle" class="tk">40</text>
<path d="M321.21 460.50v-4.6M321.21 6.40v4.6" stroke="#262626" stroke-width="1.1"/>
<text x="321.21" y="485.60" text-anchor="middle" class="tk">60</text>
<path d="M408.58 460.50v-4.6M408.58 6.40v4.6" stroke="#262626" stroke-width="1.1"/>
<text x="408.58" y="485.60" text-anchor="middle" class="tk">80</text>
<path d="M495.94 460.50v-4.6M495.94 6.40v4.6" stroke="#262626" stroke-width="1.1"/>
<text x="495.94" y="485.60" text-anchor="middle" class="tk">100</text>
<text x="288.45" y="512.30" text-anchor="middle" class="lb">window</text>
<text transform="translate(14.10,233.45) rotate(-90)" text-anchor="middle" class="lb">window</text>
<rect x="529.20" y="6.40" width="28.80" height="454.10" fill="url(#cb)" stroke="#262626" stroke-width="1.2"/>
<text x="565.20" y="467.60" class="tkc">0</text>
<path d="M558.00 415.09h-4.6" stroke="#262626" stroke-width="1.1"/>
<text x="565.20" y="422.19" class="tkc">0.1</text>
<path d="M558.00 369.68h-4.6" stroke="#262626" stroke-width="1.1"/>
<text x="565.20" y="376.78" class="tkc">0.2</text>
<path d="M558.00 324.27h-4.6" stroke="#262626" stroke-width="1.1"/>
<text x="565.20" y="331.37" class="tkc">0.3</text>
<path d="M558.00 278.86h-4.6" stroke="#262626" stroke-width="1.1"/>
<text x="565.20" y="285.96" class="tkc">0.4</text>
<path d="M558.00 233.45h-4.6" stroke="#262626" stroke-width="1.1"/>
<text x="565.20" y="240.55" class="tkc">0.5</text>
<path d="M558.00 188.04h-4.6" stroke="#262626" stroke-width="1.1"/>
<text x="565.20" y="195.14" class="tkc">0.6</text>
<path d="M558.00 142.63h-4.6" stroke="#262626" stroke-width="1.1"/>
<text x="565.20" y="149.73" class="tkc">0.7</text>
<path d="M558.00 97.22h-4.6" stroke="#262626" stroke-width="1.1"/>
<text x="565.20" y="104.32" class="tkc">0.8</text>
<path d="M558.00 51.81h-4.6" stroke="#262626" stroke-width="1.1"/>
<text x="565.20" y="58.91" class="tkc">0.9</text>
<text x="565.20" y="13.50" class="tkc">1</text>
<text x="290.00" y="545.80" text-anchor="middle" class="cap"><tspan class="cb">(a)</tspan> USD networks, 99 nodes</text>

<rect x="676.50" y="6.40" width="454.30" height="454.10" fill="none" stroke="#262626" stroke-width="1.2"/>
<path d="M676.50 47.88h4.6M1130.80 47.88h-4.6" stroke="#262626" stroke-width="1.1"/>
<text x="669.30" y="54.88" text-anchor="end" class="tk">10</text>
<path d="M676.50 91.54h4.6M1130.80 91.54h-4.6" stroke="#262626" stroke-width="1.1"/>
<text x="669.30" y="98.54" text-anchor="end" class="tk">20</text>
<path d="M676.50 135.21h4.6M1130.80 135.21h-4.6" stroke="#262626" stroke-width="1.1"/>
<text x="669.30" y="142.21" text-anchor="end" class="tk">30</text>
<path d="M676.50 178.87h4.6M1130.80 178.87h-4.6" stroke="#262626" stroke-width="1.1"/>
<text x="669.30" y="185.87" text-anchor="end" class="tk">40</text>
<path d="M676.50 222.53h4.6M1130.80 222.53h-4.6" stroke="#262626" stroke-width="1.1"/>
<text x="669.30" y="229.53" text-anchor="end" class="tk">50</text>
<path d="M676.50 266.20h4.6M1130.80 266.20h-4.6" stroke="#262626" stroke-width="1.1"/>
<text x="669.30" y="273.20" text-anchor="end" class="tk">60</text>
<path d="M676.50 309.86h4.6M1130.80 309.86h-4.6" stroke="#262626" stroke-width="1.1"/>
<text x="669.30" y="316.86" text-anchor="end" class="tk">70</text>
<path d="M676.50 353.52h4.6M1130.80 353.52h-4.6" stroke="#262626" stroke-width="1.1"/>
<text x="669.30" y="360.52" text-anchor="end" class="tk">80</text>
<path d="M676.50 397.19h4.6M1130.80 397.19h-4.6" stroke="#262626" stroke-width="1.1"/>
<text x="669.30" y="404.19" text-anchor="end" class="tk">90</text>
<path d="M676.50 440.85h4.6M1130.80 440.85h-4.6" stroke="#262626" stroke-width="1.1"/>
<text x="669.30" y="447.85" text-anchor="end" class="tk">100</text>
<path d="M761.68 460.50v-4.6M761.68 6.40v4.6" stroke="#262626" stroke-width="1.1"/>
<text x="761.68" y="485.60" text-anchor="middle" class="tk">20</text>
<path d="M849.05 460.50v-4.6M849.05 6.40v4.6" stroke="#262626" stroke-width="1.1"/>
<text x="849.05" y="485.60" text-anchor="middle" class="tk">40</text>
<path d="M936.41 460.50v-4.6M936.41 6.40v4.6" stroke="#262626" stroke-width="1.1"/>
<text x="936.41" y="485.60" text-anchor="middle" class="tk">60</text>
<path d="M1023.78 460.50v-4.6M1023.78 6.40v4.6" stroke="#262626" stroke-width="1.1"/>
<text x="1023.78" y="485.60" text-anchor="middle" class="tk">80</text>
<path d="M1111.14 460.50v-4.6M1111.14 6.40v4.6" stroke="#262626" stroke-width="1.1"/>
<text x="1111.14" y="485.60" text-anchor="middle" class="tk">100</text>
<text x="903.65" y="512.30" text-anchor="middle" class="lb">window</text>
<text transform="translate(629.30,233.45) rotate(-90)" text-anchor="middle" class="lb">window</text>
<rect x="1144.40" y="6.40" width="28.80" height="454.10" fill="url(#cb)" stroke="#262626" stroke-width="1.2"/>
<text x="1180.40" y="467.60" class="tkc">0</text>
<path d="M1173.20 415.09h-4.6" stroke="#262626" stroke-width="1.1"/>
<text x="1180.40" y="422.19" class="tkc">0.1</text>
<path d="M1173.20 369.68h-4.6" stroke="#262626" stroke-width="1.1"/>
<text x="1180.40" y="376.78" class="tkc">0.2</text>
<path d="M1173.20 324.27h-4.6" stroke="#262626" stroke-width="1.1"/>
<text x="1180.40" y="331.37" class="tkc">0.3</text>
<path d="M1173.20 278.86h-4.6" stroke="#262626" stroke-width="1.1"/>
<text x="1180.40" y="285.96" class="tkc">0.4</text>
<path d="M1173.20 233.45h-4.6" stroke="#262626" stroke-width="1.1"/>
<text x="1180.40" y="240.55" class="tkc">0.5</text>
<path d="M1173.20 188.04h-4.6" stroke="#262626" stroke-width="1.1"/>
<text x="1180.40" y="195.14" class="tkc">0.6</text>
<path d="M1173.20 142.63h-4.6" stroke="#262626" stroke-width="1.1"/>
<text x="1180.40" y="149.73" class="tkc">0.7</text>
<path d="M1173.20 97.22h-4.6" stroke="#262626" stroke-width="1.1"/>
<text x="1180.40" y="104.32" class="tkc">0.8</text>
<path d="M1173.20 51.81h-4.6" stroke="#262626" stroke-width="1.1"/>
<text x="1180.40" y="58.91" class="tkc">0.9</text>
<text x="1180.40" y="13.50" class="tkc">1</text>
<text x="905.20" y="545.80" text-anchor="middle" class="cap"><tspan class="cb">(b)</tspan> EUR networks, 96 nodes</text>

<rect x="61.30" y="586.80" width="454.30" height="454.10" fill="none" stroke="#262626" stroke-width="1.2"/>
<path d="M61.30 628.28h4.6M515.60 628.28h-4.6" stroke="#262626" stroke-width="1.1"/>
<text x="54.10" y="635.28" text-anchor="end" class="tk">10</text>
<path d="M61.30 671.94h4.6M515.60 671.94h-4.6" stroke="#262626" stroke-width="1.1"/>
<text x="54.10" y="678.94" text-anchor="end" class="tk">20</text>
<path d="M61.30 715.61h4.6M515.60 715.61h-4.6" stroke="#262626" stroke-width="1.1"/>
<text x="54.10" y="722.61" text-anchor="end" class="tk">30</text>
<path d="M61.30 759.27h4.6M515.60 759.27h-4.6" stroke="#262626" stroke-width="1.1"/>
<text x="54.10" y="766.27" text-anchor="end" class="tk">40</text>
<path d="M61.30 802.93h4.6M515.60 802.93h-4.6" stroke="#262626" stroke-width="1.1"/>
<text x="54.10" y="809.93" text-anchor="end" class="tk">50</text>
<path d="M61.30 846.60h4.6M515.60 846.60h-4.6" stroke="#262626" stroke-width="1.1"/>
<text x="54.10" y="853.60" text-anchor="end" class="tk">60</text>
<path d="M61.30 890.26h4.6M515.60 890.26h-4.6" stroke="#262626" stroke-width="1.1"/>
<text x="54.10" y="897.26" text-anchor="end" class="tk">70</text>
<path d="M61.30 933.92h4.6M515.60 933.92h-4.6" stroke="#262626" stroke-width="1.1"/>
<text x="54.10" y="940.92" text-anchor="end" class="tk">80</text>
<path d="M61.30 977.59h4.6M515.60 977.59h-4.6" stroke="#262626" stroke-width="1.1"/>
<text x="54.10" y="984.59" text-anchor="end" class="tk">90</text>
<path d="M61.30 1021.25h4.6M515.60 1021.25h-4.6" stroke="#262626" stroke-width="1.1"/>
<text x="54.10" y="1028.25" text-anchor="end" class="tk">100</text>
<path d="M146.48 1040.90v-4.6M146.48 586.80v4.6" stroke="#262626" stroke-width="1.1"/>
<text x="146.48" y="1066.00" text-anchor="middle" class="tk">20</text>
<path d="M233.85 1040.90v-4.6M233.85 586.80v4.6" stroke="#262626" stroke-width="1.1"/>
<text x="233.85" y="1066.00" text-anchor="middle" class="tk">40</text>
<path d="M321.21 1040.90v-4.6M321.21 586.80v4.6" stroke="#262626" stroke-width="1.1"/>
<text x="321.21" y="1066.00" text-anchor="middle" class="tk">60</text>
<path d="M408.58 1040.90v-4.6M408.58 586.80v4.6" stroke="#262626" stroke-width="1.1"/>
<text x="408.58" y="1066.00" text-anchor="middle" class="tk">80</text>
<path d="M495.94 1040.90v-4.6M495.94 586.80v4.6" stroke="#262626" stroke-width="1.1"/>
<text x="495.94" y="1066.00" text-anchor="middle" class="tk">100</text>
<text x="288.45" y="1092.70" text-anchor="middle" class="lb">window</text>
<text transform="translate(14.10,813.85) rotate(-90)" text-anchor="middle" class="lb">window</text>
<rect x="529.20" y="586.80" width="28.80" height="454.10" fill="url(#cb)" stroke="#262626" stroke-width="1.2"/>
<text x="565.20" y="1048.00" class="tkc">0</text>
<path d="M558.00 995.49h-4.6" stroke="#262626" stroke-width="1.1"/>
<text x="565.20" y="1002.59" class="tkc">0.1</text>
<path d="M558.00 950.08h-4.6" stroke="#262626" stroke-width="1.1"/>
<text x="565.20" y="957.18" class="tkc">0.2</text>
<path d="M558.00 904.67h-4.6" stroke="#262626" stroke-width="1.1"/>
<text x="565.20" y="911.77" class="tkc">0.3</text>
<path d="M558.00 859.26h-4.6" stroke="#262626" stroke-width="1.1"/>
<text x="565.20" y="866.36" class="tkc">0.4</text>
<path d="M558.00 813.85h-4.6" stroke="#262626" stroke-width="1.1"/>
<text x="565.20" y="820.95" class="tkc">0.5</text>
<path d="M558.00 768.44h-4.6" stroke="#262626" stroke-width="1.1"/>
<text x="565.20" y="775.54" class="tkc">0.6</text>
<path d="M558.00 723.03h-4.6" stroke="#262626" stroke-width="1.1"/>
<text x="565.20" y="730.13" class="tkc">0.7</text>
<path d="M558.00 677.62h-4.6" stroke="#262626" stroke-width="1.1"/>
<text x="565.20" y="684.72" class="tkc">0.8</text>
<path d="M558.00 632.21h-4.6" stroke="#262626" stroke-width="1.1"/>
<text x="565.20" y="639.31" class="tkc">0.9</text>
<text x="565.20" y="593.90" class="tkc">1</text>
<text x="290.00" y="1126.20" text-anchor="middle" class="cap"><tspan class="cb">(c)</tspan> XBT networks, 68 nodes</text>

<rect x="676.50" y="586.80" width="454.30" height="454.10" fill="none" stroke="#262626" stroke-width="1.2"/>
<path d="M676.50 628.28h4.6M1130.80 628.28h-4.6" stroke="#262626" stroke-width="1.1"/>
<text x="669.30" y="635.28" text-anchor="end" class="tk">10</text>
<path d="M676.50 671.94h4.6M1130.80 671.94h-4.6" stroke="#262626" stroke-width="1.1"/>
<text x="669.30" y="678.94" text-anchor="end" class="tk">20</text>
<path d="M676.50 715.61h4.6M1130.80 715.61h-4.6" stroke="#262626" stroke-width="1.1"/>
<text x="669.30" y="722.61" text-anchor="end" class="tk">30</text>
<path d="M676.50 759.27h4.6M1130.80 759.27h-4.6" stroke="#262626" stroke-width="1.1"/>
<text x="669.30" y="766.27" text-anchor="end" class="tk">40</text>
<path d="M676.50 802.93h4.6M1130.80 802.93h-4.6" stroke="#262626" stroke-width="1.1"/>
<text x="669.30" y="809.93" text-anchor="end" class="tk">50</text>
<path d="M676.50 846.60h4.6M1130.80 846.60h-4.6" stroke="#262626" stroke-width="1.1"/>
<text x="669.30" y="853.60" text-anchor="end" class="tk">60</text>
<path d="M676.50 890.26h4.6M1130.80 890.26h-4.6" stroke="#262626" stroke-width="1.1"/>
<text x="669.30" y="897.26" text-anchor="end" class="tk">70</text>
<path d="M676.50 933.92h4.6M1130.80 933.92h-4.6" stroke="#262626" stroke-width="1.1"/>
<text x="669.30" y="940.92" text-anchor="end" class="tk">80</text>
<path d="M676.50 977.59h4.6M1130.80 977.59h-4.6" stroke="#262626" stroke-width="1.1"/>
<text x="669.30" y="984.59" text-anchor="end" class="tk">90</text>
<path d="M676.50 1021.25h4.6M1130.80 1021.25h-4.6" stroke="#262626" stroke-width="1.1"/>
<text x="669.30" y="1028.25" text-anchor="end" class="tk">100</text>
<path d="M761.68 1040.90v-4.6M761.68 586.80v4.6" stroke="#262626" stroke-width="1.1"/>
<text x="761.68" y="1066.00" text-anchor="middle" class="tk">20</text>
<path d="M849.05 1040.90v-4.6M849.05 586.80v4.6" stroke="#262626" stroke-width="1.1"/>
<text x="849.05" y="1066.00" text-anchor="middle" class="tk">40</text>
<path d="M936.41 1040.90v-4.6M936.41 586.80v4.6" stroke="#262626" stroke-width="1.1"/>
<text x="936.41" y="1066.00" text-anchor="middle" class="tk">60</text>
<path d="M1023.78 1040.90v-4.6M1023.78 586.80v4.6" stroke="#262626" stroke-width="1.1"/>
<text x="1023.78" y="1066.00" text-anchor="middle" class="tk">80</text>
<path d="M1111.14 1040.90v-4.6M1111.14 586.80v4.6" stroke="#262626" stroke-width="1.1"/>
<text x="1111.14" y="1066.00" text-anchor="middle" class="tk">100</text>
<text x="903.65" y="1092.70" text-anchor="middle" class="lb">window</text>
<text transform="translate(629.30,813.85) rotate(-90)" text-anchor="middle" class="lb">window</text>
<rect x="1144.40" y="586.80" width="28.80" height="454.10" fill="url(#cb)" stroke="#262626" stroke-width="1.2"/>
<text x="1180.40" y="1048.00" class="tkc">0</text>
<path d="M1173.20 995.49h-4.6" stroke="#262626" stroke-width="1.1"/>
<text x="1180.40" y="1002.59" class="tkc">0.1</text>
<path d="M1173.20 950.08h-4.6" stroke="#262626" stroke-width="1.1"/>
<text x="1180.40" y="957.18" class="tkc">0.2</text>
<path d="M1173.20 904.67h-4.6" stroke="#262626" stroke-width="1.1"/>
<text x="1180.40" y="911.77" class="tkc">0.3</text>
<path d="M1173.20 859.26h-4.6" stroke="#262626" stroke-width="1.1"/>
<text x="1180.40" y="866.36" class="tkc">0.4</text>
<path d="M1173.20 813.85h-4.6" stroke="#262626" stroke-width="1.1"/>
<text x="1180.40" y="820.95" class="tkc">0.5</text>
<path d="M1173.20 768.44h-4.6" stroke="#262626" stroke-width="1.1"/>
<text x="1180.40" y="775.54" class="tkc">0.6</text>
<path d="M1173.20 723.03h-4.6" stroke="#262626" stroke-width="1.1"/>
<text x="1180.40" y="730.13" class="tkc">0.7</text>
<path d="M1173.20 677.62h-4.6" stroke="#262626" stroke-width="1.1"/>
<text x="1180.40" y="684.72" class="tkc">0.8</text>
<path d="M1173.20 632.21h-4.6" stroke="#262626" stroke-width="1.1"/>
<text x="1180.40" y="639.31" class="tkc">0.9</text>
<text x="1180.40" y="593.90" class="tkc">1</text>
<text x="905.20" y="1126.20" text-anchor="middle" class="cap"><tspan class="cb">(d)</tspan> ETH networks, 44 nodes</text>
</svg>
<script>
(function(){
var P=["#3f28ae","#412cb9","#4230c4","#4434ce","#4539d8","#463de0","#4743e6","#4848ec","#484ef1","#4753f4","#4759f8","#465efa","#4464fc","#4169fd","#3d6ffe","#3975fe","#337cfd","#2e82fb","#2987f8","#258cf4","#2191f0","#1e95eb","#1b99e6","#189de1","#14a1dc","#10a4d8","#0ca7d3","#08aacf","#05adca","#05afc5","#05b2c0","#0bb4bb","#13b6b5","#1bb8af","#23baa9","#2bbca3","#34bf9a","#3dc290","#46c686","#56c779","#66c96c","#75c961","#82c957","#8fc84d","#9bc745","#a8c53d","#b5c436","#c0c231","#cac02c","#d4be2b","#ddbd2b","#e5bd2c","#ecbd2f","#f3bd32","#f7be34","#fbc035","#fec335","#fdc832","#fdcd2f","#fbd32b","#f9db26","#f7e421","#f8ed1c","#f9f617"];
var A="0123456789ABCDEFGHIJKLMNOPQRSTUVWXYZabcdefghijklmnopqrstuvwxyz+/";
var NC=[208,204,234]; var NCH="#d0ccea";
var D=[".xvs/zjphkahghkomiQmqjpmmalomamdlojggekddeYehghTXZWFaYYUYWVUEYUabbYJNUNMLZacZWbaZYXXVWVaMXWTWV6RXUYWIXWax.omwsficgRabecficKfodfhjVeigVfYgddaXbdXbZRaZaZMPSOBTTNRROQO8TUVVWTBKNDIDSWYTTVbVQTWQQNVGPQLSR0PSTTNBQORvo.qxrhjdhWdgdefheLlkglhlTiifXfajefZebfbbaUcdbbSTWUATVOPSOUR9UVZTeXCPSHHLTUWTVbWQTWaUURUGVTNPQ0PRSWTDSTZsmq.vwjladRceedggjQjlekimZgjeVfbikdbZcgWcZWdgadQTWPCSVQRSRWL8WTWWZWDPQHLGSTWWUbaUTVTTRRTFSOSOT0TTOST8QQV/wxv./pqjmdjmknpmlRnqjllramqqangroighgieghblljjZYaXEaZXWXUZXBaYaehbHUVPPNZadcZedZXcZXcUYLaSUWW5UYUYSJWYXzsrw/.lochYdjhgijnVmnjljoYjjlbhelfgfgfjcfdXdgfeSWVUHXXVQSSXRAWWZVZXCOQFNLUUbWadYVYacXXWYJYYQWW3VTVYVHWXVjfhjpl.shlgloonpqsanmfkfpXlllZldlhjcgbmdbebjkidXgefMffYcbZbaHicggcbNXdOSQZbhfcdhddfgbfXgQZZXZd8aaccaOYebpijlqos.nofmrpprwrcmslmnudppmekhpojggimhifZjkhhTieeKeibecadcIjdiinjNWaSTSfffhgljgghigfefTdaaeeAdhbgbPZfdhcdajchn.nbhpmkjmhVklgiglXhinUhbihegcggXaYXdccfQadYJaeZWXZYUDYcbabaFPVJPMZZZbbcgZUaaXXTYNZZSXZ3WWVXUIVWUkghdmhlon.elrqlpsqZnpmlnnVmmoWkenjflebldeeddhggUiheOcgbYaZcWCdbhelcPSWSPRhdgbbedeafgfcYeRccabc6XbZedNYaYaRWRdYgfbe.ehfceigPcdZabgSdgbPcVbXXXUUcUVSOVaWYJUYSCXYSVUUZSCaWXacZGPQLMNcZaaXfaYVbbVVUWMXWRWT5TTTUUDUXUhadcjdlmhle.smnkqoVlpjklnZdjgUhdkgbgidlZcccghfgTabaGVVTWVTWN9YWZacYHPTJIMXXbYXbdWTZYYWXXNTSRTT5SUUYUFTTUgbgemjorprhs.qrtuuZqqpplpbnikdnenigkgcmgifcfoliSdgbLabXZXYcTCacdagXLTXMNRbcYcagdcabaWWUWOcYWZa4aZYYYGYXYhedekhopmqfmq.qtrvcjpkmnrafimXhcifgjehnccfZhgkkTbdeFbVWWeVVV8ZXZYdWIQUHNPYaeZaaaXWbaXSVaLUXTWT0UXYbWJXSWkcedngnpklcnrq.vrqYprnmjoahmiZlfllgfkeihggaihmkXcbZIccaVWZZXHYbdYbcHOTLNMYZaZbhcaUdZZYVbNXUSVU1WWWaUKWZaoffgpiprjpekttv.zvbqtpootelonYlhokerolpjijellliYficMdYYXYYdWGdaeehdKWaMUQadhfYhfbbeecYWYRdZYWV6VYagYOWZbmihgmjqwmsiqurrz.wgsxmprybmpkenilkinigmfolenqqiVfeeOabcbecbWJbafdfcMUaTPRdbffbfdfZeebaZbOdcWZb8cWWccMWZdicejlnsrhqgouvqvw.cruorpsckjlcmdojjkijnhgibkmohYgeXMXgXdXVdWEdabcfaLSUPQQbbbbagdcWbeZdaaOYYXXW7dXXcYKXYZQKLQRVacVZPVZcYbgc.ZdXXZeLVXVLYQYRPTRRSPQQGWRQSDMLH3OKIGEIIB0NGMNOL19C469LLNKJNNIIKMNKGK9LHBCH0FKFKF6ELImfljnmnmknclqjpqsrZ.qjmjpZjliZidjoghhilcfkdlgkjYbYZKcYVVWYXUEWaYYeaIRULMQccdXXgfXUXcXXSYMXVRVV2SUXXVIWWYqoklqnmslpdpqprtxudq.lqoqZnnqeogskjkkillkhdlinjWccYKZdaVZZaWDeabcgfKUXLQPdedfahgaZZdZbZaMbWVcb6TVadWLYbVjdgejjflgmZjpknpmoXjl.khiWbggTeblgbeeckaefbddfeQVXUCVYUQQSUT9WUZbaXGKPFKISUXXVaYTTZZWTTSIVSQRS3SRRZRGSVYpflkllkmilakpmmoprXmqk.jrakmhZjhmlgihglhfgXihhjTfXWFWYXVYVZSCZYdbdaCRZIONZaYaYdcaWcaYTZYKYVQVW4UVVXVIWXYmhhiljfngnbllnjorpZjohj.pZiljZhckhcfefhdjfZfhkhWYbVGTXXUWVVU7YVbWaaCPSLQOYYYaXdaWXbbUTUXNUTSTS0VQSaUGUVSmjlmropulngnprotysepqirp.fmrkfpepqlkgjrinidommmdaicJcbbWaZaVEaZcffdLVVOPMcbededeeYedbYXaIbXXYX6YXVZXKUaYaVTZaYXdXVSZbaaebcLZZWaZf.XbYObSaXRWWUWRVTKUZVWKNMK6NMIGNJOI0ONQOPR5HHA99NONNORPLJPOINHMAKMEJK0IJGOG5LLLleigmjlphmddnfhlmkVjnbkimX.klckenjfiiikdgebkihgWggcIZZXZVVaYCbYebdYKScHONWddabedaWcXcbXXJXXTTX3XXVaUIcYYoiijqjlpimgjiimopjXlngmlrbk.nbpgmljiikqihfcjklgXihaMdXaWZXgVHdXdehdKTXOSRadgdYhdaZecdZYaPaYWXb7VcYaZLZaamgfeqllmnobgkminklViqghjkYln.YkdpjjihikeiebihjgUeacKZaXZSZWXEZXheabKSXMMOaedaYfdaZcaaYaZPZXRUT6VYVbWJUWaaVXVabZeUWPUdXZYecLZeTZZfOcbY.eUdYTZWYaTUUQVZaVNUTR6SNLPIMPK5SMUSON9IM8FDPRSRRUTRLOPPMJPDNOIKL0LPLQK7LQNmfffnhlkhkchnhllnmYioejhpbkpke.jrmhkmgngjjbknjlYbeYHecaaaadcFeaeghdNXaQURececejgcfgdcbdeUccZZcCYXYedNaaddYabgedhbeVdecfhidQdgbhceSegdUj.lhdchggbfaWhggcRXbTCZWYVUWZVHbWbZdaIQSMPHZUcZWceYWacbUXXJXXPUV5XWYYVJRUZlgjirllpinbkniloloYjslmkpanmpdrl.ooqnmqdmlhmjnnbfeZKdggcYabaIhdgileOZcUYTgjfhdligZjihhbfUddZeeAbebheRcbeodekofhohjXgiflkkjRokglhqXjljYmho.jmkipijfYjdkjWcfbJefdcWcdXFfddkegNUaMQRfcifZkhcedebaecOabWba5dadbZOZdcjdfdigjjefXbgggeijPgjbgclRfjjThdoj.gginehfXgkfeTZWVGbZacYXYXFbXbZfgIRXROMbaebegbZZdZbYYZQaYVZW7XUWZSJaYYgaZbgfcgglXgkjfrnkThkeifkWiiiZkcqmg.rkpotlfqoombikgRaXZXWZcWDbadajeKUYMPOdZcbahcZXcbdaaZMdaZSZ5WZYYZHaZWgXeZhgggceUigekoiiRhkehegWiihWmhnkgr.sqjnngmkqkdmifQaXXVYUZWDacgdgaITVPQPcfZbYecYabgZZXbNeaUbY4ZZZcaJXZWebbcgfbigbUdchelgjRiicgfjUikiYggmiiks.unqninommXijgQccWTeXeVFZWcbcZJRVOPPbbcaXdgYbbaWWXaPbZXTX5WXWeXFUZXkdfgijmmglclmnipmnSllklhrWkqkangqpnpqu.suslqswqanomVjfccdafbJicifhgOUdQVVehhfiiidbidgbXdTgaZZb7ifcedNddcdXbWecdhXdUZgchjfhPclahdiRdieTgbdieojns.lkgkponWgiaNbYWXYXWUBXXbadbGOUKONVXYXXadXVYaVYUbMUYRWY6UZWXTHWVXdbbcgfbiaeVcicgiogQfkefjnVghiUjfmjhtnqul.lgotqlbkfhPbcVXWVbTHaYfcebKWVNQOcYbaZfeXXeeaZZXMZWUWZ7TWYYWHWXYeZaZhdefYeScffgjliQkhfgfiTefeUjalfflnnskl.inpplcigdKaZVYVYYUEaYcYebIRXMPQXbZaadbZYeaXXVWNWUVVX1UVVZSJSYUYRUWbXbZXdOccZaeebGddbXZdKbcbQbWhYXfgilggi.imlfUabWGVOTRRNQPCTPWXWX9MSHMFRUaURYWVTWWRPOUFSRNSP0QRRUOHPTSeacdldjjddVgfhilnkWlldifoUkjiVkhmjgqmnqkoni.sqwejiiSdeYaYWaWEeZdbidLXWNNUbajdhihaXgecWZaLbXUWZ5YaXcYLXaZhZdglgkkchahoghlqmRgidhhmZikhZngjdkokosptpms.ttckmlRcddbcYbYKedfcfeJUZLQPggffbhfcYgZaaZaQcbTXa6YZaZbMVaZgabajfihcgWflkmlqoQknfhkmVhljajgnkfoqmwoqplqt.qkmmjVcaccdYdZIdfhcjeJTYNTScedgajgdbdhedabQXaZWZAYYYdaIbfYhZbdjedhfgYgikkiihSjjejhmWgggVlcnjemkmqnllfwtq.akjdSddaXZYXWHeXfffbITXLQQcfdcbffZXceaWYbRbaUXX7YaaXUIZcbTMSQZSXTQUJTSTXYVYDYWQTWdKWXUNYRbWTbdXaWbcUecka.YWTGWUUSTURR8ZTUWXXEPMKGIXXVWScXVPVYVSSWFUTRPR2RROURFQSRXPTTYWgiaiUadbcffgMbcVfYaNgieUbXfcZimingkiajkmkY.onZgjefedcXLgdfjjeRUbSVTfdnkdhkfcihYddgSfbZYe8fYbfcPZeaZSWWaVeedhYbgdbieeLYcXXbiMghaTebefWkijoifgbimmjWo.nXiedbebfaKgfndkgNWdSTTchhggjfedhjecceOfeafe8aeZffNcfeWOUPXUfeYeSabeZceXHZYUWVcKcacRYTZbVgfgmahdWiljdTnn.VigabcXbaHgcffjfJXUPSVfagbcihccjdbcYgQaaYdX8abVaYMXcXFBACEHMKJOCGLFIMOM3KKCFGJ6IMK6HCKJGRQQVNPKGSRVSGZXV.daZXYXcWEdYgcfcLQVOLPbddbcgdaWfdZVVXMXYTVY4UXVZVNVcWaTTSaXfeacXVabcdaXOcZVWTcNZdZSeZdebaacjbbaVdccdWgiid.poppjoiRllrkrpUclacdkjkjhmlkikkhkdjYghjkkCifdogUgghYTVVZXfiegYVbVcYbgKYdYYXbMZXaNcWgfZXXcfYcZOedadUjegap.pnnkplShmnponThjabdgmmkilojejlffijVkhefgEhjfieWhhiYNOQXVYbZbSTXWaYcXIVaUXXbIXaXLaYgdaZXWcWVVTYdcaUedaZop.klkkiSiionkkQbgYcajdlghkjgcjghaXfSgfageCccfhgQdheURPRWQceWYVWZWVXbdGVVQVUWGZWZPaVcccXVTcXXYRabcXSfbbXpnk.lkmlQkkmoomPbeYeeffihikiidgkefbiUhdaheBdedifRcegYRSSXSbcXaUVXeWYeXEWZQYWaNVZSIaUYWYWYedYWVRYcdZTeecYpnll.mllOnjllniSeeXacjkhigiideigficgWjjffgEedfegPeheWOORUSZaZZUTYVZYcVIYZSVVZJVXZMaWacXZUXaXVYNWYYYUdbXXjkkkm.oeTkelklnTdiZcagiigelqjcigdbdfRgcZdeEbechfNcacVQUWZXbdYcZWcVZdbdIXaUZVaOagWPdZbdYcZefWbYQabdXRcfbcopkmlo.lSljpnqnUdiadglijlipmjlljjfikXkgeeiEhcffgTeghUORLXRacUWSNTVXWWWBUWTSUVIYVXKcVaXXWWVbUTUPWYZWRXaaWilillel.OhikhmiRZdSYVfhghbhhedfiddWYRgcYccCadefXOYcaE898BAHIDCC9C8HGJE0ED9C7E0CHE5FHIFFDDFJBHECEKIH8LKHERSSQOTSO.RPWRUP7LLFILOOSNNQQMMNPPJKN7LMJIL0KLJKM7IINYTUWaWijYdaYaZYdbdNWeWZYaObdZSebhfbbaZiXaaTeedeZgggdlhiknklhR.npqrrXdkdegjqonmrmlklngkhkZnkgjjDijgleSdddUUVTYWcdcbWWcXbaaaGaaUYVZNYXXMaWddXacWcXYYPZdfXTdfcYlmikjejiPn.qosoWdhceckgkohmoihojkiihXliddgHceilhSeedaVZWaZgibhXZdZdefbMYbZdbcQedhUebgdbdgcibfcWdfhfUfnfgrnomllpkWpq.stqZinjhipkoopvrmnplmlipYpllkkHjilnmTghibVTWeVgiaeaaaYYedcNYcbbWfObeeSgZikZadbfacYXbccfWjdfckpnolknhRqos.vpZhjdeenlnlpotjnmkmminbjkijjKfifigVfhfbWeZhZcnblccgdbhffOegadafPdhaOhdlefjgchdeeWifjfXjkjfrokonlqmUrstv.wbjndjhprsrotusiponnnmcoqnnmPjnlmlXjklYTXWbXbjacZYXWcdcaLafXaadRYdbNdaeggeaZgbbbXdeebXegfcpnkminniProqpw.YgnfhdmornoomnmnkkjknYjliimKjjfkjThjkJBCDHCNNFPGHLIHKML1IKGCCL5KKK9NIONIKIJOGKI9LJJIERNJLUTQPSTUR7XWZZbY.QUMPMUUVUTYYTSUXSVMWHUUPPP2PPSRMEMOONKPPUOXWPSPPTQOWUS9RUKRPVHSTSIXQZURUTRUOWRMXUTTPUWXQchbbeddZLddihjgQ.lghdeeidclgaahgbZYbTghbbcAbddgcMZdcUNSQVQdaVWQTXUTaaUCUXPZSVHcXXMaScaXYVVdUVXSWZYXMbdUVljgeeiidLkhnjnnUl.hmoiljhhomkggheeeeYjgdghFfieibNehdNDHHPFOSJSLJMHLMTP4LLFILOAHOM8QMUMRMPOQKNMHNLNLKSSPOaaYYXZaSFdcjddfMgh.hdeeffZffZYdbXZXdMecbXdAZYZaZLaYXMIHLPNSTPPMINNNUPQ6MQKOQP9OSMFUPYQOPQPVOQPMNQTQGVTSLcbceacdYIeehejhPhmh.jifdifjifbfdadZgMihZghBZZdffObbcLDLGNLQSMRNMRPMQRQ9QPINOM9NRODRHTRMOPPVNOQFUPSQITTVPddaecagVLgciehdMdodj.dgiegkjedihhaXeRfdXegBafadcMaWZZSTSZUZfZhcXbYYadbLcdSZYcNWaaPeZgfbdcbeVcXRbgccXfcfbkgjfjglfOjkpnpmUeieid.rqusstpkosmkorcpmimmLghhmkVgiiaWUTaUbfZdZXcaZdbbLceUaYbOddeRcUjcaZfbhXYbUagefXdhadjmdfkiihOqgklroUelefgr.vtsrtsrsqornrcqonmoNkjekhSdgecYWWdbhfZgabYeahfbNddXYYeNdgdSecfiecZchYbZajfddVnhgdkmlihijgSokonsrVijfdiqv.snvxportsmoqgqrllrLlmkolUiljZTTWcWfhbbaYcZZffbKXfXaadNadaRcZhfbbbafXaaUdfgcWkgbbjkghiglhNnoolrnUdhfieuts.qtwnprtpokrfnljpnLkmgmeRehjWTVUZacgbbXXaabYbaJXaVYXeObYYReWdZeaYXiXZaRhbabSdgcchihigeibNmhppooTchZfgssnq.ttootqpllqapnionKhjilfUhjgbVbbeddlcefbgahhfgNghadddRehfUjclkghediafdYihjfchjigmlkkilphQrmvotoYlofjksrvtt.ztruvuqtuevqlrrOqqkroYhljabWadYhjgdaddacfddNfgYcaePdddTgeihbccgidebWhfgfXkfhdlojiiqmhQmortumYgmfijttxwtz.wtwuvuntfutnnpNnlhomXjkkZVQUZVdgZeYWcXabfcIXaTaWeLaaaRcYgcZZYYdXXZVacdZVfecakjgidjjeMlimjsnTakZfepspnotw.sssqlnqbqljjkJflimiXeeiYQTTXYdgUaVTaWUbZWIUZTWXYJWZZLfWZeZXabbVXYTXYbXPcdcWiecdecldMkhnnimSagYbdkroports.lppljnaklimhLjghlgSeedXTWVcafhafbZbbdeebKXZZcbePcecOgajddcbbiYeeWggdcVihjfkjjgiilfNlopmpnUhgdfiosrrtuwsl.yppoqdppnqmMhjlljVgjhXWaTZcgiagbYaaZeeeMcdZabdOXcaPdcieZbgadaeaWeZheYhjddklgkggjiPnjlkokXghbdhsqttqvuspy.pqpsfprkonLljkmiVhghVQUTXXbgXfVYWXZcbZNXZWYUbIcdaPcbhbbdZWgVaXRcaeaVYebZhfhefdjdPgkmmnkSbeXahmosppuvqppp.qloenllmkKefjjgTchkWQURcXffXcVWWSYYadKXbTTTYNbZYMbUhaYaZWbYZXPWadWSdccVkfafibfdJkilmnjVZeZdakrmolqullpqq.nnakmkmmHfiijgTcdfVNRRUWXeTYUXUVVWZaGSZTZUXHXYaJdXbeYaXXXUZVOZZaYSdcYVdiXbcdiWKhiiinkMYeXZXonokltnnjopln.nbkohjgGdefhcOadcaVUTYYgfYeWXWabYbaKYaSYXaMXaZPeXfcZZbadbXWUaabbWgegXjjfigfkYNkhpnmnWbedgerrqrqutqnqsonn.ZrrkpnJdiejiVecdMGGFLJQTNRMNOLNROO9MMIKNIAJPPDUJUOQMNPTMMNFLQQRFSOQMYVSUWRXR7ZXYbcYHTYMMRccgfaefbadfeabZ.adZabCTWVXUGSTTXPVSaYZdZcXTcUXddYLXbVYUbKXaZNcXdaadebgUZWSbcXbUffaXgkghjgkgLnlpjojUgjeifpqqnpvuqkppnkkra.qmqrNojgmgUiiiWQTOSYZaZcWSYXUZcYHVWSVTXMXYXOcXdbYaaZaYWURXbaaTbeaYhhfdjcgcMkilkqlUhgchdmorlnqtllprlmordq.prmKggklgNdgbTLNSUQXaSaRRWTSYWXBRVQQSXETWRIZPZWVZUXZRUVNUTZURZaYTjeaafZeYJgdliniPbdbZXinljilnjinklkhkZmp.loIfdfkfOZdZWSPOWWZeXbWTZWVWZXCVcRVTYJTXUKZUebZSbTZWWVSWXWXPYfdVkfghfdecIjdkjniPbgXgemmlpornjmqommjpaqrl.pPifhjkRhdeVRQTWWdeZcTTaTUVbWHVbSWSXKXbTLcVeaWZYXbYZXPZaZXReeXYkgeegeicLjgkjmmPchdhgmornnrpkhmnkmgnbrmop.NhmipjUfgg6000538A3655401687026340603760C5A575457671056A728884CECBEEEC0DHHKPK2AFABBLNLLKONJLMLKHGJCNKIPN.HICNF4D9FRPPTUVadWXTSaUWVcdFSTSUVYIXVVLYXbdXWZWiUTUQYYYYRfaaUihcdebhaKicjfjjPbfZZagklkhqnfjhlefddTogfihH.kmnlUfgfXSRTYTahWbTUZXWYWXKUVRVQXJXcYPXWeaUZZXfZWVRaZYaRYebXfjcedecdLjeiinjPdiYZfhjmmjqllgjjfieiWjgdfmIk.kqgVfmjUTSOUVcbVZTUYYWaWXFXaRVSVGVYVLYYbdWYZWcWYVRXaYaObZVVdffdfcfeJgilflfSdeZdahekgikhihlkjifeVgkfhiCmk.nmXdfjYTWSYYcgXeUYYbagccKXdZXaZOaabQeYhbZYceeXYZUcZdXUffaZoihiehffKllnimkRgiafdmkomlromllmjjhjXmlkjpNnqn.rXhkkWNTTSVabUdUUYWUYcYFVWRVUXGUZWKdVeZSZaXdTWSOYbaURcfYVgegfgfgXMehmgljMcbZfckhlefomigjiggciUggfkjFlgmr.UfgfIBD8JHOPINDFGJKOMK6ILGIGK5ILJ7NJROJHJFNHHJHLMIIFPNMNUWQRPNTO7SSTVXTEMNLOMVSURUYXXSVVTTOVGUNORU4UVXXU.VTUXQSQWWYZVYUTYXWWWXEWYSWUULcZULaRcZaaXUdWWSPXVbZQZcXVghdceceYIdegfjhMZeabagdiehhjeeghccaeSidZhfDffdhfV.plWOTQYXefWaXTXSZZZYLWbVXVaLYaWQaUbdYZZZdVXYTaafcSefccghhehagcIdehhkjOdhYbWiglhjlkeejghddcTigddg9gmfkgTp.raRZVXVbdUYUUYWabdZIYVYYSYLYaaNdZecYWWXcXYUSZZYbRaeXWhiegechaNddiflkOcdXcZiejjgjkidhhkfcdTibZegFfjjkfUlr.",
"./xvvzqprkbrpglnroammllomipjiUgghlmYkkffhfefhhScZXaFGYTbYSUSIXXVYXWGRSPK.VTXVaZZXTVVSTTYNVXTVOTIRVVVIXWa/./ywvtmqlbonnoqqnYpljlnlhpkmYegkjnXjjihffghhhReYWaDJXTXVNVSGYXYYYUMRRNL.XUZYUYaWYWUUPUZJSXWWRVFVRWWOWRXx/.wtymnlnYnphllpnWhhijomgkhcWbbegjWhgbdfcbdbcOTaVUAHRSSTPTPATVSTYWJMPLGHUTSTPTSTTRWPTQVFPRRUPRDUQSTFTVVvyw.pwlqkoanofnmnoUlhjkmhgkjkVdZghjZlkffkagdfdTZaTYBGVRWRORTDTWVWWWHOOKFIUXWXTZWYUPSPOWWHUVQVRPDSSPUHTVUvwtp.tjijkTjhkhljiVifhciddgebQZXcZfVedaXZWcYbbQSWQUADLPUWMSO6TRPORUFJMGDCPNRPSQQSQONMQLPEORPOIMELOQODRTSzvywt.qorqapmkospnYqllionjiigWcekgkaghgggfcagjPaYYbGGVSXYMVUDXYXXaWIPRMJKRTaUUaUZWRTWTRUJUXUNOTGRTXXKPYXqtmljq.rxpcuwpvvusdokjnrmholjYfhejnZklkjhegjkjRZmhiRWaaieXZaPfghefeUWZUORccjedkddeXfcZbfRbbdbYaOdcdiUZfdpmnqior.vvexunwxxwgsnmnqplllkZeijmrdkijkmdgkljXbollTXebhcXeeQffhgehSaaVURhcjgekihcddeefhSegagceSZcdgThhhrqlkjrxv.whzytvwwtfsrlnrrjoolbijolnfomkmlehilnVgqiqTWfeffaffSihfeikTWYVRWgijfhkmnfbgfdfgXgeccdcQebgdSgjjklnokqpvw.kv+ovyytdpmmoopmpllajiinmdmnkplgjjjlUbngnVUebglfhcOjffgfeVZaSVTecihhigeecdbfdgTfdbZefRbejfRagfbbYaTacehk.iidhlieNaZWYZXUXaWLTTYSaNaXURXPRRWSFNYRY9PZXebTZSLcccbcaNTVUPPcYdUYfbZaVaZZWcNadWVUTJZZZbKYYZronnjpuxzvi.zty+xujqporvuqsqrbmohhjaonjklhlkkkTipljSTaaebXXZNdedgihRVXWSQcaefbgdedXcaabeTcdXZXZPYZbdOcaepnpohmwuy+iz.tv++yiwtvuvtmrppikiojndrpooplkijlZjqnoTWYYbfUcXPddffhdRWaVRQddeacehhgbcYZYbQfdeeYbPZdefQbdfgnhfkkpntodtt.suvrbqllnnokjjmZeachjXkldfjcbcheSXkfhRNWUZUUQTEZWVYXZNRTILMTWaXVcZYXQUWaSUKVWTTTUFWXTVKTXVlolnhovwvvhyvs./yuhusrstqnpooehjkkmZqjjllhjkmgXckjnSYaYZeUcYMeddaZcUVaSQMdafaZdcfaZbdafXRbYYZUZOYcccQadcnqlmlsvxwyl++u/.//izusvuxpvqplkjpondoppmojkimjdgqpnVUgWdcZdaPcgdefdVXbQTXfeeffdghebebcadVcbdfYaOcbeeMbderqpnjpuxwyix+vy/./iwqxvutrvuthnnlmtfptqmpjjmnkWgtkqUWcaffabZOdfhdgfQZZTWSdbedejdfeXecbciPgafcbbQZaceQeffonnoinswtteuyru//.jxtuszupsopflmjnmdnqmmnmnjikZgrmoRZbaffWbgLbddaeeVWaRQPdagbdgggdbbadZbTcbabZXPbaabPccgaYWUVYdgfdNjibhiij.ifddgdaecYNUTTWcMXaaVTRTSXUJSYUWGIMLONGKL5OMINLMBGGC98GLOMKTPLNLJNILQ8JOHIKL7KJHN6MMQmphliqosspaqwquzwxi.rvvzttsppgnpjnudrpnnomlmsjbinlnUXdYfhWabLehffgcTWZTVMfdegdmgfecbebedNheccbYNbeehQcchmlhhflknrmZptlsuqtfr.qrrqolmoegegkpcomlildehhjTbkijORYXYcXbXHXcbZecNUWROOYXadYgaeYWXYYVcOWZbYXZLXUbbKZbdljijhljmlmWovlrsxudvq.srqlrnkghikjmgmomjmgkiknXdkiiQRZWfbVaWNcebbddMTXRPNbZaaWfcbaYVXYZdNaccWSXKZaccKccglljkcinnnoYrunsvvsdvrs.tvpsopdnkilkammkonhkgimVemkmTXYbYcWbdNadbbbdPVZTRPbZcdZfdbcXbabcePYYcXWVLaebbQaceonomiorqroZvvntuuzgzrrt.rmvtpflkkkqgqmplmklooncfpjnXZbbhedeePegfZegRYYSRQfdgfdiggcZbdecgQbgcaacRZbcfQfbemlmhdnmprpXutoqxtudtqqvr.ptorcnjljrbnnnoljkkimXemklSSbZeeVeXLZfabhdQWZQORfaecfdhcbYbeZXbRZeaVWcRbbaeMXdeihggdjhljmUqmknprpatolpmp.qmjYiffhlXkgkiideeefObkbiNRWTXVTZWGXYWadYPOUPPObWbVaZbZXVWUWVZMXUUXTVHYXZXJXXXppkkgiolopXsrjpvvseslrsvtq.pqZiomoogpmojiejkliVhlolUTaUdeYZWKffechdSUYQQPdZbdbcdiaabaYYeRadbaYYKWadcNXcejkhjeillolaqpjoquocpmnotomp.oaiikinbmlfjmhkgjiUcmfkSQZWcYUbZJZbaZaZOVTSJRbYaZYcZabVYYWWdTVXXYUYOYXZaNYcfimckbgjkllWrpmoptpYpokpprjqo.ahjhkpfmmklmjffglWdlhiUUYWVdUaaNgZZcYWOTWSNQcWbZVbYbbYUYbZcPXYWWWXMUacYKYadUYWVQWYZbaLbiZelhfNgegdfcYZaa.ZWXbcOacaXaVXXbWLQZUXDFLLMNHIJ4LQMLPLAFHBAALJQNNRNOKHMINJLDKNJJJKBKKMOAMLPgebdZcfeijTmkehknlUnghnlniiihZ.fihjYghfchdeghbOZgddNJOINOKPNENRPQUOFGKADDPOTQPUQQNLKOPLODOMJNLJCKOMMDPQRggbZXehijiToiajjnmTpeikkjfoijWf.kmmekkjigfchhfValffNNZXaYSbWJbgaadbRSSQLOZZeYbebZZXYXYVcPWaXWWWLWXcZMYZchkegckejoiYhockpljTjgkiklfmkhXik.qpellhgjcffijTbiemPLWWacTYcIdcdcceSUWQNQYYaaafegZXYZdXdQYZZXWWJYXZaOacgljghZgjmlnShjhkomnWnkjlkjhoikbhmq.qcolfhjdfhkfUXkfiSQcZdZVbVMdgcZaaRWXVONaabdfdibcbbZZYaPcYacWaKZZdaNaZdmnjjfknrnmajnjmntmcupmkqrlonpcjmpq.hssmomjkllkYgpimXXfakiZgcOfjiegiQYaVUThekfdklegfdcdbhTedddecQdeddRdehYXWZVaZdfdNadXZdfdMdcgagbXgbfOYeech.gebcdWXZbZKVbYbHMaTeZTaXIedYWcePSTQNMXVYcYadgZVWabWYOUZVYTVJWWXaLXYZkjhlegkkomaorkqopnXrommqnkpmmagklosg./wxxsqqupepqimTZeZhjXbbQghbcheSXbTQQdiifelifffdeddgRedZecgOfdicSefgkjgkdhlimnXnpljptqapmommngmlmchkllse/.tuxotprxdipkoRYcYbfZeZTifdjefUVaVTRddejfkhggccbcahTbeZcbZSZcdfRbegfibfagkjkkUjodjpqmanlmkpnkofkafjhfmbwt.wtsooosfjneiRUXbdiVbYMcggefaSTWUOQcbgbbdjdfZaebdeObecbaaOYWceOadcfhdfXgjkmpRkoflmmmVnijoloijjlXcighocxuw.vsrptqehpkmSVbbgcWbbLcfcfdeSXYPQOaafccgeccZZdebdTZbabZXLZYbfRcabhffkZghmllXlpjlopnTolmnmliimmahgjjmdxxtv.ovrtugnlgnVWcbffZbaPciddebRVWRUQdbecdfgfegdaYacScccbXaPcdbeMgeeffcaWfedegPhlchjjmRmdghkjdehjVdfcdjWsosso.moqqafjadRQWXZZUZSGYZZaXaRPVOKMVXZZVdYZZTZXURYOYXVYTWMTVaYMXZXegbgccgghjRlkbjkjnTlekklkejkfXecffkXqtorvm.osqdekgkQUbXdbVcYIebcaXaQSXTOKXXeaZcdaabXaaYWOYaXXXYLZVabPbZZfhddYajkijRkickimjSmhigokekgfXghfhlZqpoproo.opckpjkQQaXVeUZXKaaYcbZTTWQMPcTdbbdaaaYYXWXePYaUWVXKaXYXMadbhhbfbgklljWkjhmmniXshkioieljgbhhiklburottqso.sikohqPXaVgfZcZLdcfbbdOVTQOQgZbdddcdcZabcZeOaYZaYZRYZdeObZghhcdbjjjnlSklegjkkUjjnmnmfiilWbfjfkZpxsquqqps.fhnjnSTYXbeZbaHdfbcbdRRbONRcZeYYbeaYYXbYVePaWXWTWNdZbaOYYfSROTQPRXVUFTZSXdWZJbTXVcXOVUWLOVTUYKedfegadcif.YdUZIKPNRRMPP8NPOOQOEGKFBCLNOQORRRQNOOLNRBKONRJI9KLONAONQceTZSaZbgbNijXcgggSibdefebhcdQZabXgVpijhnfekkhY.hdiOOaNZZRTUDWXXXYVJTONHGWSWUVYaaZWWRTTVLXUSVRVHPUVYHTUbZYaaWYmoqnYpqkkqtrYnkkmpmklmlZglikpbqpnpljkpondh.vuefslqqjomWqpnosnbiifabnlotororpmpmmjnZonilijZjnnoYnpnXWVTQYhligRlnfjpkmUliikjkbofhUdfefiYikekgagjhjUdv.vYbnfniijcSemmkliZcbXYWkjjlgjmmheilekgXgihhgeYhgiiXgjmaaUYUbilqnYjohnnqoWnjimnlilkiXdfmimbmoimndkkqnZiuv.dfmloohmiSoooqlnaelVdVljkklskijjmlfhlYklhlfhXiloqZkmlFDABAGRTTV9STRSVURGUOQTXSNUSUDNNPSXHTRRSVRQQPSIOeYd.XaZfcZceJdbaZbdQXWONPbZdeehgebWaYYYdOaXXZXXOcbbaOYagGJHGDGWXWUPTWNYUWZIXRRXZSRTQUFJNLQXMZYUVWQUQXTKOfbfX.bZcdVYVJddcdcdLYcSNNcWbbYbfZcXZZXXbQZVVYSWJYaZdKZXaYXRVLVaefeZaYWagcbMdYZYbbWaZYLOZWcfaecXbcWbaaYPasnmab.prtkokXnmpmojZhkbWaheljhpmmlgjgiikZlkhkhjXfiikTggkTTSRPSabebXaYUYWaaLYXWbbZTUWWLIXWZaTZYbbbXXXVXNNlflZZp.qnhokUhnliliXhhbVWignghmlhfihedfjWigdhdfSdeghXcghbXSWUXihfgeebZZdffOfYfYheXdcVMNaadkehbdgfZdVgbRZqnofcrq.tnrpbopqlnjbjndcblnpomnmpknigjkoblsnmkpXjmkoWjjkYVTRWYecflbbfUecffNhcbceeVeYdNOYcZiZjficfZbefeRZqiocdtnt.nvoZqpqqomgmlZcbiknlnpmmnlmllkkXjklmilZmlmoWdmpSNPOMMXXafTXUUUZaWGWXVWdVTYUUHKSTVZTXZVWZUVUZZMRjihZVkhnn.onWjldigfXcdaWUhgkffijkgaceffaSehgcceScZcbQfdeUVTRSVZefhZXcQcdbbKababeeZZbaIPbYbgabebbbZcZcbPTojmcYoorvo.lamnnolkakkeZckhmjmqlllhjigfocgllljlakghgVigoSSPTOUaefcSZXTYaZgLbXWdeXWWZaJNWcVcXbZYbaSYXZaPUmcieVkkponl.akmoplnaijZaZfdimhmkmjhhffjnZlkgiekUfdigVgdjIGAD6DPQSOLNPEMPOL5LHNNPLGKJN4EJIMOIQTMLPGIKLH8DWSSJJXUbZWaa.ZZYVZTMTVMLJVSXVVYXWSSQSUOSLXYVTQSIURSTGOSWXYTTTXffijcddZecdbOeXcaeZXfZgLNbddfegicccYeaddNWqeoddnhoqjmkZ.tqpquZhmYcekfimiljhfihjhigTgmihggYgckmYemkXXVWRYgfhfcedWdgfdMhcedgfYfbZQRgcgjdhfgfiZbacfPXpmobdmnpplnmZt.tpvnbilddclgnmhmllfheehikZkljlfkWghkiXlilVYSVPXhhffcdfVddhdIfbbbfaWeaZMPadciYbdgcdZcYfbOXnmoacplqqdnoYqt.qsqdfjgaYjfljflkijddfeghYiijiieTgeliWfcnYYTWOXegegbgfYaedaNfZbbZbacZcLQacZeWcjefdaacbcOXokqZdmilqiopVppq.qremmeadigihijnlijhcjhlWhgijhjUigijVgkhXYYWRafeifcihXZfgeLgedbehdhaYPUdcagchefdeXXbbbQYsllbcolnogllZqvsq.tdimdcfikkljnnmlfgkgjhVilklghUgjlnXjinWUWWUWehkeahdZcdfeMccddgdYdZWLObeaieefaebaaZddOVninddjijmfknTunqrt.flleXbjkiljlnlhhfieeiQniikfeTkghnWiglGMJHFIUSTVNRRNUVQVBTNMPRQPSOOAFRSRQPSUSSRRQTOREJbZaQLZXbgXaaMZbdedf.VZXQRZSYVXYVXTVWTUTYMXbUaTWJUTVYMTVZRRMOJPWaWZTVWRVXZWGWUTVYWOUVTFGSUWYSXVTXVPSTVRGTiceXYhhjmckiThifmilV.naXYojrqmoqqklkllmmcnmjngiYdehlUkfkSRPOMRZaYaVXaTabZaGZWXZYZUYTWHKSWXaTbaWYWVXWTbKOiblWckhnldkjVmljmmlZn.dabonqpqrtrqkmnmqpemnikijXigkfVekkPNLKGMUVVSUWVISQTRCTRRTSQPQSSBAQQVVQTVUPROTQQOFNfXVOSbbdZaeZMYdgedeXad.cdZaZebgcacbaYZYaQbecaXdLbYaaObZeKLGFDJOURVPSRLQTWQ9VOPRROPQJNADLNOUNQTOQUKOMONBHaYdNNWVccWZaLcdaacXQXac.ZZXdbZdaaXVTYYYXHadYcVZMZZYYNZXa..HICKRRWTPQQMMXSP8MONPQROPRQADOQNTMQRQOQMKPQRCGbWVPNaWbbUcZJecYdfbRYbdZ.cYdZabbdXVbSYTYQYZYaaYLZYZZLXZXVXUUPRchgeccdTdfddGfYbbffbdbcLPZYahXddcadVXcgcLWnklbchilihkfVkljiijZooZZc.qpnqssmklllmlsbkjkhgkZkihiSkhnTUTXNTccicYadWaebaLdXZZdaWZYWJOZYaeVidbabXXTZZNSljjZWegnkghdSfgfgkkSjnaXYq.sppsqnllkgmjqajlgieiXdfghUdfjXZSWRajjjideeafeegOeaacgebbabQTeabkYiegfeZedbeOWojkdblnpnkmiXinlikiYrqZddps.tvvsrqpnpnosbonlnhicihjmbjlmVYTXPUegfhUfaXafdbMgdadfcVdZZNQYadfcfjbccZabdYQUtlkebjgolfjmVmmjhllVqpebZnpt.stssnmqqnqmajollljXiihhXfllaUPTSUdehhYbcVZfedKdYWZdfabYVNPbafdYefbcdVZbdYOVogleYhhmnfmhVihfijjXmqbZaqpvs.uqqmikokmqdmmnojfTifgkUjirZYTZQakkkifgecddjgTmgffidZccbRUefdkalkdgfdcddbRYrjshbpmnpiqmYlmljnlYorgdbssvtu.wuprprrjqfjqpplmbhglnWkloZaSWQUdimgbdhZcgdgPgacdghbdZYNQbeildihjegYdaceRaomkgfmlmmjlkXjlknnnVqtcabsqssqw.ttsplpotennookidmkilTlfmXWTYSZdhneZehYfhfgLfebbgcZiabOQZgbegfgdcfZaadaRarmieZmhpmklmWhlilmlXqraadmnrsqut.oqrpomoemmknimZhimhYjjoTYTUQWecfeadgXaeedNeYaccbXabbKNZZcgZfgfceZaacYQZphjbclfkngljSffjilhTkqcXXklqnmpto.kjrlmqXiljkklXgflhTkhkVWRPORXdbcVXbQZbXbLcWYXZYVaVYHLXXbfVfcZZgTbYZYNWmejWXginlahhSihdjfhVlkbVVllpmirsqk.nkpklcljfjiiXfcffRcfmVUWSNTfdgdaccUbeebJbXVbbbWbYUMKYYbdWdcaZdZXYaXOWpimaZjhimcjhQhedhgfWkmaTblknqkpprjn.qllodjkjjkfVdijiTfhlSUPPMWcefbZaYWdbcaNeYXadeUaYYIOXZZcaebedaXaXbbORmllYZgegleifSjefckiTlnYYSlgpqorlprkq.momeloflhmVgfgdVieiTPTOQTZedfZaZaacbdIbYYbeZWYWbNPYdZdbdcbeYUaWcYLTmefYXidjlfgfUhhejgeUlmZYYmmnnkrpolplm.lrcnihkhgTdfhjVehfTUQWLRbffdWbYSfacZLeVZccXVYWZJLVXYbWdadbaRYXZVNTjkhYXifkkffjOiighjeTmqYYTljoqmjommklol.qcmlikhkYffhhRghiYZVWPUfhggcebUXdibQdcdegbZedcLOcdahYghedcYWeeeRVngldbkjokaonSgkhlhiYmpaXYsqsmqqtoqlomrq.dnpnnqkXjeilZgjjNJFHEJRSXTNTQKRVPT8NONPQRMRTPDDPQPTORTOTSOOPOPBLZXYOQZWbXScZLTZYWVQMceQHQbabadfeeXcdeccd.cdXabbOUQWWJYWbVSPUOUbegfacfVbcgcJhWaYbZXaVXKOWYceUebbZcYYYaaKXogkaZliljeglXgkihinXnmbaYkjojmjnmiljlnmnc.qommmcmnmhWjllXXRVRXbgeddddWYbabOeZcYgeUdXYNMaZYdZdeebcXaaYWOUnilXVkgskhlkYmliglibmnedZjlnomqnmljkoilpdq.rqqpgmllraijnTWRQPUdacbWXeTYdfaHcbcccaUbXWJJXZadVZZcacVXUZXNSihhXVhdnlglgVijjikiUjicYYkgllnpokjfjfhinXor.smmaigljThgkVWUVONbgcZVZeTZfcbIcYWXaVXaYWJNWXcdYecbbbYXWaWRVlhlZYkhmmcliThlijlkankacahinloponkjjlkknamqs.mpbnillYgjmORPRIOYcdeUXYTUYbZKbXSWaWTYUWJLWWWeTcbaZXTXVYTJRigfXShdkicjeQgfihgfTgiXVagehljlkikikhhhqbmqmm.nahijjSfhiTVRPMTaecfTZbUZabXLYZXVccVYYXKJWWacVgZaXaWYXZWIVjehXWjfplelkSgkejheWijdZYkiijfmimlifmgkkbmpmpn.gngkfXiinIFDDEGOSQRJPPFOOQP7NLKLRRHKOMBCLJKQJOSOLPMLKRN9HZYXOJXSXZSaUIYWTUUTJYXLMLZXcXTbdZXXVVTYXOcgabag.YYYbLYWaRVUSLRdZebZYZWYcZbKbXZaZbYWYUKKWYZdWfZYZcTZaYdKPjhicYfdjmckfUgggigkUdibZZkdiiihmhgfdgdfjUmminhnY.honZlhqVRQSOTccbeZZdXcbaaJeUaebbXaXaKOXXZeWdcWYdVVXZZLUnglbaiemlZgdRchegjgTegYZYifhifgkifcifffeQnlgiigYh.mlYjlkVWSPQXddgjZbeTcecaHebcbcaZdZcMMcZddXidcbbaaYdbOVniobZigkmchiSkklilhVhkaYZhgjhglimlfjghhiWmllljkYom.sdlnpVWTUOXigdfbdfVceebNhbcbfeXcaYOMZaadacfefeYbXeaNYoiqadkhoobggTmiijnnYlfaYZihmhknlhhfidjhlWhrjljfbnls.dpopIOFHDKUTSRKOQKQMQP6QKKQQMJNNKADMONRLSRORMMPMOOAHYXZOKTXWWQVVGYXWVXWMUVONLSUbXUWTYTRTVVRZJWaTYSXLZYdd.aYZXWTTRPZhgaYcbTabecMcZcafXXXYYMPYaadXebacgXbabYOTngkYZgcjdfigOelfgjiTkebZXkdjfjkljkcfieggYjihgfiYljlpa.uxWRVVTYfhjgYadXddfcMcbccbdXccaLQZcZeYfedaeZZdZYNUpjmaXggjmdgdSmickigVfkZXZhfllilfjhfhehhjWljgjhiWhlnoYu.zaXVUSXdhjfZefVcefgQhdgeeeXefdPRcgdhZggcbeXZbgfQbnmlgakhkpeojWklnhnlZkkeaXnjmlromokmlifijblnkminaqkppZxz.",
".MGIOHK9OE.6DB6.AD.CGEBGDK68CEDBB981DD78B.BCAEED8.35F.6.79EB...8A.EAAE..CBD.H9.BC78.C59..3A.C78C9A....C.M.MPOLONVK.CGBIL9H.DKHFKHHIHKGJKILH9IHIIJIFLELJJGJAFFHFGDJKHFFGCJIHFLJEJHGEKGHEFG8GJAJBK94EHD8.EHF.D....GM.MOJNJNJ.DACIHGE.IKGFC9LAIGBGDGKF7JF7FHGBCIGGIL.89ELBB8KG8B.HDHGFADJELDH.FCEHGG.D.F8..5CADHIEFGFDE.9J6IPM.OOOGYN.FEHDEBBDEKHDCJGDJHFDJEFK8HAGGHDGHELKDE.DIGG8IAEK6BBDAEFCCFEDJFJBKJHD.D7ECGBCGA.FJECBELFFA76BEOOOO.QTKVM.IDHGPHE.KMEKGKNFIMIIIGJJCGDENMD7EKLKOJJFJJGEICMECCHNFEFMCMHEMJIEKGK.IBEDIAF.M8FHEGFCFPI.D..EFHLJOQ.PMTL.DIDIFCE.HMEDEFDDCFDEGKKJ4FACAGGGI9HHIG.HGKECKCEHA9FHB8HHCDDFGAG8FCBFHE9BD88CG25F9ED8CCGB9.8JAKONOTP.KUN.NHEIJEHHL.IGFHMKHNJHJEIOCJJFFFGDNJHJLF..FKJ.KFENGFGK.JKF8HHENJLGLKHEKKCECHAHI.7IMFH.GKDL..C.H9NJGKMK.TH.GHFHHAF.JIAGCGEEGFDEGJE9AKFDE9EBGAHHIHB5EIF.C.EDFCDJDFIJBDEEEDFAH9L8GEDDD.CBD775DFC98EGAA69GEOVNYVTUT.U.PJKRPLJNPPSKNPVONNKQONKNDPOLONIMLGMTQQ.FLMNKGOJMJLJKENJKEMLJOMKOOLPKNNIH.KKLNEJNNMCDHPPI.IKN.EKJNMLNHU.LJEILCIF.LOHFHEKCCIHKKEFJADHGFKIEIGKIHJ.9HIGHFDKL76FFABGIFFJCNGFFMHJDIHFHFFB9I.DBDCBAGIEID3G...........L...FHHD...MFCD.JEK.C..GF.8FG9IID.GFKI.G.9D.FD.B...F...DHI.F...H.G..HF...H89.GH4.C...CDEIG..BI.6CDFIDNGPJ..LH.MFH.G.DEJJHCFFFDIHIK9EFACGGFGHHNMHD9FKHF.6J.BCEDGDK.BHHEH..DO.F.FGACDBA.JAABFDC8.EEJDAAD.DGAEDIHHJE.L.IGJCF.IHGFCDJFBGHEGCIJAFGEIKC9D5KFFGF8BD..B9G.CBD.E.KG.DEDDDGG.H.BHAE.I.8CB67.9CD.CBG8C38AEBBCHHDEFKIFHI.GH8HHGOEBBJDFCMFAEHFEEIEAGEFE9AIGGH.2DKFBK9EECCDGDAIJAGBEFCEFHHFCGEAHEEE.C77ACDCBCJDC.98E86IIDGIIHRLH.GG.JFI.JKGD7IKEFIDIHGFHBKGAFIJFAEGHJJ.A7ADGD9IGI8AMCGIH7KHEKHKFLCGEIDA8EBBDG4DDGFC99EHBA...C.LHEPFJHPCHMJHJ.HK..JKE.FMI.NO.IJEG..F.....EE.I.EF.F..FG......J.E......LE........E.B.FEE.....BA.D.EE..MBA9GBHCEALIDFC8FH...INECGFECBDIEABFEBFB8BCD9ECIJEF.8FGDBD8DKF89H6BDCBAGCFBEFED.7E8A.BA9BB1798B838HH..56..DHEBEEHFJF.HFHIK...HPIGEKLJEMHHLGIFDKFFGGAEBAFGLGI9GJH.E4GBBCBEAEGD8DKENFGAHHLFJL.D9GABE8BFC.JADGA.D3ACB...D..H.N....H.....................B.....A...I........................D..............B..7..H.....G......CDIEKHLJPL.GIGJ.IH..OOIFJKHKHLKMJIGEIHHLMGGLFQLHL.FCKHFKFLJFBHODIKGJJCGEGJKQFFE.IGIJDCGGABGFJ.CEJIA.59JCGKKKMM.IPOM.HOKJNP.O.QQMUSNLLJN.HLRHNLLOMKLQHNVMN.EIMLLMJKPLIIKKGMKENOGNILMQMFGIHHHIHFJMFCHMQHFLLHJHA.MDEHGHEEIASHFDGEGKEI.OQ.PJGPHEMIHHKIJCHDEEHAHDDJGHID9JNKHGDMRHGJJBGOKEIJGQIOFKKHEQGCGEDDIP8.F.H8CHOHHEACEFBFFDKDGGKFCEFBDECG.IQP.HMEGIIHELGGFAICCHFEABFDGMHE7FFJBMAKDEGKIDFHHCIIGMGAHODH9EEDE.FACH.CCGI8CDHKIDF6GFGKCCGEFCNHDJCB7.GE.FMJH.KJKCIJGHIL.9HJEIDGACGOJKH..EMFHKFMGFFFNDKLJ9GIGIDMFLEJBGCA.HBFBFDFCIGECBJFKBBDIDDH9JKFHGPE.JDJIFFK.JUGMK.KIKIKJKMIG9OEEFJGJIJHOJIECCLIGNBOPEEIGEHGPEGHHPKPDLHLGIFCFHJCHL9.HIGIAHLIGB.FFDKHLGNDMEVKJHJDKMEL.KSPEJK.NPQMLOGKKDNHFIPLJLJPQNLGGEMNOJIMSLMHJJIOOGGMNRJPJOPPKOMHIEKJIO6HG.KLBHKNN.HHLJ6IADFDKEOCECFFEICJ.HNHGKIN.LKCFGCFFBIFAEGIEIIBLJJ.FGKMJMCHGGCFFDJHI8DKHNILLLGHGIK7AFDI.I.AKKKD9IJFICA.G.8HIJICHGNCKFBCF.BE.KLEICKPL.PHDLJGJBLHCDADEF8MMLJG9CIGHFBKEFGDFGEJLDMKKKGMHMIEGMBFFFAI.I5EE.GCDEIC.F9B.ECKGHMFNFNI.FGMINDM.HLMIIIQKP.OQOINGFPGFPIIIMHKKLN.EHNLJHJMRLKQJHLNJEOLNRMJJQNKFIPMLJ.FJIAHG.LHEF.OIGGEDJEGBFIDJDKHCFHFDOIH.LJIHJKMCHO.NKLKGFJDAGKKACGKNKJ.EHJFGKDJFHHEK.FKMFKFFQFIG.FHGH.DJIGEAH8BCKBDF.FIHDCGGGDJGDIEHEQK.DEAI.EH.KNHEGJLFDQN.NKEHDMK.ILCEJELLNM.BENEGEEJIHFLJEIQOHHLIMEJGJEGDEIFHFNICI9DA.CDKJG.D99A.GBKDJIGJGOK.IGEHIAL.M.HLHKOGLOKN.LKNCMHDJKHEICJLOJECFLHHM.MLEEOJBHHLFGNJRDEKHKIKMFJL.HEGIDIKHKCAMRJKGCC.FBIGEGKEJNEGHCHGJBG.JHKGIMGCJILKL.KMFP.KKEFBJMPFILHAHLHHNBFJGEHLFGQNGHKJNHHKOIDFKNCGH.EGJ9FKCFEDELJL.ECLH9LKFJKIEKFFIIFFEFI.ILIGLIKFGNKEKK.MDOEDCIKKHFHJIH.CCFKGK9MHDGGKDIKNEOJFKAJGKIJGLFBFIADCHA9CFL7D.EJE.6BIB8HFKJJO9NJ.KJEHGEF.GRJF.GKFJGGHNMM.HOGKIHJIGMNJJJ.DG.IKJBNJIDFJFFIPFINEMJJJLMJG.HFCHCHFJDAKILI.EINGGAD.C1978C4CADA89AEB.BDBEHCA99DBBFFDCFDH.JBBGE8DBBGCBC978CBAE7EJD79G6BJC5AD7EADAJCFADE69BA.BD5.8CE.9AAFFB76FADIJHGFJKPDFEFIK.FK.INHIHONILPJMMPOOJ.JCOGEIGOMKLG.EDQJHKHKNFGHKKMMNEIMGOGOL.NIHN.JIJFFL.CGNKHFFHNIH.DGGGDHFADAJFOHGFGEGFBF.HLDCJEHFHGDKH.EGBJ.9JHHDIGIJGG.ADHEFF7EGGAFC9GCI9FEDJHFDJFECGGAAH6FEH1CJH.B.EIF.C6.GB7I7GECFDLG9AEAA.8F.HLECEEFACFA.DKDKBC9.FHFACEFIGDCA9GDEC9JGBFEGECJE8E99JGEDKCEEIKDDAAF9E15C..F8E..CE64G98IFGNAFEOFICIGF.BG.LOEHIFIEDPGIJKCIGOJF.KMHHCLKLJ.7KMIIKGLL.DDIFELNIIFILHIJJHHDNJF.FG9BK3BFGI.DLKKCFB..IBJHHMGF9NKIGKEI.CG.MMHFDJPGAIKLKEIHEGHHK.GHJGKNOH.9DKFGIBJHEHGNEHKMEFLHKGJEOGJHMHDFGEFDF88DLDHCNJJ.E.BOI.IGDDGGEIIDGCFJ.DAAGKAEGGLIDIKCHFKJ8EHFMG.OJEKMOL.DCHFHFI.IDAFIFHKHAFNFPHLFJLJCHJ7CEE.A.DC.DHFDBGFIHC9HJBFBG7GDBME.F9EF.9E.GLHAAJJEEIAEEBKIDIDAHHO.GFLKFF.8BIGFLADBB.IJDHGI8EIGLFIBKFHEDIFGI8ACG969HGABAFDCJE.FDCLCHEINGLIGGD9AEEB.LQDBCILIFMCJIJHGBGICHJJG.LLPKM.8GLFHHHIHIDMKCJJKEHLIKDIBLLIDGJFGAFEJJ99FHGKCGOO.EGHICAEIEK9JAGGFH5AEECA.FHDFGJJI8HGECMFMBOGECGEFL.PLLH.DCKJHHDJJKIFGEHJNKBHIJEHGNJIKNJDEGFAGEABGHECEIKG.G5AHDELGLLHHHMKKHKIG.IFIQNJDOHPBMKKLJPHNGMIFLKKLLP.NTR.HJLMGJGJHDCCJCGM.DEFCLFKJMKFHOKGG.GIE.BCJJMFCKJHJHAHIHEJGKKHJHTIINFGHIJG.LVGGJOQLMKNLLFJJCKJIKNMKPLN.MQOFJHIKLFCIJCGMHKMMDJQGPHKFNHIFKJHFKHJHIABFGDDDNG..JCBLEDJIDOILIQH.MFGJ.EL.HMHMKJNJLLKNOIIJBLGGLOOFKLTM.PJFEJLMKELOBGIG9III8LKHPHLCJKHDFHCIHAAII7.HLDGFHNHIKACE.8GLEJGFHQJGHGHJEFG.LNIHHILJJNJMJLHJCGGDJHLFMHRQP..BIQLKHGHMGGKNHEKKCIFDKMKGJKJEEGIIIHCELACJGIIJFGGIF7EID.J..J..B...DF..F.I...DE.EG.G...EH..9..C.......OJ...I.FKKC.G.EFD...C..F.LCH.JGFAF..A...C........BHE.K.9G.3A8DFH.5F99982A.89.FE97.CGF9EEBCACD7EAA79D88DHFFB..9CEDF6C6548A4CCE2BA5C6A.D898C8.7977EE07B8A46CB57D32CA5F9IJGFELHDFBD7FFG.CIJFECEGCHHEFHCG8DD9KDCBGCJJEII9.HHGFFKHABEGEFKH9AFDKCIFHDDDFIA6G9DAG495AEA8BJGEC87ECFFEGJKKIMI.KDKA.GJ.KMNFMLMKINJNLLF.CQHGMKHILKLHJQ.CH.PLQHLKLJMOJIPNCQNLNONJPQKHORIMMPIISIGMORJJ.QMPOJGNF.HLGGEJFNGFH.FD.DH.HLKJFINMGLFEHHKIBJEDIFFGFJMILLFEHP.MKILPGIKPGKOKGGMMRJPKMKDCMPKHLFHIK9EMJMIHNMNIJHHOK6FB8EC..KHDF.BGFB..FLHBHGOJHJGGHHGKAHFEIGHFHHGKMKKDGLM.QGOLIKFQG.MMGJLHOFDJMQJGIMEMJKNHJHJKGLHIJNGKMBFNM.GBIIKKCGF..BKDGDE.KMGMKNJMFHKEMNKJEKFCKIFLHHJLKHKFFQKQ.MVSIOIOMPLPEJJPRJNIMFLONMKFJ.KLJAGNHIHHONMOJBGIK7D8ACCF.ODB6999.84.FJDAFBICBJDE.B9B7H79GBIAHDGFEGC6FHIGM.JIBEDLEAGKCGFDM8JBDHHELEAFIFF.F9EHDICCCKKAAA8JD9JKEMEEEJK.JGEI.DG.LKMKMOMHKMJJMFMNEKEJLJ.DIJJCLH.CKLLOVJ.WNMOKNLTQGNIPNJKMOKMNMRJKMKMONBKMPKOHJPPNO.KIIEKGKEHNDML...EG.KB.JPRDGPSGERFILJHJJNGGLHIBHJHIOMG6HKPLSIW.MONMLMRKEKPIMKMHLKJEONLNKKKJPEHMMNMLINQNSGGJMBH86CAGFJ7.BCCI.FB.FLHEFELGFLHHEGDIDFGB.EDBIKDJBG.5ALGIIBNM.LIQFILNBJ.EIEJDNEIENJJEHECGMBCNCICEHMMIG7BHG.FBBC9FCL6FCBC8.8C.BIGGFEMCGKHFEEGD7GAFDHA.DICCGGE4BJIKOEMOL.KLDHMKCGLFIHICJFFGNGJEJEE9NDFFEJGDDGHFK.EII.F.BHFGDJF.EDDA.9B.HIJKFIHFDQELOHGF9HFEDGFIMFCGIKF8EMKFIDONIK.MGHOMLEJJHFKEMOKGPNDGQJJEGAEGHPHFHLKHMDIRI.GHDNHKJKF.D.GMJHE.OKJINGJFFJKJJLKJGKCGINIJKGJMGNDAGOPQOLKMQLM.MPOKMNIPNFMIOJMGPQMMMNLNOBIHHMKHNLNPP.LPJ8CDAFB.DEA.GEDC.6A.DKBDDEJDGH.EBFDF6K9EFEFDCECH9H.4EJGGMENLFDGM.JNLDGCFFFIDEHFAJH9FLFBDG5CIEFEKHJNFHB9HGAJHEE8JFNBDD.AGEBE.IGGFKHIJELFIHGIFBMGCEHHHJHGKIE.CFIK.PALMIHHPJ.OQLKOGMIKHLONLKMLFHIEPLBCJKJIHLKLIJFIJN.IGFFHKIJGHKKII.DG.KMOHLGOHJNKQHQKIJMCJLKKGJJMMIK.CKPOMLGTRLMOONO.UJOPOOLQGOOJFQOOKLMJORBJQMNFKOTOMKGJMHEHFCMHFJKII.GJH.CD.GKKHJPOILJMOLNNPCNIENMHIKN.MIKCEHNKMPKQKNKMKLQU.ORTOXJNMQLHFNOOLQLL.LGNTLOKFLQQKGLHONAFACCC8BEF.B.A7.B8.JEEC9EG8DEFHFGEF5E98IEA8EKDD8C.29CGGECGEBCLMDLJO.HLCGGJFOGFCMFIAGHCCE8DCEHADJHMDC9EHFALDFMDHDMFFHDGK.AD.JNIIGGGDMOKHGHOIAIFEIFFEHBEJLI.BAQGJJGNKJGENGKORH.KLPJNINFHERJPGIKFLNBHHGLFKMLNKIJFNJEJJEHDHELJ.HEBH.GK.COJIIHMKKLFLNKJNDME9FLNILHFQKFFAFNMLJFIP.LJICOPTLK.NPIOLMONJTNILIONJKCFGORIHNLQLNDIOL.EEDEFEEJC.EDEE.CEDGGGGGHNHKNFIJJFE7GD9IHFGIICGHD.5DLMHPDPIEFJPFGOOCLN.VJLIPIOFLLELMGIIOABGLOIFMMIIIF.HJ.JLJMGNEON.HDFKLFN.ENQMIPRNKRQMRNKMEOJJLKPLKJLPPKLCKNRORMNMIIHNFMOXGPPV.PSOVQONRSMLNKQNOJNOKSJLONOUMGOUPCHDFJAJDMGH.DCHEBF.GIIGDKJIGMFEDHAJAGHGHGHFDEFHHMC6COJFJ8JKEHFFFILJGJIJP.NLTKGDLN9LHJIDMGGGINDEJJHJHFBQJBGHJIGLFKF..GEK.EG.JLOAMPPLMJIJEHJJDOFEIJLIIHKKLKHAINPDNJKMJIKMIKQNJNOLSN.QVPNJRQKIPLPKLGIJNPLJMMMKJEJMKDE.BE8GAOFGDGFF.FA.KMFHFDJLHJGGKKGJALDDJEFBBGJFCG..FJKJIBMHDCEIDHGMFILIOLQ.SPJKMFEIKHIIREFFJFGHHLIKIBCFF.KFKKFLHOM.O.HL.EH.QQKOLLOLMQ.JHOKLJ.JKJOJKLNMNJJJDHPMMMDOLNJMOELOQONMPVTVS.POOVONMPPLOSKLLONLGNQPROKIWLHGCJGCK9LH..HHC.DH.FMKDEHPGINFEKIIMCNFCHGLFLJKHKKG8DQKQFHKKEFOJHOOLGFOIQKPPP.KNOOJMJIKLQ8JJKNIJHIQDLBDLG9HEHKBHLPJHF.FG..L.FFHHJLPHEKHGIDJJFIEEHJJHIIFIHJF9DKDJLHMJIFKMFNJHFHNOOGNJOK.LWNFOOJIINEJIIJIDOPJNM9GJI.EHD.FE8KDF.BCE.7F.EGE9BGKGGFGDKFGGAHCEDHCEDKHFDEA8DHCGOENEEGGGALFFCEJFNDJKONL.MLGIGMIDK9GJLDCFJKLFHBFNIBFG.IHKGNI.FHGI.EJ..IQEGIOIMIHEMKL.DNGINMHDGNOKFEFCFOMINLMONNPPJKQNMRTLRLRMVOWM.UPQSMLLUMLONMMKMNQMQJNVPCGGDBEKENH.GAED.8L.IHGECFMKBP.IFNFHE.GKJHJIJJKJHG.8IRPMMERNJGNQHMOOFJNLSNQFOONLU.MOSMMLSHMLORIIRSNONGHPK78.7E9CDIF.AEAAEA..GHCDACH7FMDFJCBF6JADFD7FFDGHCI..AIKEKAJLJJDM9LOOIPIEM9KENJFGPM.ORKIEKBGHIJECLIMGK9HKJ8GDEDBEDHHHC.H8..D.IHGE.FIAFLJHLGFC9IAD.FCGGEGFIIA76MHMFFKNEEGMFFKLAGLLLLIIMMOIQOO.MNIHOBKILJGJMMOKH8HQF.J.CIDCD.F8DIEEBB9.JIE.HHEFFJIF.HIHBJHAFGEIAG.KHI.9GMLJJIMKHJQMLHLQGIIMNHPKPJOGSSRM.MKITJGMLJJJPLTNMD.NLCAFGA8H.KF9B.EB.AG.DHDFBJKDA.GNH.ACAF6AGEE8FFGHAH.79PFK.FKKEEJNFIMLHKOGKJLHPIJMMMKNM.HNLELNJMDAOPKLIGFNJ5J8BF8ACKB.A8EBF9ABCFDAFCJIIFEIEEDH.FFF9F.AEAIJAC.7DIHNKFMKCEJLBEJLCFNIQIPILKIILMIIKH.NPBIMKNKIIOMJKEHLG9B.C.CHBL9G.C.DEBB.GJICBHI..JACGGCFBLE9BDACJGEHIECEAIIHL.OJG9ENDPO.CLJINDKIOLIDLLEHINN.MDHNNNJDLKLLKEGOF.K.GMGIDNIHJBCGEBE.GMPHFLOIIIHIIJHJD.HEKF.GJE.IIL.EGSKJJFNPMNGOGLRLENKOOMLRSQNKUSKOTLPM.PRONQKLQOPOPHIQN.95A82.7E.4A674.187AF8.D96.5A89D9AD5C1138D99ABA7A.04I9HA9BEBDAB5BBG8BCAJGGEK8E9MHBBJEBDP.EIHCDFDJFAI5ADD34C.F577JD.A77D.7B.BC.CF.HAEHBDIF9A.GC5B8C69BCB.C.79GEJGEKHCFEICCJNDHFBNGIFLJJGLMGKGLIHRE.IMNFCIHPHHBGHCAEAFHFI5NBCB.AD.9F.GHFCCHGKEGCAKKCK8NJCFD.9FGJFHJ.B5MMKNHMMNFGHIJQTCHGGOGJFLJIJOLHIMNMNOII.PUOFOLPSLHINF.HDJE9MDND.F9CG.8CHFM.GII.K..K.HCFICKH.GLDHHHJGLG.8AOJGHDPMCEHHEKMLEGOLKINJOKILNOILLJKNNHMP.PNLLOONJFFQJCDHEGEFFMC.DCDF.B..JQHIGGKKGLBCKFLLEH..IDHGGEMDDI.AERMLIIKNIJPMFJNOHLROSNPFNNJDMRJJJMNNQCNUP.LMQMPRLKGOK78ICFDHCCB.CDCCB8J..H88EILDCHDDCE7I.FBF.HFAKCFDGI.4AJIHHCOMCGHKEIFKAFIIJDLGLIICMIEGJDKJKDFONL.LMLJILDEII8.EBC8.9DAC8.B9A3A.CFCCCAB9DEFKADD.9F.8DCDBCECDFJ.68JHIHCHLEDFHKHKFDKHFLEJHGJDFKICJJAIDLFCFLML.LHIKLECJECEFEFCG8HGD.CC9.8D.ELHDBHHIEF.JME.EAHEELNBAGIKNHFBCB.NJOCJIHDHNHLOLJMNMOJMHNHOJMRLMPOILQDIOLQML.QMRHJIMM9HGLPCKEPIEEBJEDHG.JLOHJLKJI.FGRLEIANI.KJGFOKJGNGHBJQMNNKPNMGLLJKTQHLLMNJMLQIPKNSIMLPOKOJHLOMLHQ.PQOJONPAFFFIGDGPEIEGDH.HAGIHHKFINFCOI.JJJNFIF.KJFDOGH.HGE5GMNGMKPQMHKNNLOQMNQIOHMIPQJLQNMOTKMLPFPPOPJIMP.UTFLNO..DF.BLAIIGJ8CBE...AJHIKGNI.IHDKLEGFH.CC.IC..J.II.7EPIKOANNIFHPFIMKDKLIUJKKRDNFMOGKNLJLOAHSNRIKRQU.NNM.J.DEAD9.A.D.DC.AE.D..HEDBB.CFGD9G..GB.CEFEHJEGHJKFKDCOJMJAOSGKMPHJKGCINIMHJIOLMHQNKHMIKKPIHLJLLLHOTN..LPL...7...6I3.A39..53.5AAFB.HA9GC9CE6A7D66B.CEG5ACA7.38JHBBA.G7.D.BFGL9JDFGFEBKB9BJG98DGEEH5BHFKDEJJFN..FJH..96.8C9KGBA88..6A.9.C6DFH.BEGACCBD6G.4.B9.HAHBCE927GHFG8KGBEIL9IJHEFI.OBJCIDGFNHHH.FHGIAGIFGECIOLMLF.MJC.JBEJ.GN.IDAE.M.C.JMEGIFLG.DG..LI.FGGG.OHFIHILEIGCENONIJIJHIRPHJMOHNOHUQMFWLJNVPKQNNLOQDHNQOIJMNN.PJM.M..6EFAHE....E8CB.B.CDFFDDJ.EJGGFHBCAGB9IIJDCDHE.D.ACFKMKDIMGIIJGNHNFJLJPJKFLGIIPKJFLJGFNDCFJKIEMPOJLHJM.",
"...................................................C................................................................8...................8.......................................A....9......A......................................................E..........C....B...........................................................................N..........................C..............I..........D...B............C...............F.................D....................8..................................................G8...........6...............C.....C........C.................................A...C.............E.........A................................................B...............H....E......................C.......................................C.....................................................................................................................H..D......C...B......................H.................................................9.........D...........B.........G........................C............Q....................................A..............E..............................................H...................................E.........B..................A......................B....................................9...............G......A...C........................................U................H...D......A....A..................9.......H...6.....F.......I..................B..........................B..9........................................C..G...B.........9....B.....B........E....................................D..........................E...........C..........C...........................C............Q........................A.....A..............E...............7..........T.........................E.............C................E9..A.........F.EA.BCCI...............B.........B..A.......B.B........................................................A.HDF.................................................A.F..............................S............H........8F..F..............................I...........G..............................B....................H...9....6....B...................C.................8......C...............................................B..F.........9....................................................................D..B........B......F8.....E.H........................................DA.............................RC......................N..........................C.........S...........G.......................................C...............H.E...D......C....A...7....E.........................................C...................V...............9B.B...8......F....D..................E..D..G...................................B.....B...V.AB.F.J.............A......CD......E.DB..FD...D.8.....8Q8..EB.A.JD.....B....B.CA.C..9.C.......................SM......9B.A...C..CG....A.A...B.B....C.CCB..BFC.9.....H.............TE.7....C....B............B....AC.....A.....9C..IDA..9.B..B....7CA.......D.EB..C..9.......D..E.B.CD..B.......A.................A...CT..BB..F...8....7AB.D.........8A..C......I...A.AG...AE...A....A..A...DD.B.C...C.FCB.P.E.A9..................D.C...CB.9DD.L.GB...A9...BD.H..BB.A....B..............C...GG.AA.PBBA..G..JA..B..N....E.................C.8.......B8DC..R...DB.....D........C......9BQ.E....B.CC.A.F.C..G..A....CB.CDB.K.E...CS.C............B.A7.7.B...B...I....C..TDB.....D.......7...DB.BD.8..B.9BDD.......CK..........78.....88B.B..................B....E....F..BO.....9...F...B..C....X.B...C.B.9...R8.........7..A....EC.....G.D8.E..9D..................A......8...BAB.E..I....J....C......A....G.B.AC.........C....B...A..7..7D.C...D...........7..C.......P.....AC.A.....A.....E....E.........C.M9C........9F....AA.A...B..A.CH.E.CA.D......F..9.B9A.........A.....A..........AC.C...........H.....A..9..........................................D........O............9................G...CDB......D.....C.C..............E................9.................B....................J..............6BD.............9Q.D7......B................B...........8.........................A...................E.D.D..E......D..A9...........D...H......C...A.......A.H..B.S.....A9....C.......................C......B......9.AB......E..BED...BCC.D........C.CC......9....D.........C..EAA....C...........C..............I..AD....9........RC.C.GDDF...........C..98........F.....BB..............A............C..............B.................U.7.....J.........................................D.........E...6.............A...........CC...B..........7......A.C.......................B...C.........C...................9.....................C.BGBD........G..........F..............C.B.B.G.....................A......F.............D.................8..ABD....B.R........C...........9...........................................R.....C.....A.........F..F..E.....BAB8.........EA.....A...A...L.........B7.K.....E..BAAE.......B..C.........................................D.BH8.......F........B.E...D....B.....E...8..BH.C..B.....9C.P....N................G........9.F.P...D...B..AC.G......5.....IC.......B...............B..I.AB...........A...................A............D.C....9D.K.DD....A....D..B...ET.....6...B.........A.CC...7......B.........A...B....C........N......S...D.8.......D..D.B.AACI...B..A....FDC...A....E........A..........H..9...D.....A.B......9....C...........9.C......A........B....C..........A..9C........A9...EH....AC...MC.......M................................B..A...SD..............A..8.5E.BA.66.7..7..6..547.E99.44.B9..EC8787.7.85.D.88..........................C....77D.8....8...........8.99.A..4C.B8688......9M5.77.79.97A.8..Q.89899.8...7.......................B..BB............G........G...G..67.5....9..C.76AC.H...6.9.8.8977.49.6..8.B58..9.........................9....8...N......F.........9.7A...A7.86A4..6A..A.A8E6.A49B9.F9.69.7D..B9879.A7R7...............................................C.B...4.3..9778.9...68..A..A687..6.9696...6.B.9767....85A...............B...........B...A.B.D...A.I.......B....5A45.8..77.86F9.76....7.8.8.7A94.7.A.A78.E377F.7.........D...................6.....8......A.........A..9..866.Q4867..46B.A..6.977.7...7...5998.88686856.78A................N..........KRC...CG............A.A..6.D.5.8.44B.999.7A5.E...9.8.39A9...68.6..A9A9...8..8.................B..8..........BD.............8...BD.Q.65.68..5859.C5.6.65..B9..35A8..78.6C65.92.D3AAAQ............................CEC.H8EG............A..D.56.Q.FF9..A56..546..F8.5B..57.84.7..9..AB8A6469A..4..............B............QACF.A..CP...B.A...9....I.2..7B68987..H988.6...9.A.99.9..9..6.B96.6.75.A.7.88C......C..........8.........8....BI.9.7.............A.B.4..9.89......4.8.R8.B.9BAA9....8..79.6785.6..567........................F..E....E..............D....CA96..7.966G....6.99....BF5A8C7...D..F9A.7A...7G8H6.....8........................G............C.....7SA...9...5.98.A.....D88..86..5.7...D.B878.E9.99...867.77..............A....B.......9.A..O.......DB..K.....B..9.8CB85..C....9B.89874..6..7786..D886.7...77.D886A9.........................D.B.D...C..................AA7976B.594.7.5..5....697..6..A9..7.6.9A.D6.B..68648...........G...............CG...VC.8....8...A.............A959.6.5H..7.688.5B55.467B.8.6F9.56B.9....9E6......A......Q..................IG..C...BA........B....G..E.8.77.89.78......7.8.38.69..5GT.EA.D9Q6847..X..........................DBA....B...........7..9....7.C586B6G..67FA.......6....75.7.86C..746AA89A7.A9.67.................R........E..9.FA..C..............9...7...........8.7.................8........A.....8...J........................C...89..F.........I.........8C...A87.A..9.5.....E.867.5.5.6.B56G98.6.A...BB..A.....C..9........A.......A.............C...........D8..AA.B.77T6.BA.9.....6.......8A7..679788..H86T7.7.F...............................C......Q....D..C....G89969........485..6.9C.A.985SB.8D8.3A6AB8...BA968.7...........................F........A.....A....C.....39.8647..7866..G97....9.A595.B.E787747......7A4.9.B....9.....B............DA..9CD79E........B......C.....D..B.7786..7..77...9..9..E.2Q9F...97.88.5..7..9..7..9.............B......9.......B...A...........A.....7..8.66.E.97F7S.68..6.9A..7.7A.....7..97.4.7..768..8...................8A.....F....8.A.I.......D.......B7965...7..97A...C...6.4899..668..88EAC.A82....F5.8D.............................EFA.H................F.D6A.89EA..7.566.7.78...28....7.5.665.77.6E.9....9.8F....B..............I.......B...I.E..F.K.........Q..B...AA...9B6866.8.889.8.6.677A.H.9.7.B.6.6..C..8.89.78..........................F.F..B.CAD...DEB......AI..CC.6GB.6D..8A.U.9.....94964.6.7.A.F9....9.CA5.7.1E92..................I...........D..........C.......C..996.5A.586....77479.27..F.AD.A..A.A.A54A769.8.7CA8T9............................89A....G...8......BD.......877894DB..93366...3A98...6.....778DE9...9..77159..F........B.................A99K..7............HC..C786986............6.4769...6.99..86F...9737.9.D.7.55................F...I.........F....B...............D7BE......7..A6..6.3...98..5B4...G.B4..6A957.B..558........D.....C................A...D.C..9C......9BDH...D8H.6..8.7A.895.6667..9..D8.A7768....7.9...X88I66G6.....A....................D.F....BC...........B.C.....A6..6F6....78.68..9655B85.67.6B9..77579B9..5.A79...............................GD...B9...8...J..B.....F7..C998.D8.566788..98D79.87..86...8.M65.6786ED.768..........C...D.................9..........C...AB...E9.8A..9.7.BAA.7.4.7.6658..H8B.47...AG..7.95.894..987............H..D...........E...C..C................D7.85V988A.9877.6.75.B87.AA....57.9BA7..79BA.68.8..79...........................B..C.C.......B.........C.86...5..97...599B88.978.C499E.6C88.7779.87...F475877.............9............F..UBFA...C...............7.9.997.7D567...B.8..57...A8.78.7O58..V6.6GBF.8.7.M....D.......................G...B.B...............E..85.9F.38.8.9A5.79R6.8...749...5.7F.947EN7........7.3..........................A..B.A..I....CE...B.....A..7.5A4857699.8.4.97........94R5.38.5886.B..BF57D..R8....9.....................9.CHA..C.F...BB......D....9A7A8G8CCBB6..8.78B958...D...5.E....6...9.A...R7D.77....8........................F.C.9......9......C.....G.7.885.8....DF.87..5589....94.787.745.A.6..77.P4.A.....B......D...........T.A..............E....9.....9677.49.B8A7B....8L..898....6.....877787..7.8..B..4............................B.9AH8A.F.C.........D..888.8..8A.7C..767..A...85B.98..7CTG.4.B9.9K.657..6T97.................E...............V.........B.....B....G55..A.697.65HA.85.5E9.594C6.99.796..9E..AA.I5...66..........................B..D..A..C...B......C.....6..5H8.C9..67C588.9.8.79.5..75958F698..B5..54.8..5.A.................................D.HE...C...C..........89.A.8.757.8H5..8.8....86.986.X8858.8.5..9.F.9.77............8.............A..E.IB9.C................7.777.9.98B6.86O887...G99.9A98783.5.REA47.BS.678.9.A..............G............G.DDD..........C....J.9..84....64..9..788..D.58...C..F96.9.C..B77.67HF..7687."];
function hx(h){return [parseInt(h.substr(1,2),16),parseInt(h.substr(3,2),16),parseInt(h.substr(5,2),16)];}
var PR=P.map(hx);
for(var k=0;k<4;k++){
 var c=document.getElementById("h"+k); if(!c) continue;
 var g=c.getContext("2d"); var s=D[k];
 for(var i=0;i<104*104;i++){
  var ch=s.charAt(i); g.fillStyle = ch=="." ? NCH : P[A.indexOf(ch)];
  g.fillRect((i%104)*10, Math.floor(i/104)*10, 10, 10);
 }
}
})();
</script>
</body></html>
